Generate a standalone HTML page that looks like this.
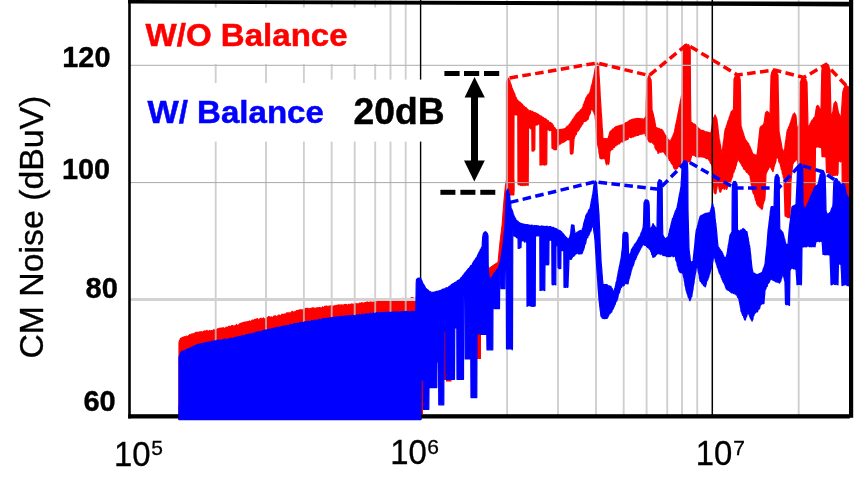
<!DOCTYPE html>
<html lang="en"><head><meta charset="utf-8"><title>CM Noise spectrum</title>
<style>html,body{margin:0;padding:0;background:#fff;}body{width:854px;height:494px;overflow:hidden;font-family:"Liberation Sans",Arial,sans-serif;}svg{display:block;}</style>
</head><body>
<svg width="854" height="494" viewBox="0 0 854 494" font-family="'Liberation Sans', Arial, sans-serif">
<rect width="854" height="494" fill="#fff"/>
<g fill="#ff0000" stroke="#ff0000" stroke-width="1.2" stroke-linejoin="round">
<path d="M179.0,342.7 L179.5,340.6 L180.0,339.8 L180.5,338.4 L181.0,338.8 L181.5,338.3 L182.0,337.6 L182.5,338.2 L183.0,337.2 L183.5,337.7 L184.0,336.8 L184.5,336.7 L185.0,337.1 L185.5,337.6 L186.0,336.2 L186.5,336.2 L187.0,336.7 L187.5,337.1 L188.0,336.2 L188.5,335.7 L189.0,336.6 L189.5,334.7 L190.0,336.0 L190.5,334.8 L191.0,334.3 L191.5,334.1 L192.0,334.2 L192.5,335.0 L193.0,333.6 L193.5,334.2 L194.0,334.1 L194.5,333.4 L195.0,333.5 L195.5,332.5 L196.0,332.3 L196.5,332.3 L197.0,333.0 L197.5,332.4 L198.0,332.1 L198.5,332.5 L199.0,332.2 L199.5,331.9 L200.0,332.7 L200.5,332.4 L201.0,331.6 L201.5,332.1 L202.0,331.9 L202.5,332.5 L203.0,332.1 L203.5,331.3 L204.0,332.5 L204.5,330.8 L205.0,331.3 L205.5,331.8 L206.0,330.7 L206.5,331.2 L207.0,330.3 L207.5,331.4 L208.0,331.5 L208.5,331.1 L209.0,331.6 L209.5,330.5 L210.0,331.1 L210.5,330.9 L211.0,330.8 L211.5,330.5 L212.0,331.1 L212.5,331.2 L213.0,330.3 L213.5,330.6 L214.0,329.4 L214.5,330.5 L215.0,330.3 L215.5,330.9 L216.0,330.4 L216.5,329.4 L217.0,329.4 L217.5,329.8 L218.0,328.6 L218.5,329.2 L219.0,328.6 L219.5,328.4 L220.0,328.2 L220.5,329.3 L221.0,328.1 L221.5,328.2 L222.0,328.3 L222.5,329.1 L223.0,327.5 L223.5,328.1 L224.0,328.2 L224.5,328.6 L225.0,328.4 L225.5,328.4 L226.0,327.2 L226.5,327.4 L227.0,327.1 L227.5,328.0 L228.0,328.0 L228.5,326.4 L229.0,326.4 L229.5,326.4 L230.0,326.2 L230.5,326.6 L231.0,326.7 L231.5,326.0 L232.0,325.4 L232.5,326.0 L233.0,325.8 L233.5,326.1 L234.0,326.6 L234.5,326.1 L235.0,325.6 L235.5,325.7 L236.0,325.6 L236.5,324.4 L237.0,325.8 L237.5,325.4 L238.0,325.4 L238.5,325.2 L239.0,324.3 L239.5,324.2 L240.0,323.5 L240.5,324.3 L241.0,323.2 L241.5,323.0 L242.0,323.1 L242.5,322.9 L243.0,323.1 L243.5,322.5 L244.0,322.2 L244.5,322.4 L245.0,322.1 L245.5,322.5 L246.0,321.7 L246.5,323.1 L247.0,322.5 L247.5,321.5 L248.0,321.6 L248.5,321.6 L249.0,321.5 L249.5,320.9 L250.0,322.1 L250.5,322.2 L251.0,321.1 L251.5,321.0 L252.0,320.2 L252.5,320.1 L253.0,320.4 L253.5,320.1 L254.0,321.0 L254.5,319.6 L255.0,319.2 L255.5,320.8 L256.0,319.9 L256.5,319.0 L257.0,319.6 L257.5,318.5 L258.0,319.4 L258.5,320.1 L259.0,319.8 L259.5,319.4 L260.0,318.5 L260.5,318.6 L261.0,318.2 L261.5,319.2 L262.0,318.7 L262.5,319.1 L263.0,318.2 L263.5,317.9 L264.0,318.9 L264.5,319.1 L265.0,318.8 L265.5,318.6 L266.0,318.5 L266.5,318.3 L267.0,317.3 L267.5,317.7 L268.0,317.4 L268.5,316.7 L269.0,316.6 L269.5,317.0 L270.0,316.8 L270.5,317.5 L271.0,317.9 L271.5,316.9 L272.0,317.7 L272.5,317.7 L273.0,317.6 L273.5,316.4 L274.0,316.1 L274.5,316.0 L275.0,315.9 L275.5,315.8 L276.0,316.5 L276.5,316.8 L277.0,316.6 L277.5,315.8 L278.0,316.0 L278.5,316.2 L279.0,314.8 L279.5,315.7 L280.0,316.0 L280.5,315.6 L281.0,315.5 L281.5,314.9 L282.0,314.2 L282.5,315.2 L283.0,314.2 L283.5,314.9 L284.0,315.1 L284.5,314.0 L285.0,313.9 L285.5,314.7 L286.0,314.2 L286.5,313.1 L287.0,312.9 L287.5,312.8 L288.0,314.0 L288.5,313.7 L289.0,312.4 L289.5,313.5 L290.0,313.7 L290.5,313.0 L291.0,312.3 L291.5,312.5 L292.0,311.6 L292.5,311.3 L293.0,312.9 L293.5,312.2 L294.0,311.9 L294.5,312.5 L295.0,311.4 L295.5,312.1 L296.0,311.9 L296.5,310.7 L297.0,310.6 L297.5,310.6 L298.0,310.4 L298.5,310.9 L299.0,310.1 L299.5,310.3 L300.0,309.7 L300.5,310.9 L301.0,309.8 L301.5,309.9 L302.0,310.0 L302.5,310.4 L303.0,309.4 L303.5,310.2 L304.0,309.4 L304.5,309.4 L305.0,309.3 L305.5,308.3 L306.0,309.0 L306.5,308.5 L307.0,308.1 L307.5,309.5 L308.0,308.3 L308.5,308.8 L309.0,309.2 L309.5,308.9 L310.0,308.4 L310.5,308.7 L311.0,308.7 L311.5,309.0 L312.0,307.8 L312.5,308.5 L313.0,307.9 L313.5,307.9 L314.0,308.7 L314.5,308.2 L315.0,308.2 L315.5,308.5 L316.0,308.8 L316.5,307.9 L317.0,308.1 L317.5,307.9 L318.0,307.8 L318.5,308.1 L319.0,307.6 L319.5,307.7 L320.0,307.5 L320.5,308.3 L321.0,307.8 L321.5,308.1 L322.0,308.1 L322.5,306.8 L323.0,307.3 L323.5,308.0 L324.0,307.7 L324.5,306.4 L325.0,306.3 L325.5,306.8 L326.0,306.1 L326.5,306.4 L327.0,306.0 L327.5,307.0 L328.0,307.2 L328.5,307.3 L329.0,305.9 L329.5,306.9 L330.0,306.7 L330.5,305.7 L331.0,307.0 L331.5,307.1 L332.0,305.7 L332.5,307.0 L333.0,306.0 L333.5,306.1 L334.0,306.9 L334.5,306.6 L335.0,305.4 L335.5,305.8 L336.0,305.9 L336.5,305.6 L337.0,305.3 L337.5,305.4 L338.0,306.1 L338.5,304.8 L339.0,305.8 L339.5,305.5 L340.0,304.7 L340.5,305.2 L341.0,305.7 L341.5,305.5 L342.0,304.6 L342.5,306.2 L343.0,305.9 L343.5,306.1 L344.0,304.5 L344.5,304.8 L345.0,304.3 L345.5,305.6 L346.0,304.7 L346.5,304.4 L347.0,304.9 L347.5,305.7 L348.0,305.5 L348.5,304.5 L349.0,304.2 L349.5,305.6 L350.0,304.9 L350.5,305.1 L351.0,304.0 L351.5,303.9 L352.0,304.9 L352.5,304.4 L353.0,303.8 L353.5,305.3 L354.0,304.7 L354.5,305.0 L355.0,303.6 L355.5,304.9 L356.0,303.4 L356.5,304.8 L357.0,304.0 L357.5,303.8 L358.0,304.1 L358.5,304.7 L359.0,303.4 L359.5,303.1 L360.0,303.8 L360.5,303.2 L361.0,302.9 L361.5,303.0 L362.0,302.7 L362.5,302.9 L363.0,303.0 L363.5,303.0 L364.0,303.7 L364.5,302.8 L365.0,303.1 L365.5,302.5 L366.0,302.7 L366.5,302.1 L367.0,302.4 L367.5,302.0 L368.0,303.2 L368.5,302.8 L369.0,302.1 L369.5,302.5 L370.0,303.3 L370.5,301.8 L371.0,303.0 L371.5,302.2 L372.0,302.3 L372.5,302.8 L373.0,302.0 L373.5,302.1 L374.0,302.4 L374.5,302.9 L375.0,301.6 L375.5,302.5 L376.0,302.2 L376.5,302.0 L377.0,301.5 L377.5,301.4 L378.0,300.8 L378.5,300.9 L379.0,300.7 L379.5,301.9 L380.0,300.9 L380.5,300.7 L381.0,300.5 L381.5,301.8 L382.0,301.8 L382.5,301.4 L383.0,300.6 L383.5,300.5 L384.0,300.6 L384.5,300.8 L385.0,300.2 L385.5,300.7 L386.0,300.3 L386.5,301.5 L387.0,301.5 L387.5,300.6 L388.0,300.0 L388.5,301.3 L389.0,300.0 L389.5,300.1 L390.0,299.4 L390.5,300.0 L391.0,300.1 L391.5,300.1 L392.0,299.5 L392.5,300.0 L393.0,299.1 L393.5,299.5 L394.0,299.1 L394.5,299.6 L395.0,298.9 L395.5,298.8 L396.0,299.3 L396.5,299.1 L397.0,299.7 L397.5,299.5 L398.0,299.9 L398.5,299.6 L399.0,299.7 L399.5,299.9 L400.0,299.0 L400.5,298.9 L401.0,300.0 L401.5,298.5 L402.0,299.5 L402.5,299.3 L403.0,298.2 L403.5,299.6 L404.0,299.7 L404.5,299.1 L405.0,299.3 L405.5,299.4 L406.0,298.2 L406.5,298.8 L407.0,298.8 L407.5,299.3 L408.0,299.2 L408.5,299.3 L409.0,298.8 L409.5,299.3 L410.0,298.9 L410.5,298.9 L411.0,298.0 L411.5,297.6 L412.0,297.8 L412.5,298.2 L413.0,297.7 L413.5,299.0 L414.0,298.4 L414.5,298.5 L415.0,298.5 L415.5,298.6 L416.0,298.2 L416.5,297.3 L417.0,298.7 L417.5,298.6 L418.0,298.2 L418.5,298.3 L419.0,298.5 L419.5,297.4 L420.0,298.6 L420.5,297.8 L421.0,297.4 L421.0,419.5 L420.5,419.5 L420.0,419.5 L419.5,419.5 L419.0,419.5 L418.5,419.5 L418.0,419.5 L417.5,419.5 L417.0,419.5 L416.5,419.5 L416.0,419.5 L415.5,419.5 L415.0,419.5 L414.5,419.5 L414.0,419.5 L413.5,419.5 L413.0,419.5 L412.5,419.5 L412.0,419.5 L411.5,419.5 L411.0,419.5 L410.5,419.5 L410.0,419.5 L409.5,419.5 L409.0,419.5 L408.5,419.5 L408.0,419.5 L407.5,419.5 L407.0,419.5 L406.5,419.5 L406.0,419.5 L405.5,419.5 L405.0,419.5 L404.5,419.5 L404.0,419.5 L403.5,419.5 L403.0,419.5 L402.5,419.5 L402.0,419.5 L401.5,419.5 L401.0,419.5 L400.5,419.5 L400.0,419.5 L399.5,419.5 L399.0,419.5 L398.5,419.5 L398.0,419.5 L397.5,419.5 L397.0,419.5 L396.5,419.5 L396.0,419.5 L395.5,419.5 L395.0,419.5 L394.5,419.5 L394.0,419.5 L393.5,419.5 L393.0,419.5 L392.5,419.5 L392.0,419.5 L391.5,419.5 L391.0,419.5 L390.5,419.5 L390.0,419.5 L389.5,419.5 L389.0,419.5 L388.5,419.5 L388.0,419.5 L387.5,419.5 L387.0,419.5 L386.5,419.5 L386.0,419.5 L385.5,419.5 L385.0,419.5 L384.5,419.5 L384.0,419.5 L383.5,419.5 L383.0,419.5 L382.5,419.5 L382.0,419.5 L381.5,419.5 L381.0,419.5 L380.5,419.5 L380.0,419.5 L379.5,419.5 L379.0,419.5 L378.5,419.5 L378.0,419.5 L377.5,419.5 L377.0,419.5 L376.5,419.5 L376.0,419.5 L375.5,419.5 L375.0,419.5 L374.5,419.5 L374.0,419.5 L373.5,419.5 L373.0,419.5 L372.5,419.5 L372.0,419.5 L371.5,419.5 L371.0,419.5 L370.5,419.5 L370.0,419.5 L369.5,419.5 L369.0,419.5 L368.5,419.5 L368.0,419.5 L367.5,419.5 L367.0,419.5 L366.5,419.5 L366.0,419.5 L365.5,419.5 L365.0,419.5 L364.5,419.5 L364.0,419.5 L363.5,419.5 L363.0,419.5 L362.5,419.5 L362.0,419.5 L361.5,419.5 L361.0,419.5 L360.5,419.5 L360.0,419.5 L359.5,419.5 L359.0,419.5 L358.5,419.5 L358.0,419.5 L357.5,419.5 L357.0,419.5 L356.5,419.5 L356.0,419.5 L355.5,419.5 L355.0,419.5 L354.5,419.5 L354.0,419.5 L353.5,419.5 L353.0,419.5 L352.5,419.5 L352.0,419.5 L351.5,419.5 L351.0,419.5 L350.5,419.5 L350.0,419.5 L349.5,419.5 L349.0,419.5 L348.5,419.5 L348.0,419.5 L347.5,419.5 L347.0,419.5 L346.5,419.5 L346.0,419.5 L345.5,419.5 L345.0,419.5 L344.5,419.5 L344.0,419.5 L343.5,419.5 L343.0,419.5 L342.5,419.5 L342.0,419.5 L341.5,419.5 L341.0,419.5 L340.5,419.5 L340.0,419.5 L339.5,419.5 L339.0,419.5 L338.5,419.5 L338.0,419.5 L337.5,419.5 L337.0,419.5 L336.5,419.5 L336.0,419.5 L335.5,419.5 L335.0,419.5 L334.5,419.5 L334.0,419.5 L333.5,419.5 L333.0,419.5 L332.5,419.5 L332.0,419.5 L331.5,419.5 L331.0,419.5 L330.5,419.5 L330.0,419.5 L329.5,419.5 L329.0,419.5 L328.5,419.5 L328.0,419.5 L327.5,419.5 L327.0,419.5 L326.5,419.5 L326.0,419.5 L325.5,419.5 L325.0,419.5 L324.5,419.5 L324.0,419.5 L323.5,419.5 L323.0,419.5 L322.5,419.5 L322.0,419.5 L321.5,419.5 L321.0,419.5 L320.5,419.5 L320.0,419.5 L319.5,419.5 L319.0,419.5 L318.5,419.5 L318.0,419.5 L317.5,419.5 L317.0,419.5 L316.5,419.5 L316.0,419.5 L315.5,419.5 L315.0,419.5 L314.5,419.5 L314.0,419.5 L313.5,419.5 L313.0,419.5 L312.5,419.5 L312.0,419.5 L311.5,419.5 L311.0,419.5 L310.5,419.5 L310.0,419.5 L309.5,419.5 L309.0,419.5 L308.5,419.5 L308.0,419.5 L307.5,419.5 L307.0,419.5 L306.5,419.5 L306.0,419.5 L305.5,419.5 L305.0,419.5 L304.5,419.5 L304.0,419.5 L303.5,419.5 L303.0,419.5 L302.5,419.5 L302.0,419.5 L301.5,419.5 L301.0,419.5 L300.5,419.5 L300.0,419.5 L299.5,419.5 L299.0,419.5 L298.5,419.5 L298.0,419.5 L297.5,419.5 L297.0,419.5 L296.5,419.5 L296.0,419.5 L295.5,419.5 L295.0,419.5 L294.5,419.5 L294.0,419.5 L293.5,419.5 L293.0,419.5 L292.5,419.5 L292.0,419.5 L291.5,419.5 L291.0,419.5 L290.5,419.5 L290.0,419.5 L289.5,419.5 L289.0,419.5 L288.5,419.5 L288.0,419.5 L287.5,419.5 L287.0,419.5 L286.5,419.5 L286.0,419.5 L285.5,419.5 L285.0,419.5 L284.5,419.5 L284.0,419.5 L283.5,419.5 L283.0,419.5 L282.5,419.5 L282.0,419.5 L281.5,419.5 L281.0,419.5 L280.5,419.5 L280.0,419.5 L279.5,419.5 L279.0,419.5 L278.5,419.5 L278.0,419.5 L277.5,419.5 L277.0,419.5 L276.5,419.5 L276.0,419.5 L275.5,419.5 L275.0,419.5 L274.5,419.5 L274.0,419.5 L273.5,419.5 L273.0,419.5 L272.5,419.5 L272.0,419.5 L271.5,419.5 L271.0,419.5 L270.5,419.5 L270.0,419.5 L269.5,419.5 L269.0,419.5 L268.5,419.5 L268.0,419.5 L267.5,419.5 L267.0,419.5 L266.5,419.5 L266.0,419.5 L265.5,419.5 L265.0,419.5 L264.5,419.5 L264.0,419.5 L263.5,419.5 L263.0,419.5 L262.5,419.5 L262.0,419.5 L261.5,419.5 L261.0,419.5 L260.5,419.5 L260.0,419.5 L259.5,419.5 L259.0,419.5 L258.5,419.5 L258.0,419.5 L257.5,419.5 L257.0,419.5 L256.5,419.5 L256.0,419.5 L255.5,419.5 L255.0,419.5 L254.5,419.5 L254.0,419.5 L253.5,419.5 L253.0,419.5 L252.5,419.5 L252.0,419.5 L251.5,419.5 L251.0,419.5 L250.5,419.5 L250.0,419.5 L249.5,419.5 L249.0,419.5 L248.5,419.5 L248.0,419.5 L247.5,419.5 L247.0,419.5 L246.5,419.5 L246.0,419.5 L245.5,419.5 L245.0,419.5 L244.5,419.5 L244.0,419.5 L243.5,419.5 L243.0,419.5 L242.5,419.5 L242.0,419.5 L241.5,419.5 L241.0,419.5 L240.5,419.5 L240.0,419.5 L239.5,419.5 L239.0,419.5 L238.5,419.5 L238.0,419.5 L237.5,419.5 L237.0,419.5 L236.5,419.5 L236.0,419.5 L235.5,419.5 L235.0,419.5 L234.5,419.5 L234.0,419.5 L233.5,419.5 L233.0,419.5 L232.5,419.5 L232.0,419.5 L231.5,419.5 L231.0,419.5 L230.5,419.5 L230.0,419.5 L229.5,419.5 L229.0,419.5 L228.5,419.5 L228.0,419.5 L227.5,419.5 L227.0,419.5 L226.5,419.5 L226.0,419.5 L225.5,419.5 L225.0,419.5 L224.5,419.5 L224.0,419.5 L223.5,419.5 L223.0,419.5 L222.5,419.5 L222.0,419.5 L221.5,419.5 L221.0,419.5 L220.5,419.5 L220.0,419.5 L219.5,419.5 L219.0,419.5 L218.5,419.5 L218.0,419.5 L217.5,419.5 L217.0,419.5 L216.5,419.5 L216.0,419.5 L215.5,419.5 L215.0,419.5 L214.5,419.5 L214.0,419.5 L213.5,419.5 L213.0,419.5 L212.5,419.5 L212.0,419.5 L211.5,419.5 L211.0,419.5 L210.5,419.5 L210.0,419.5 L209.5,419.5 L209.0,419.5 L208.5,419.5 L208.0,419.5 L207.5,419.5 L207.0,419.5 L206.5,419.5 L206.0,419.5 L205.5,419.5 L205.0,419.5 L204.5,419.5 L204.0,419.5 L203.5,419.5 L203.0,419.5 L202.5,419.5 L202.0,419.5 L201.5,419.5 L201.0,419.5 L200.5,419.5 L200.0,419.5 L199.5,419.5 L199.0,419.5 L198.5,419.5 L198.0,419.5 L197.5,419.5 L197.0,419.5 L196.5,419.5 L196.0,419.5 L195.5,419.5 L195.0,419.5 L194.5,419.5 L194.0,419.5 L193.5,419.5 L193.0,419.5 L192.5,419.5 L192.0,419.5 L191.5,419.5 L191.0,419.5 L190.5,419.5 L190.0,419.5 L189.5,419.5 L189.0,419.5 L188.5,419.5 L188.0,419.5 L187.5,419.5 L187.0,419.5 L186.5,419.5 L186.0,419.5 L185.5,419.5 L185.0,419.5 L184.5,419.5 L184.0,419.5 L183.5,419.5 L183.0,419.5 L182.5,419.5 L182.0,419.5 L181.5,419.5 L181.0,419.5 L180.5,419.5 L180.0,419.5 L179.5,419.5 L179.0,419.5Z"/>
<path d="M506.5,81.7 L506.8,81.6 L507.0,80.1 L507.2,80.1 L507.5,79.7 L507.8,78.7 L508.0,78.3 L508.2,78.2 L508.5,78.3 L508.8,79.0 L509.0,79.5 L509.2,80.2 L509.5,80.1 L509.8,80.8 L510.0,81.7 L510.2,83.1 L510.5,83.2 L510.8,84.3 L511.0,84.3 L511.2,85.1 L511.5,86.2 L511.8,87.5 L512.0,88.3 L512.2,88.8 L512.5,88.9 L512.8,89.8 L513.0,90.4 L513.2,91.0 L513.5,91.1 L513.8,92.8 L514.0,92.4 L514.2,94.1 L514.5,94.6 L514.8,93.9 L515.0,95.1 L515.2,96.2 L515.5,97.1 L515.8,96.9 L516.0,97.3 L516.2,97.8 L516.5,99.4 L516.8,99.0 L517.0,100.1 L517.2,99.7 L517.5,100.5 L517.8,101.3 L518.0,100.4 L518.2,101.6 L518.5,101.4 L518.8,102.2 L519.0,102.1 L519.2,101.7 L519.5,102.9 L519.8,102.5 L520.0,102.1 L520.2,102.3 L520.5,103.2 L520.8,103.4 L521.0,103.4 L521.2,103.4 L521.5,103.9 L521.8,104.1 L522.0,105.1 L522.2,104.1 L522.5,105.4 L522.8,105.7 L523.0,105.0 L523.2,106.3 L523.5,106.2 L523.8,106.7 L524.0,106.1 L524.2,106.4 L524.5,106.7 L524.8,107.8 L525.0,107.4 L525.2,107.3 L525.5,107.6 L525.8,107.7 L526.0,107.6 L526.2,107.9 L526.5,109.1 L526.8,108.6 L527.0,109.7 L527.2,109.0 L527.5,109.2 L527.8,109.8 L528.0,109.6 L528.2,109.9 L528.5,110.9 L528.8,110.9 L529.0,110.9 L529.2,110.7 L529.5,111.2 L529.8,111.4 L530.0,111.0 L530.2,111.3 L530.5,110.5 L530.8,111.5 L531.0,111.3 L531.2,111.8 L531.5,111.8 L531.8,111.4 L532.0,111.1 L532.2,112.5 L532.5,111.5 L532.8,112.1 L533.0,112.0 L533.2,112.1 L533.5,112.8 L533.8,113.2 L534.0,112.3 L534.2,113.0 L534.5,112.6 L534.8,113.1 L535.0,113.0 L535.2,112.8 L535.5,112.9 L535.8,113.0 L536.0,114.1 L536.2,113.7 L536.5,113.4 L536.8,114.5 L537.0,114.7 L537.2,114.1 L537.5,113.8 L537.8,114.0 L538.0,114.0 L538.2,114.6 L538.5,114.4 L538.8,114.7 L539.0,114.9 L539.2,115.5 L539.5,116.1 L539.8,116.1 L540.0,115.7 L540.2,115.9 L540.5,116.2 L540.8,116.2 L541.0,116.3 L541.2,116.0 L541.5,116.5 L541.8,117.6 L542.0,116.6 L542.2,117.3 L542.5,117.6 L542.8,118.1 L543.0,117.3 L543.2,117.6 L543.5,117.7 L543.8,118.1 L544.0,118.3 L544.2,119.1 L544.5,119.2 L544.8,119.3 L545.0,118.3 L545.2,118.5 L545.5,119.6 L545.8,120.0 L546.0,119.6 L546.2,119.9 L546.5,119.3 L546.8,120.0 L547.0,120.9 L547.2,121.0 L547.5,121.2 L547.8,121.5 L548.0,120.7 L548.2,120.7 L548.5,120.9 L548.8,121.6 L549.0,122.1 L549.2,122.6 L549.5,122.5 L549.8,122.6 L550.0,122.9 L550.2,122.7 L550.5,123.0 L550.8,122.4 L551.0,123.7 L551.2,123.1 L551.5,124.2 L551.8,124.0 L552.0,123.7 L552.2,123.9 L552.5,124.4 L552.8,125.3 L553.0,125.8 L553.2,125.3 L553.5,125.6 L553.8,126.7 L554.0,127.1 L554.2,127.2 L554.5,127.4 L554.8,128.3 L555.0,127.8 L555.2,128.6 L555.5,129.2 L555.8,130.3 L556.0,130.2 L556.2,130.5 L556.5,130.0 L556.8,129.6 L557.0,129.6 L557.2,130.6 L557.5,130.3 L557.8,129.7 L558.0,129.3 L558.2,130.0 L558.5,130.2 L558.8,129.9 L559.0,129.7 L559.2,130.2 L559.5,130.6 L559.8,129.6 L560.0,129.3 L560.2,129.7 L560.5,129.8 L560.8,130.1 L561.0,129.4 L561.2,130.2 L561.5,130.0 L561.8,129.7 L562.0,129.2 L562.2,130.2 L562.5,129.2 L562.8,129.9 L563.0,129.0 L563.2,129.0 L563.5,129.7 L563.8,129.0 L564.0,129.8 L564.2,129.1 L564.5,128.7 L564.8,128.7 L565.0,128.9 L565.2,129.0 L565.5,129.1 L565.8,127.8 L566.0,127.9 L566.2,127.3 L566.5,128.2 L566.8,126.7 L567.0,126.4 L567.2,126.1 L567.5,126.4 L567.8,126.8 L568.0,126.5 L568.2,126.1 L568.5,126.2 L568.8,125.9 L569.0,124.8 L569.2,124.3 L569.5,125.1 L569.8,124.6 L570.0,123.3 L570.2,123.9 L570.5,123.1 L570.8,122.7 L571.0,122.3 L571.2,121.7 L571.5,121.1 L571.8,121.1 L572.0,120.8 L572.2,121.3 L572.5,119.7 L572.8,120.5 L573.0,119.1 L573.2,118.9 L573.5,119.2 L573.8,118.8 L574.0,117.9 L574.2,117.0 L574.5,117.2 L574.8,116.7 L575.0,117.1 L575.2,115.7 L575.5,115.6 L575.8,115.9 L576.0,114.3 L576.2,114.6 L576.5,114.9 L576.8,114.6 L577.0,113.4 L577.2,113.1 L577.5,112.9 L577.8,113.8 L578.0,112.7 L578.2,113.1 L578.5,113.1 L578.8,112.0 L579.0,111.7 L579.2,112.4 L579.5,111.7 L579.8,110.9 L580.0,111.3 L580.2,110.5 L580.5,110.2 L580.8,109.6 L581.0,110.4 L581.2,110.3 L581.5,109.7 L581.8,109.9 L582.0,108.3 L582.2,107.9 L582.5,107.6 L582.8,107.6 L583.0,106.9 L583.2,105.4 L583.5,104.5 L583.8,104.1 L584.0,103.5 L584.2,103.4 L584.5,101.7 L584.8,101.9 L585.0,101.1 L585.2,100.5 L585.5,99.8 L585.8,98.8 L586.0,97.8 L586.2,97.4 L586.5,97.1 L586.8,97.4 L587.0,96.0 L587.2,95.9 L587.5,96.3 L587.8,95.2 L588.0,94.6 L588.2,94.3 L588.5,94.6 L588.8,94.0 L589.0,94.5 L589.2,94.1 L589.5,93.9 L589.8,92.5 L590.0,91.9 L590.2,90.9 L590.5,90.4 L590.8,89.6 L591.0,88.2 L591.2,86.8 L591.5,86.0 L591.8,85.3 L592.0,84.3 L592.2,83.3 L592.5,82.4 L592.8,81.1 L593.0,79.3 L593.2,79.2 L593.5,77.4 L593.8,76.7 L594.0,75.4 L594.2,74.5 L594.5,72.4 L594.8,71.1 L595.0,69.7 L595.2,68.2 L595.5,67.8 L595.8,66.0 L596.0,64.3 L596.2,64.0 L596.5,64.4 L596.8,63.4 L597.0,62.6 L597.2,63.8 L597.5,63.9 L597.8,64.7 L598.0,63.8 L598.2,64.6 L598.5,65.4 L598.8,69.9 L599.0,74.3 L599.2,77.5 L599.5,82.2 L599.8,86.3 L600.0,90.8 L600.2,96.3 L600.5,100.1 L600.8,104.5 L601.0,107.6 L601.2,112.2 L601.5,115.5 L601.8,119.2 L602.0,123.8 L602.2,127.9 L602.5,130.6 L602.8,135.2 L603.0,139.2 L603.2,138.6 L603.5,138.8 L603.8,138.5 L604.0,138.6 L604.2,138.7 L604.5,139.2 L604.8,139.3 L605.0,138.7 L605.2,138.5 L605.5,138.9 L605.8,139.4 L606.0,138.7 L606.2,138.9 L606.5,138.8 L606.8,139.6 L607.0,139.3 L607.2,138.6 L607.5,138.7 L607.8,139.1 L608.0,139.4 L608.2,138.6 L608.5,136.9 L608.8,136.0 L609.0,135.8 L609.2,134.5 L609.5,133.4 L609.8,132.5 L610.0,132.4 L610.2,131.3 L610.5,131.5 L610.8,131.0 L611.0,130.9 L611.2,131.3 L611.5,131.3 L611.8,130.2 L612.0,129.8 L612.2,130.3 L612.5,129.4 L612.8,128.9 L613.0,130.0 L613.2,129.1 L613.5,129.4 L613.8,128.7 L614.0,129.1 L614.2,128.3 L614.5,127.7 L614.8,127.3 L615.0,127.9 L615.2,127.8 L615.5,128.0 L615.8,126.6 L616.0,127.2 L616.2,126.7 L616.5,126.9 L616.8,126.3 L617.0,126.4 L617.2,126.7 L617.5,127.2 L617.8,126.0 L618.0,126.4 L618.2,126.8 L618.5,126.9 L618.8,125.8 L619.0,125.6 L619.2,126.7 L619.5,126.7 L619.8,125.9 L620.0,125.2 L620.2,126.4 L620.5,125.6 L620.8,126.2 L621.0,125.7 L621.2,126.0 L621.5,125.0 L621.8,125.8 L622.0,124.9 L622.2,125.1 L622.5,125.6 L622.8,125.5 L623.0,124.6 L623.2,124.4 L623.5,124.5 L623.8,124.6 L624.0,124.2 L624.2,123.7 L624.5,123.7 L624.8,124.2 L625.0,124.3 L625.2,122.9 L625.5,123.5 L625.8,123.6 L626.0,122.5 L626.2,123.4 L626.5,122.3 L626.8,122.8 L627.0,122.6 L627.2,122.5 L627.5,121.9 L627.8,121.9 L628.0,122.0 L628.2,121.6 L628.5,121.8 L628.8,121.3 L629.0,121.1 L629.2,120.4 L629.5,121.1 L629.8,120.7 L630.0,120.2 L630.2,120.9 L630.5,120.9 L630.8,120.3 L631.0,119.9 L631.2,120.2 L631.5,119.6 L631.8,119.6 L632.0,120.0 L632.2,119.4 L632.5,119.8 L632.8,119.9 L633.0,119.1 L633.2,119.9 L633.5,119.1 L633.8,119.9 L634.0,119.9 L634.2,119.5 L634.5,118.8 L634.8,119.3 L635.0,119.1 L635.2,119.8 L635.5,118.6 L635.8,119.5 L636.0,119.7 L636.2,119.2 L636.5,119.3 L636.8,118.3 L637.0,119.4 L637.2,118.7 L637.5,119.4 L637.8,119.4 L638.0,118.4 L638.2,119.3 L638.5,119.5 L638.8,118.3 L639.0,118.7 L639.2,119.3 L639.5,118.5 L639.8,119.6 L640.0,118.8 L640.2,119.6 L640.5,118.7 L640.8,119.2 L641.0,119.8 L641.2,118.8 L641.5,118.9 L641.8,119.3 L642.0,119.1 L642.2,118.7 L642.5,119.0 L642.8,119.0 L643.0,120.1 L643.2,119.8 L643.5,120.1 L643.8,119.1 L644.0,120.0 L644.2,118.6 L644.5,118.7 L644.8,118.4 L645.0,117.6 L645.2,117.9 L645.5,117.0 L645.8,116.6 L646.0,116.5 L646.2,104.2 L646.5,94.2 L646.8,82.4 L647.0,79.4 L647.2,79.5 L647.5,78.2 L647.8,78.7 L648.0,77.7 L648.2,76.8 L648.5,76.9 L648.8,75.9 L649.0,75.0 L649.2,76.4 L649.5,75.9 L649.8,77.5 L650.0,77.2 L650.2,78.3 L650.5,79.2 L650.8,79.2 L651.0,79.8 L651.2,81.6 L651.5,90.6 L651.8,100.0 L652.0,109.5 L652.2,110.9 L652.5,111.4 L652.8,112.3 L653.0,113.6 L653.2,113.7 L653.5,115.1 L653.8,117.0 L654.0,117.3 L654.2,118.6 L654.5,120.3 L654.8,121.2 L655.0,122.8 L655.2,123.9 L655.5,125.6 L655.8,126.9 L656.0,127.6 L656.2,128.3 L656.5,128.1 L656.8,127.7 L657.0,128.9 L657.2,128.1 L657.5,128.0 L657.8,128.0 L658.0,128.9 L658.2,129.3 L658.5,129.2 L658.8,128.8 L659.0,128.7 L659.2,128.4 L659.5,129.4 L659.8,129.3 L660.0,129.1 L660.2,129.6 L660.5,129.4 L660.8,130.2 L661.0,130.0 L661.2,129.4 L661.5,130.4 L661.8,129.3 L662.0,130.0 L662.2,130.3 L662.5,130.4 L662.8,130.6 L663.0,132.0 L663.2,131.3 L663.5,132.5 L663.8,133.5 L664.0,132.7 L664.2,133.2 L664.5,134.2 L664.8,134.5 L665.0,135.1 L665.2,135.7 L665.5,135.2 L665.8,135.8 L666.0,136.2 L666.2,136.2 L666.5,137.7 L666.8,137.9 L667.0,138.2 L667.2,137.5 L667.5,139.0 L667.8,139.2 L668.0,139.2 L668.2,139.9 L668.5,139.9 L668.8,139.9 L669.0,140.1 L669.2,140.6 L669.5,140.7 L669.8,141.4 L670.0,142.3 L670.2,141.8 L670.5,141.4 L670.8,140.7 L671.0,139.6 L671.2,139.5 L671.5,138.8 L671.8,138.8 L672.0,137.9 L672.2,137.0 L672.5,137.0 L672.8,136.9 L673.0,135.4 L673.2,135.8 L673.5,134.1 L673.8,133.9 L674.0,133.3 L674.2,132.8 L674.5,131.8 L674.8,130.3 L675.0,128.5 L675.2,128.0 L675.5,126.0 L675.8,124.6 L676.0,124.3 L676.2,122.6 L676.5,121.5 L676.8,120.2 L677.0,119.4 L677.2,117.4 L677.5,116.7 L677.8,115.2 L678.0,114.2 L678.2,112.4 L678.5,111.5 L678.8,110.0 L679.0,108.4 L679.2,107.0 L679.5,106.4 L679.8,104.4 L680.0,104.3 L680.2,102.0 L680.5,100.6 L680.8,99.5 L681.0,99.5 L681.2,97.4 L681.5,95.9 L681.8,94.6 L682.0,93.4 L682.2,83.3 L682.5,72.2 L682.8,61.3 L683.0,50.3 L683.2,48.6 L683.5,48.6 L683.8,47.6 L684.0,47.4 L684.2,46.7 L684.5,46.0 L684.8,44.8 L685.0,45.8 L685.2,45.8 L685.5,45.7 L685.8,44.4 L686.0,44.4 L686.2,44.2 L686.5,44.0 L686.8,45.0 L687.0,45.0 L687.2,44.9 L687.5,45.3 L687.8,45.1 L688.0,44.7 L688.2,44.6 L688.5,44.7 L688.8,45.7 L689.0,45.1 L689.2,46.1 L689.5,47.1 L689.8,47.4 L690.0,48.6 L690.2,49.5 L690.5,95.6 L690.8,119.5 L691.0,122.2 L691.2,123.3 L691.5,122.8 L691.8,123.5 L692.0,123.3 L692.2,122.6 L692.5,123.3 L692.8,123.5 L693.0,124.1 L693.2,123.7 L693.5,124.3 L693.8,124.3 L694.0,124.0 L694.2,125.0 L694.5,124.1 L694.8,125.3 L695.0,124.5 L695.2,124.6 L695.5,125.1 L695.8,126.1 L696.0,126.7 L696.2,125.6 L696.5,126.5 L696.8,126.7 L697.0,127.4 L697.2,126.8 L697.5,127.5 L697.8,127.5 L698.0,128.5 L698.2,127.9 L698.5,129.1 L698.8,128.4 L699.0,128.6 L699.2,129.5 L699.5,129.5 L699.8,129.2 L700.0,130.2 L700.2,129.5 L700.5,130.6 L700.8,130.5 L701.0,130.7 L701.2,130.6 L701.5,130.3 L701.8,130.4 L702.0,130.5 L702.2,131.3 L702.5,130.3 L702.8,131.5 L703.0,130.3 L703.2,130.7 L703.5,130.8 L703.8,131.8 L704.0,131.3 L704.2,131.2 L704.5,132.0 L704.8,131.2 L705.0,131.6 L705.2,131.8 L705.5,132.2 L705.8,132.3 L706.0,132.2 L706.2,131.9 L706.5,131.9 L706.8,131.8 L707.0,132.8 L707.2,132.7 L707.5,132.8 L707.8,132.1 L708.0,132.6 L708.2,133.1 L708.5,133.0 L708.8,132.4 L709.0,133.0 L709.2,133.6 L709.5,132.8 L709.8,132.8 L710.0,133.1 L710.2,133.7 L710.5,134.0 L710.8,133.1 L711.0,133.2 L711.2,131.6 L711.5,130.0 L711.8,128.6 L712.0,126.4 L712.2,124.9 L712.5,123.0 L712.8,122.4 L713.0,120.3 L713.2,118.8 L713.5,119.4 L713.8,117.6 L714.0,117.3 L714.2,117.6 L714.5,116.7 L714.8,116.0 L715.0,114.9 L715.2,115.2 L715.5,116.4 L715.8,116.3 L716.0,117.1 L716.2,118.0 L716.5,118.1 L716.8,119.2 L717.0,120.4 L717.2,122.5 L717.5,124.4 L717.8,126.7 L718.0,128.7 L718.2,130.4 L718.5,133.3 L718.8,135.2 L719.0,137.8 L719.2,139.4 L719.5,140.2 L719.8,141.7 L720.0,143.3 L720.2,144.3 L720.5,145.4 L720.8,147.4 L721.0,149.0 L721.2,150.3 L721.5,151.5 L721.8,153.1 L722.0,154.3 L722.2,152.2 L722.5,149.9 L722.8,147.7 L723.0,146.2 L723.2,143.4 L723.5,141.9 L723.8,140.4 L724.0,138.3 L724.2,136.2 L724.5,133.7 L724.8,131.9 L725.0,129.9 L725.2,129.5 L725.5,128.5 L725.8,128.1 L726.0,127.8 L726.2,126.0 L726.5,126.0 L726.8,125.4 L727.0,124.2 L727.2,123.6 L727.5,123.6 L727.8,121.6 L728.0,121.6 L728.2,120.3 L728.5,120.5 L728.8,120.0 L729.0,118.7 L729.2,117.3 L729.5,117.1 L729.8,116.2 L730.0,115.7 L730.2,114.5 L730.5,113.9 L730.8,113.3 L731.0,112.0 L731.2,111.7 L731.5,112.2 L731.8,111.0 L732.0,111.5 L732.2,110.9 L732.5,111.2 L732.8,110.1 L733.0,111.1 L733.2,110.1 L733.5,109.5 L733.8,94.7 L734.0,79.6 L734.2,78.3 L734.5,78.2 L734.8,77.5 L735.0,77.1 L735.2,75.9 L735.5,75.6 L735.8,75.4 L736.0,76.0 L736.2,76.1 L736.5,75.4 L736.8,74.8 L737.0,75.5 L737.2,74.9 L737.5,74.7 L737.8,74.8 L738.0,75.8 L738.2,76.0 L738.5,75.8 L738.8,75.7 L739.0,76.0 L739.2,75.8 L739.5,77.6 L739.8,77.6 L740.0,78.9 L740.2,79.9 L740.5,91.7 L740.8,119.3 L741.0,125.5 L741.2,126.8 L741.5,127.1 L741.8,129.0 L742.0,129.1 L742.2,130.6 L742.5,130.6 L742.8,131.5 L743.0,132.2 L743.2,133.2 L743.5,133.7 L743.8,134.3 L744.0,136.1 L744.2,136.3 L744.5,137.0 L744.8,137.9 L745.0,139.0 L745.2,139.3 L745.5,139.9 L745.8,140.3 L746.0,140.3 L746.2,141.5 L746.5,141.7 L746.8,141.0 L747.0,142.5 L747.2,142.9 L747.5,143.1 L747.8,142.6 L748.0,144.0 L748.2,144.1 L748.5,143.6 L748.8,143.9 L749.0,145.6 L749.2,145.8 L749.5,145.8 L749.8,146.1 L750.0,146.7 L750.2,147.4 L750.5,148.8 L750.8,148.7 L751.0,149.0 L751.2,150.6 L751.5,151.0 L751.8,150.7 L752.0,152.3 L752.2,152.5 L752.5,153.3 L752.8,153.7 L753.0,154.6 L753.2,154.5 L753.5,154.7 L753.8,154.0 L754.0,154.8 L754.2,154.7 L754.5,155.1 L754.8,154.8 L755.0,155.5 L755.2,155.2 L755.5,154.9 L755.8,155.0 L756.0,155.0 L756.2,155.6 L756.5,155.1 L756.8,155.8 L757.0,155.5 L757.2,153.7 L757.5,151.3 L757.8,149.1 L758.0,147.2 L758.2,143.6 L758.5,142.5 L758.8,139.6 L759.0,137.4 L759.2,135.2 L759.5,133.1 L759.8,130.2 L760.0,127.9 L760.2,128.4 L760.5,126.9 L760.8,127.4 L761.0,127.2 L761.2,126.1 L761.5,126.7 L761.8,126.5 L762.0,126.6 L762.2,125.5 L762.5,126.2 L762.8,125.3 L763.0,125.0 L763.2,125.3 L763.5,123.8 L763.8,124.6 L764.0,124.2 L764.2,121.9 L764.5,120.8 L764.8,118.3 L765.0,116.6 L765.2,114.9 L765.5,113.4 L765.8,112.3 L766.0,112.4 L766.2,112.1 L766.5,112.1 L766.8,112.2 L767.0,111.2 L767.2,112.1 L767.5,111.7 L767.8,112.1 L768.0,111.9 L768.2,112.4 L768.5,113.3 L768.8,113.0 L769.0,113.4 L769.2,114.2 L769.5,115.5 L769.8,116.9 L770.0,118.7 L770.2,107.9 L770.5,97.2 L770.8,85.3 L771.0,75.3 L771.2,74.9 L771.5,73.7 L771.8,72.4 L772.0,72.1 L772.2,71.0 L772.5,70.6 L772.8,71.5 L773.0,70.9 L773.2,70.8 L773.5,70.9 L773.8,70.9 L774.0,70.4 L774.2,70.3 L774.5,70.2 L774.8,70.4 L775.0,70.4 L775.2,70.6 L775.5,70.1 L775.8,70.9 L776.0,70.7 L776.2,71.2 L776.5,70.4 L776.8,71.2 L777.0,71.7 L777.2,73.4 L777.5,74.2 L777.8,74.6 L778.0,74.8 L778.2,89.6 L778.5,103.8 L778.8,117.6 L779.0,131.4 L779.2,132.8 L779.5,134.3 L779.8,135.5 L780.0,137.0 L780.2,138.7 L780.5,140.5 L780.8,140.6 L781.0,142.7 L781.2,143.3 L781.5,144.7 L781.8,147.1 L782.0,148.1 L782.2,149.3 L782.5,149.4 L782.8,149.6 L783.0,150.8 L783.2,151.9 L783.5,153.1 L783.8,153.9 L784.0,154.0 L784.2,152.0 L784.5,149.7 L784.8,148.6 L785.0,146.2 L785.2,144.2 L785.5,142.2 L785.8,140.3 L786.0,139.4 L786.2,136.7 L786.5,136.1 L786.8,133.0 L787.0,132.2 L787.2,130.5 L787.5,129.7 L787.8,130.1 L788.0,128.8 L788.2,128.8 L788.5,127.4 L788.8,126.6 L789.0,127.0 L789.2,126.2 L789.5,125.8 L789.8,125.0 L790.0,123.4 L790.2,123.4 L790.5,122.8 L790.8,121.7 L791.0,121.6 L791.2,119.9 L791.5,120.2 L791.8,119.1 L792.0,117.3 L792.2,116.6 L792.5,116.7 L792.8,116.2 L793.0,114.4 L793.2,114.5 L793.5,114.8 L793.8,113.8 L794.0,114.5 L794.2,113.7 L794.5,112.9 L794.8,113.7 L795.0,114.4 L795.2,114.7 L795.5,115.4 L795.8,115.1 L796.0,116.4 L796.2,118.8 L796.5,122.2 L796.8,125.2 L797.0,127.9 L797.2,127.6 L797.5,127.8 L797.8,127.8 L798.0,127.3 L798.2,126.7 L798.5,126.0 L798.8,125.4 L799.0,126.4 L799.2,125.8 L799.5,125.7 L799.8,120.5 L800.0,99.3 L800.2,82.6 L800.5,81.8 L800.8,80.9 L801.0,80.0 L801.2,79.6 L801.5,79.7 L801.8,78.4 L802.0,78.7 L802.2,78.4 L802.5,78.7 L802.8,78.5 L803.0,77.6 L803.2,77.1 L803.5,77.3 L803.8,77.4 L804.0,77.7 L804.2,78.2 L804.5,78.5 L804.8,77.4 L805.0,78.7 L805.2,78.8 L805.5,79.0 L805.8,79.2 L806.0,79.4 L806.2,80.7 L806.5,81.3 L806.8,81.7 L807.0,82.6 L807.2,93.3 L807.5,104.4 L807.8,116.6 L808.0,128.4 L808.2,127.1 L808.5,127.4 L808.8,127.2 L809.0,125.8 L809.2,125.8 L809.5,125.4 L809.8,124.7 L810.0,123.8 L810.2,123.4 L810.5,123.7 L810.8,123.3 L811.0,122.3 L811.2,121.3 L811.5,121.9 L811.8,121.3 L812.0,120.1 L812.2,120.3 L812.5,120.4 L812.8,120.1 L813.0,119.3 L813.2,118.9 L813.5,118.8 L813.8,117.9 L814.0,117.6 L814.2,117.3 L814.5,117.7 L814.8,116.9 L815.0,116.9 L815.2,115.0 L815.5,113.6 L815.8,111.4 L816.0,109.6 L816.2,109.3 L816.5,106.8 L816.8,106.2 L817.0,106.6 L817.2,106.5 L817.5,105.4 L817.8,105.8 L818.0,105.8 L818.2,106.4 L818.5,106.0 L818.8,106.3 L819.0,108.0 L819.2,108.2 L819.5,108.0 L819.8,108.6 L820.0,108.7 L820.2,109.9 L820.5,109.9 L820.8,111.1 L821.0,111.4 L821.2,98.6 L821.5,86.0 L821.8,72.2 L822.0,68.8 L822.2,68.4 L822.5,67.7 L822.8,66.9 L823.0,66.2 L823.2,66.2 L823.5,66.0 L823.8,65.3 L824.0,65.9 L824.2,65.8 L824.5,64.5 L824.8,65.1 L825.0,64.8 L825.2,64.3 L825.5,65.3 L825.8,64.3 L826.0,64.6 L826.2,64.8 L826.5,65.3 L826.8,65.0 L827.0,64.8 L827.2,64.9 L827.5,64.6 L827.8,65.9 L828.0,66.0 L828.2,65.0 L828.5,64.9 L828.8,65.9 L829.0,66.8 L829.2,68.3 L829.5,69.1 L829.8,69.7 L830.0,69.4 L830.2,82.6 L830.5,94.6 L830.8,106.7 L831.0,119.3 L831.2,117.0 L831.5,116.2 L831.8,116.1 L832.0,115.4 L832.2,114.1 L832.5,112.6 L832.8,112.1 L833.0,111.4 L833.2,108.7 L833.5,107.3 L833.8,105.4 L834.0,103.5 L834.2,103.6 L834.5,102.9 L834.8,102.6 L835.0,102.2 L835.2,102.6 L835.5,101.3 L835.8,102.6 L836.0,102.2 L836.2,102.4 L836.5,103.9 L836.8,103.3 L837.0,104.6 L837.2,106.3 L837.5,108.0 L837.8,108.7 L838.0,110.9 L838.2,111.1 L838.5,112.9 L838.8,113.4 L839.0,113.7 L839.2,114.1 L839.5,114.6 L839.8,115.9 L840.0,116.0 L840.2,116.9 L840.5,116.8 L840.8,117.6 L841.0,118.0 L841.2,115.2 L841.5,111.3 L841.8,107.0 L842.0,104.3 L842.2,99.8 L842.5,96.3 L842.8,92.3 L843.0,91.1 L843.2,91.2 L843.5,89.7 L843.8,88.7 L844.0,88.5 L844.2,87.5 L844.5,87.6 L844.8,86.3 L845.0,87.4 L845.2,86.0 L845.5,87.1 L845.8,86.6 L846.0,85.9 L846.2,86.1 L846.5,85.7 L846.8,85.8 L847.0,85.9 L847.2,86.3 L847.5,87.3 L847.8,87.5 L848.0,87.6 L848.2,86.6 L848.5,87.0 L848.8,88.0 L849.0,87.0 L849.2,88.1 L849.5,87.7 L849.5,208.0 L849.2,206.1 L849.0,207.8 L848.8,206.3 L848.5,206.5 L848.2,207.4 L848.0,207.4 L847.8,207.0 L847.5,207.7 L847.2,207.1 L847.0,208.0 L846.8,206.2 L846.5,207.2 L846.2,206.0 L846.0,207.9 L845.8,205.9 L845.5,207.3 L845.2,206.8 L845.0,205.9 L844.8,207.9 L844.5,206.9 L844.2,208.0 L844.0,206.9 L843.8,207.2 L843.5,207.7 L843.2,207.5 L843.0,206.5 L842.8,207.7 L842.5,206.5 L842.2,183.6 L842.0,161.2 L841.8,160.8 L841.5,161.1 L841.2,160.6 L841.0,159.9 L840.8,161.1 L840.5,162.0 L840.2,160.3 L840.0,161.7 L839.8,160.7 L839.5,161.2 L839.2,161.0 L839.0,160.9 L838.8,160.7 L838.5,161.1 L838.2,162.2 L838.0,173.8 L837.8,173.9 L837.5,175.4 L837.2,175.2 L837.0,175.4 L836.8,174.0 L836.5,173.4 L836.2,174.3 L836.0,174.5 L835.8,174.6 L835.5,175.4 L835.2,173.9 L835.0,174.1 L834.8,173.9 L834.5,174.0 L834.2,175.7 L834.0,173.3 L833.8,174.5 L833.5,174.1 L833.2,173.6 L833.0,175.4 L832.8,175.3 L832.5,175.7 L832.2,174.7 L832.0,174.3 L831.8,175.0 L831.5,173.4 L831.2,174.5 L831.0,175.0 L830.8,174.9 L830.5,173.4 L830.2,174.7 L830.0,175.1 L829.8,172.9 L829.5,172.3 L829.2,173.4 L829.0,171.0 L828.8,171.3 L828.5,171.1 L828.2,172.6 L828.0,172.6 L827.8,172.1 L827.5,172.4 L827.2,170.9 L827.0,171.8 L826.8,172.6 L826.5,172.4 L826.2,164.8 L826.0,156.0 L825.8,156.0 L825.5,155.9 L825.2,156.9 L825.0,155.9 L824.8,155.8 L824.5,156.8 L824.2,155.9 L824.0,155.9 L823.8,156.2 L823.5,154.9 L823.2,156.6 L823.0,157.0 L822.8,156.0 L822.5,156.1 L822.2,155.7 L822.0,156.6 L821.8,150.2 L821.5,146.1 L821.2,146.9 L821.0,146.2 L820.8,147.0 L820.5,147.6 L820.2,145.8 L820.0,147.5 L819.8,146.7 L819.5,146.2 L819.2,146.1 L819.0,147.2 L818.8,146.9 L818.5,146.3 L818.2,146.0 L818.0,147.0 L817.8,146.2 L817.5,146.4 L817.2,145.4 L817.0,146.2 L816.8,146.8 L816.5,147.2 L816.2,146.3 L816.0,145.8 L815.8,147.4 L815.5,146.8 L815.2,172.3 L815.0,200.8 L814.8,199.7 L814.5,200.3 L814.2,200.5 L814.0,202.0 L813.8,201.0 L813.5,201.1 L813.2,202.7 L813.0,202.1 L812.8,202.1 L812.5,203.3 L812.2,203.5 L812.0,204.0 L811.8,204.0 L811.5,205.0 L811.2,205.0 L811.0,206.1 L810.8,205.2 L810.5,207.0 L810.2,207.5 L810.0,207.1 L809.8,207.4 L809.5,208.3 L809.2,209.4 L809.0,208.3 L808.8,207.9 L808.5,209.2 L808.2,209.7 L808.0,210.7 L807.8,209.4 L807.5,208.5 L807.2,208.7 L807.0,208.2 L806.8,207.8 L806.5,209.3 L806.2,209.0 L806.0,207.7 L805.8,206.7 L805.5,208.4 L805.2,208.2 L805.0,207.8 L804.8,207.1 L804.5,206.4 L804.2,207.0 L804.0,205.2 L803.8,205.1 L803.5,206.3 L803.2,205.3 L803.0,205.1 L802.8,202.6 L802.5,201.0 L802.2,196.6 L802.0,194.3 L801.8,192.4 L801.5,190.1 L801.2,188.0 L801.0,184.9 L800.8,183.5 L800.5,179.4 L800.2,177.8 L800.0,174.3 L799.8,173.7 L799.5,172.4 L799.2,170.2 L799.0,169.7 L798.8,168.1 L798.5,166.4 L798.2,164.7 L798.0,164.0 L797.8,161.7 L797.5,161.2 L797.2,159.5 L797.0,157.1 L796.8,159.2 L796.5,158.6 L796.2,158.7 L796.0,159.9 L795.8,159.9 L795.5,158.5 L795.2,161.2 L795.0,159.9 L794.8,160.8 L794.5,161.4 L794.2,160.9 L794.0,162.1 L793.8,160.9 L793.5,163.3 L793.2,163.4 L793.0,163.8 L792.8,164.2 L792.5,166.5 L792.2,168.8 L792.0,171.2 L791.8,173.9 L791.5,175.2 L791.2,178.9 L791.0,180.3 L790.8,188.1 L790.5,199.7 L790.2,206.9 L790.0,216.8 L789.8,216.7 L789.5,216.6 L789.2,218.0 L789.0,216.6 L788.8,216.3 L788.5,216.5 L788.2,217.2 L788.0,217.5 L787.8,217.7 L787.5,217.0 L787.2,216.6 L787.0,216.5 L786.8,216.7 L786.5,216.8 L786.2,215.1 L786.0,215.9 L785.8,216.3 L785.5,215.9 L785.2,216.1 L785.0,214.9 L784.8,205.6 L784.5,196.8 L784.2,187.3 L784.0,178.2 L783.8,178.3 L783.5,177.7 L783.2,177.0 L783.0,174.3 L782.8,173.7 L782.5,174.1 L782.2,172.1 L782.0,170.8 L781.8,169.3 L781.5,169.3 L781.2,169.0 L781.0,166.6 L780.8,167.0 L780.5,164.8 L780.2,164.5 L780.0,162.8 L779.8,163.0 L779.5,161.5 L779.2,162.7 L779.0,160.7 L778.8,161.7 L778.5,158.7 L778.2,158.3 L778.0,158.4 L777.8,157.3 L777.5,157.3 L777.2,155.5 L777.0,156.5 L776.8,157.6 L776.5,157.2 L776.2,157.7 L776.0,160.9 L775.8,161.6 L775.5,162.1 L775.2,163.6 L775.0,163.1 L774.8,163.5 L774.5,165.8 L774.2,165.5 L774.0,166.3 L773.8,168.8 L773.5,168.3 L773.2,171.1 L773.0,169.8 L772.8,171.7 L772.5,169.2 L772.2,168.5 L772.0,168.7 L771.8,169.9 L771.5,169.1 L771.2,167.0 L771.0,168.2 L770.8,167.5 L770.5,166.1 L770.2,166.9 L770.0,164.8 L769.8,166.9 L769.5,166.6 L769.2,166.8 L769.0,167.6 L768.8,168.3 L768.5,167.5 L768.2,169.7 L768.0,169.2 L767.8,169.3 L767.5,169.7 L767.2,171.4 L767.0,171.7 L766.8,171.0 L766.5,172.9 L766.2,173.4 L766.0,172.2 L765.8,179.4 L765.5,184.8 L765.2,192.9 L765.0,197.5 L764.8,199.3 L764.5,200.5 L764.2,200.0 L764.0,201.0 L763.8,202.4 L763.5,202.9 L763.2,203.8 L763.0,204.7 L762.8,206.6 L762.5,208.2 L762.2,209.1 L762.0,208.8 L761.8,208.9 L761.5,207.4 L761.2,209.1 L761.0,207.7 L760.8,208.0 L760.5,206.4 L760.2,207.7 L760.0,205.9 L759.8,207.6 L759.5,205.9 L759.2,206.0 L759.0,206.5 L758.8,205.2 L758.5,205.6 L758.2,205.0 L758.0,205.9 L757.8,203.9 L757.5,204.9 L757.2,202.8 L757.0,202.9 L756.8,204.0 L756.5,202.8 L756.2,200.7 L756.0,199.9 L755.8,199.6 L755.5,200.3 L755.2,197.7 L755.0,197.8 L754.8,197.0 L754.5,195.1 L754.2,194.6 L754.0,193.6 L753.8,193.0 L753.5,193.8 L753.2,191.8 L753.0,192.9 L752.8,190.6 L752.5,190.9 L752.2,189.8 L752.0,188.6 L751.8,185.8 L751.5,184.4 L751.2,184.6 L751.0,181.9 L750.8,179.6 L750.5,178.3 L750.2,177.9 L750.0,175.7 L749.8,174.3 L749.5,175.2 L749.2,174.9 L749.0,174.5 L748.8,173.2 L748.5,174.1 L748.2,172.8 L748.0,173.2 L747.8,173.1 L747.5,172.6 L747.2,172.5 L747.0,172.1 L746.8,171.6 L746.5,172.3 L746.2,170.3 L746.0,171.6 L745.8,169.8 L745.5,169.5 L745.2,169.0 L745.0,169.2 L744.8,169.8 L744.5,169.2 L744.2,167.5 L744.0,169.4 L743.8,168.1 L743.5,168.6 L743.2,166.1 L743.0,166.8 L742.8,165.9 L742.5,166.4 L742.2,165.8 L742.0,165.1 L741.8,165.3 L741.5,163.5 L741.2,163.9 L741.0,162.6 L740.8,162.8 L740.5,163.1 L740.2,162.0 L740.0,162.1 L739.8,161.9 L739.5,160.4 L739.2,159.7 L739.0,160.9 L738.8,159.7 L738.5,159.8 L738.2,158.6 L738.0,157.3 L737.8,158.0 L737.5,159.5 L737.2,161.7 L737.0,162.4 L736.8,161.6 L736.5,163.7 L736.2,165.5 L736.0,165.9 L735.8,165.5 L735.5,167.5 L735.2,169.0 L735.0,169.2 L734.8,169.0 L734.5,170.1 L734.2,170.4 L734.0,172.2 L733.8,171.9 L733.5,172.3 L733.2,172.7 L733.0,173.9 L732.8,174.6 L732.5,176.8 L732.2,176.5 L732.0,176.2 L731.8,178.8 L731.5,178.5 L731.2,180.0 L731.0,179.7 L730.8,181.7 L730.5,181.3 L730.2,180.9 L730.0,181.2 L729.8,182.9 L729.5,184.3 L729.2,183.4 L729.0,185.4 L728.8,185.0 L728.5,186.0 L728.2,185.5 L728.0,186.0 L727.8,186.0 L727.5,186.8 L727.2,187.7 L727.0,188.9 L726.8,188.5 L726.5,188.5 L726.2,189.5 L726.0,187.4 L725.8,187.7 L725.5,188.1 L725.2,187.8 L725.0,187.8 L724.8,188.1 L724.5,188.3 L724.2,189.5 L724.0,187.9 L723.8,187.9 L723.5,187.2 L723.2,187.9 L723.0,188.3 L722.8,187.7 L722.5,188.4 L722.2,188.1 L722.0,188.6 L721.8,189.2 L721.5,188.7 L721.2,190.1 L721.0,191.3 L720.8,191.7 L720.5,192.1 L720.2,191.4 L720.0,192.2 L719.8,191.5 L719.5,190.2 L719.2,189.2 L719.0,188.1 L718.8,186.6 L718.5,184.8 L718.2,182.2 L718.0,183.2 L717.8,184.5 L717.5,184.8 L717.2,186.3 L717.0,186.9 L716.8,188.9 L716.5,189.7 L716.2,191.1 L716.0,193.4 L715.8,192.1 L715.5,191.8 L715.2,194.0 L715.0,192.7 L714.8,191.5 L714.5,192.2 L714.2,192.8 L714.0,191.3 L713.8,188.7 L713.5,185.4 L713.2,182.4 L713.0,178.7 L712.8,175.0 L712.5,171.1 L712.2,167.3 L712.0,165.2 L711.8,165.5 L711.5,163.4 L711.2,163.3 L711.0,162.2 L710.8,163.1 L710.5,163.3 L710.2,161.7 L710.0,162.3 L709.8,160.2 L709.5,160.6 L709.2,159.9 L709.0,160.2 L708.8,160.1 L708.5,158.1 L708.2,157.3 L708.0,158.7 L707.8,158.8 L707.5,157.8 L707.2,156.9 L707.0,157.3 L706.8,156.4 L706.5,158.6 L706.2,158.2 L706.0,157.8 L705.8,157.3 L705.5,158.1 L705.2,156.2 L705.0,156.7 L704.8,157.4 L704.5,156.3 L704.2,156.9 L704.0,155.9 L703.8,157.3 L703.5,155.6 L703.2,155.3 L703.0,155.4 L702.8,156.4 L702.5,157.0 L702.2,156.0 L702.0,155.3 L701.8,155.4 L701.5,156.4 L701.2,157.0 L701.0,155.1 L700.8,156.7 L700.5,156.1 L700.2,155.0 L700.0,156.2 L699.8,154.9 L699.5,156.5 L699.2,157.1 L699.0,156.6 L698.8,155.7 L698.5,155.1 L698.2,156.8 L698.0,156.4 L697.8,156.6 L697.5,155.6 L697.2,156.6 L697.0,155.2 L696.8,156.8 L696.5,156.8 L696.2,155.9 L696.0,156.6 L695.8,155.9 L695.5,156.4 L695.2,155.2 L695.0,155.8 L694.8,154.8 L694.5,154.5 L694.2,155.3 L694.0,153.8 L693.8,154.6 L693.5,154.2 L693.2,153.7 L693.0,155.3 L692.8,153.7 L692.5,155.1 L692.2,154.5 L692.0,155.4 L691.8,154.3 L691.5,155.7 L691.2,157.6 L691.0,156.7 L690.8,159.0 L690.5,160.5 L690.2,159.2 L690.0,161.6 L689.8,161.6 L689.5,161.3 L689.2,162.1 L689.0,161.1 L688.8,160.3 L688.5,161.2 L688.2,160.5 L688.0,161.8 L687.8,161.7 L687.5,160.8 L687.2,162.0 L687.0,161.2 L686.8,162.1 L686.5,162.0 L686.2,161.5 L686.0,162.2 L685.8,161.2 L685.5,161.7 L685.2,163.2 L685.0,161.5 L684.8,162.6 L684.5,163.5 L684.2,161.9 L684.0,161.8 L683.8,162.5 L683.5,163.0 L683.2,163.0 L683.0,162.8 L682.8,163.4 L682.5,163.0 L682.2,163.9 L682.0,162.6 L681.8,163.7 L681.5,164.4 L681.2,163.3 L681.0,163.1 L680.8,165.3 L680.5,164.2 L680.2,164.2 L680.0,165.2 L679.8,165.0 L679.5,166.3 L679.2,165.5 L679.0,165.0 L678.8,166.0 L678.5,166.4 L678.2,165.2 L678.0,167.2 L677.8,167.0 L677.5,168.0 L677.2,168.3 L677.0,168.3 L676.8,168.6 L676.5,169.0 L676.2,168.0 L676.0,167.9 L675.8,167.6 L675.5,168.1 L675.2,168.7 L675.0,169.5 L674.8,168.7 L674.5,167.9 L674.2,167.1 L674.0,168.4 L673.8,167.7 L673.5,166.9 L673.2,165.9 L673.0,165.2 L672.8,164.9 L672.5,164.6 L672.2,164.5 L672.0,163.2 L671.8,163.0 L671.5,163.4 L671.2,163.1 L671.0,162.6 L670.8,160.2 L670.5,161.6 L670.2,160.0 L670.0,160.2 L669.8,158.9 L669.5,158.6 L669.2,160.4 L669.0,158.8 L668.8,157.7 L668.5,158.6 L668.2,156.8 L668.0,157.6 L667.8,156.6 L667.5,155.9 L667.2,156.4 L667.0,156.0 L666.8,156.7 L666.5,156.3 L666.2,155.5 L666.0,155.4 L665.8,154.6 L665.5,154.1 L665.2,152.5 L665.0,152.7 L664.8,153.8 L664.5,152.3 L664.2,152.4 L664.0,151.6 L663.8,151.2 L663.5,152.1 L663.2,150.2 L663.0,150.2 L662.8,151.3 L662.5,151.6 L662.2,151.6 L662.0,150.2 L661.8,152.1 L661.5,152.0 L661.2,151.6 L661.0,150.6 L660.8,150.9 L660.5,152.3 L660.2,152.2 L660.0,150.5 L659.8,150.9 L659.5,151.3 L659.2,151.4 L659.0,152.4 L658.8,153.2 L658.5,152.5 L658.2,152.7 L658.0,153.4 L657.8,150.7 L657.5,151.6 L657.2,150.2 L657.0,150.4 L656.8,150.0 L656.5,148.6 L656.2,149.3 L656.0,149.8 L655.8,148.7 L655.5,146.7 L655.2,147.8 L655.0,147.9 L654.8,145.1 L654.5,144.8 L654.2,144.6 L654.0,144.6 L653.8,144.3 L653.5,143.5 L653.2,142.5 L653.0,142.9 L652.8,143.4 L652.5,142.0 L652.2,142.1 L652.0,141.4 L651.8,141.7 L651.5,141.9 L651.2,141.6 L651.0,141.1 L650.8,142.7 L650.5,142.4 L650.2,141.5 L650.0,141.7 L649.8,141.8 L649.5,140.5 L649.2,141.8 L649.0,141.1 L648.8,141.3 L648.5,139.8 L648.2,139.9 L648.0,138.5 L647.8,139.8 L647.5,138.0 L647.2,137.7 L647.0,138.7 L646.8,137.1 L646.5,136.9 L646.2,135.8 L646.0,135.4 L645.8,136.0 L645.5,135.7 L645.2,133.9 L645.0,133.9 L644.8,133.2 L644.5,133.3 L644.2,132.8 L644.0,131.6 L643.8,132.2 L643.5,132.9 L643.2,133.2 L643.0,134.1 L642.8,133.2 L642.5,132.5 L642.2,133.9 L642.0,133.7 L641.8,132.2 L641.5,134.0 L641.2,132.6 L641.0,134.5 L640.8,133.6 L640.5,133.5 L640.2,134.2 L640.0,132.7 L639.8,133.7 L639.5,134.2 L639.2,134.8 L639.0,134.6 L638.8,134.6 L638.5,135.2 L638.2,134.1 L638.0,135.4 L637.8,133.4 L637.5,133.9 L637.2,135.3 L637.0,135.2 L636.8,134.4 L636.5,135.3 L636.2,133.9 L636.0,135.6 L635.8,136.1 L635.5,134.5 L635.2,136.0 L635.0,134.5 L634.8,134.9 L634.5,134.5 L634.2,136.0 L634.0,136.6 L633.8,134.8 L633.5,135.5 L633.2,136.8 L633.0,137.0 L632.8,135.1 L632.5,136.0 L632.2,136.9 L632.0,136.4 L631.8,136.1 L631.5,137.3 L631.2,137.1 L631.0,137.8 L630.8,136.3 L630.5,137.5 L630.2,136.8 L630.0,136.3 L629.8,137.2 L629.5,137.2 L629.2,137.1 L629.0,137.1 L628.8,136.9 L628.5,137.1 L628.2,138.8 L628.0,139.0 L627.8,139.5 L627.5,137.8 L627.2,138.1 L627.0,139.3 L626.8,138.7 L626.5,140.0 L626.2,138.7 L626.0,139.9 L625.8,140.0 L625.5,139.5 L625.2,139.5 L625.0,140.4 L624.8,140.5 L624.5,139.1 L624.2,139.8 L624.0,139.6 L623.8,141.5 L623.5,141.7 L623.2,141.5 L623.0,142.0 L622.8,140.9 L622.5,140.8 L622.2,141.9 L622.0,140.7 L621.8,141.1 L621.5,141.4 L621.2,141.0 L621.0,141.7 L620.8,142.3 L620.5,142.1 L620.2,142.7 L620.0,141.8 L619.8,143.2 L619.5,142.6 L619.2,144.0 L619.0,142.5 L618.8,142.4 L618.5,143.3 L618.2,143.3 L618.0,144.0 L617.8,144.4 L617.5,143.9 L617.2,144.9 L617.0,143.9 L616.8,144.7 L616.5,144.7 L616.2,144.0 L616.0,145.9 L615.8,144.5 L615.5,145.7 L615.2,145.1 L615.0,145.6 L614.8,146.4 L614.5,147.3 L614.2,146.0 L614.0,147.3 L613.8,146.2 L613.5,147.2 L613.2,146.9 L613.0,147.8 L612.8,149.1 L612.5,147.5 L612.2,149.5 L612.0,148.4 L611.8,149.4 L611.5,148.8 L611.2,148.5 L611.0,150.3 L610.8,150.6 L610.5,149.9 L610.2,149.4 L610.0,151.3 L609.8,153.3 L609.5,156.3 L609.2,161.1 L609.0,163.2 L608.8,163.6 L608.5,164.4 L608.2,162.9 L608.0,163.4 L607.8,163.5 L607.5,163.3 L607.2,163.4 L607.0,163.6 L606.8,164.8 L606.5,163.1 L606.2,163.0 L606.0,163.8 L605.8,162.1 L605.5,160.8 L605.2,158.2 L605.0,157.6 L604.8,157.1 L604.5,158.8 L604.2,156.9 L604.0,157.4 L603.8,157.0 L603.5,157.3 L603.2,158.6 L603.0,158.0 L602.8,158.9 L602.5,157.5 L602.2,157.2 L602.0,158.4 L601.8,157.5 L601.5,157.1 L601.2,158.8 L601.0,157.7 L600.8,158.7 L600.5,157.8 L600.2,157.1 L600.0,158.3 L599.8,157.0 L599.5,154.1 L599.2,154.0 L599.0,152.7 L598.8,149.1 L598.5,148.1 L598.2,147.6 L598.0,145.7 L597.8,145.5 L597.5,143.1 L597.2,142.4 L597.0,138.9 L596.8,136.6 L596.5,133.6 L596.2,130.3 L596.0,127.7 L595.8,125.3 L595.5,120.3 L595.2,117.6 L595.0,114.2 L594.8,114.0 L594.5,114.3 L594.2,112.7 L594.0,113.1 L593.8,110.7 L593.5,110.2 L593.2,111.4 L593.0,110.3 L592.8,110.2 L592.5,108.8 L592.2,107.3 L592.0,106.5 L591.8,107.3 L591.5,109.5 L591.2,108.8 L591.0,109.4 L590.8,110.8 L590.5,111.9 L590.2,113.6 L590.0,113.2 L589.8,114.2 L589.5,113.9 L589.2,115.3 L589.0,115.9 L588.8,115.9 L588.5,117.7 L588.2,118.2 L588.0,119.5 L587.8,118.4 L587.5,117.9 L587.2,119.7 L587.0,119.0 L586.8,120.3 L586.5,119.6 L586.2,118.9 L586.0,120.5 L585.8,121.5 L585.5,120.2 L585.2,121.0 L585.0,121.2 L584.8,120.3 L584.5,120.5 L584.2,121.5 L584.0,121.7 L583.8,121.3 L583.5,121.2 L583.2,122.0 L583.0,123.3 L582.8,124.0 L582.5,124.0 L582.2,124.1 L582.0,124.9 L581.8,123.5 L581.5,124.8 L581.2,126.0 L581.0,126.7 L580.8,125.6 L580.5,125.6 L580.2,127.6 L580.0,127.3 L579.8,127.2 L579.5,129.2 L579.2,128.7 L579.0,128.7 L578.8,129.2 L578.5,130.7 L578.2,130.9 L578.0,130.6 L577.8,130.9 L577.5,131.0 L577.2,131.3 L577.0,131.0 L576.8,132.6 L576.5,133.4 L576.2,134.6 L576.0,133.6 L575.8,134.7 L575.5,134.7 L575.2,135.2 L575.0,136.4 L574.8,136.5 L574.5,137.0 L574.2,138.7 L574.0,138.1 L573.8,142.4 L573.5,146.5 L573.2,149.2 L573.0,153.2 L572.8,151.9 L572.5,151.8 L572.2,154.0 L572.0,152.8 L571.8,152.3 L571.5,154.1 L571.2,153.8 L571.0,153.8 L570.8,152.6 L570.5,154.0 L570.2,149.8 L570.0,140.2 L569.8,140.1 L569.5,138.9 L569.2,139.2 L569.0,138.7 L568.8,139.2 L568.5,139.2 L568.2,140.0 L568.0,139.7 L567.8,138.7 L567.5,139.0 L567.2,139.5 L567.0,139.2 L566.8,139.1 L566.5,140.3 L566.2,139.8 L566.0,139.9 L565.8,139.8 L565.5,140.5 L565.2,141.3 L565.0,141.2 L564.8,140.4 L564.5,140.9 L564.2,142.0 L564.0,141.0 L563.8,141.3 L563.5,141.9 L563.2,140.2 L563.0,142.4 L562.8,140.7 L562.5,142.7 L562.2,142.4 L562.0,142.7 L561.8,142.1 L561.5,143.0 L561.2,143.1 L561.0,143.3 L560.8,143.0 L560.5,143.9 L560.2,144.2 L560.0,143.8 L559.8,144.1 L559.5,143.5 L559.2,143.7 L559.0,143.4 L558.8,145.0 L558.5,145.7 L558.2,144.2 L558.0,144.1 L557.8,146.2 L557.5,146.1 L557.2,146.6 L557.0,146.4 L556.8,147.9 L556.5,149.6 L556.2,147.7 L556.0,147.9 L555.8,149.4 L555.5,148.2 L555.2,149.9 L555.0,148.2 L554.8,148.7 L554.5,148.8 L554.2,148.1 L554.0,149.6 L553.8,148.3 L553.5,147.5 L553.2,148.9 L553.0,148.4 L552.8,148.7 L552.5,148.0 L552.2,148.1 L552.0,148.2 L551.8,129.9 L551.5,130.3 L551.2,130.1 L551.0,129.9 L550.8,130.5 L550.5,129.3 L550.2,130.4 L550.0,130.2 L549.8,130.3 L549.5,130.8 L549.2,130.1 L549.0,129.0 L548.8,129.4 L548.5,129.5 L548.2,129.8 L548.0,129.5 L547.8,129.1 L547.5,129.1 L547.2,129.2 L547.0,130.1 L546.8,163.9 L546.5,163.4 L546.2,164.0 L546.0,165.1 L545.8,164.2 L545.5,163.1 L545.2,164.4 L545.0,163.5 L544.8,163.5 L544.5,165.1 L544.2,163.8 L544.0,164.0 L543.8,163.4 L543.5,164.3 L543.2,165.0 L543.0,164.1 L542.8,163.5 L542.5,164.4 L542.2,163.4 L542.0,164.3 L541.8,162.9 L541.5,164.9 L541.2,164.9 L541.0,164.7 L540.8,164.3 L540.5,165.0 L540.2,164.7 L540.0,165.1 L539.8,123.1 L539.5,122.8 L539.2,124.0 L539.0,123.8 L538.8,123.0 L538.5,124.1 L538.2,123.7 L538.0,124.3 L537.8,123.8 L537.5,123.4 L537.2,125.0 L537.0,125.1 L536.8,124.0 L536.5,122.9 L536.2,124.8 L536.0,124.8 L535.8,125.0 L535.5,124.7 L535.2,125.2 L535.0,123.8 L534.8,149.6 L534.5,149.4 L534.2,149.6 L534.0,150.7 L533.8,151.1 L533.5,149.7 L533.2,150.1 L533.0,150.8 L532.8,149.8 L532.5,149.7 L532.2,151.1 L532.0,150.8 L531.8,127.2 L531.5,128.6 L531.2,128.2 L531.0,127.2 L530.8,128.9 L530.5,128.2 L530.2,127.1 L530.0,127.8 L529.8,127.1 L529.5,127.5 L529.2,128.0 L529.0,128.0 L528.8,127.1 L528.5,126.9 L528.2,185.1 L528.0,185.5 L527.8,183.6 L527.5,185.1 L527.2,184.7 L527.0,184.8 L526.8,184.8 L526.5,183.4 L526.2,183.9 L526.0,185.1 L525.8,183.6 L525.5,183.5 L525.2,185.4 L525.0,184.0 L524.8,183.6 L524.5,183.8 L524.2,183.9 L524.0,185.7 L523.8,183.4 L523.5,184.7 L523.2,184.7 L523.0,184.6 L522.8,184.6 L522.5,185.7 L522.2,185.5 L522.0,183.5 L521.8,185.2 L521.5,184.3 L521.2,185.1 L521.0,184.2 L520.8,185.5 L520.5,185.4 L520.2,185.1 L520.0,183.7 L519.8,184.6 L519.5,184.5 L519.2,184.6 L519.0,183.4 L518.8,184.8 L518.5,184.3 L518.2,183.8 L518.0,184.3 L517.8,114.8 L517.5,113.2 L517.2,113.4 L517.0,114.9 L516.8,113.9 L516.5,115.0 L516.2,112.8 L516.0,114.0 L515.8,114.9 L515.5,114.8 L515.2,113.6 L515.0,114.7 L514.8,112.9 L514.5,114.5 L514.2,113.8 L514.0,114.6 L513.8,191.0 L513.5,191.3 L513.2,192.2 L513.0,192.7 L512.8,192.5 L512.5,192.3 L512.2,191.3 L512.0,191.5 L511.8,192.0 L511.5,192.3 L511.2,191.0 L511.0,191.0 L510.8,191.3 L510.5,192.5 L510.2,192.6 L510.0,191.2 L509.8,191.1 L509.5,192.2 L509.2,191.3 L509.0,193.0 L508.8,191.8 L508.5,191.2 L508.2,192.1 L508.0,192.8 L507.8,190.8 L507.5,191.1 L507.2,191.6 L507.0,192.7 L506.8,190.8 L506.5,193.1Z"/>
<rect x="476.6" y="330" width="4.399999999999977" height="29" stroke="none"/>
<rect x="443.8" y="330" width="2.3999999999999773" height="50" stroke="none"/>
<rect x="446" y="371" width="5.5" height="10.5" stroke="none"/>
<rect x="420.8" y="375" width="2.1999999999999886" height="39" stroke="none"/>
<rect x="493" y="294" width="1.5" height="12" stroke="none"/>
<rect x="245.2" y="390" width="1.0" height="29" stroke="none"/>
<polygon stroke-width="1" points="488.6,268.6 494,264.8 498,262.2 500,242 502,225.6 504,200 505.4,186 506.5,180 514,180 514,195 508,195 506,232 503.5,262 499.5,272 489,284"/>
</g>
<g stroke="#c4c4c4" stroke-width="1.9" opacity="0.8">
<line x1="215.7" y1="0" x2="215.7" y2="416"/>
<line x1="266" y1="0" x2="266" y2="416"/>
<line x1="303.9" y1="0" x2="303.9" y2="416"/>
<line x1="331.7" y1="0" x2="331.7" y2="416"/>
<line x1="354.7" y1="0" x2="354.7" y2="416"/>
<line x1="375.2" y1="0" x2="375.2" y2="416"/>
<line x1="390.5" y1="0" x2="390.5" y2="416"/>
<line x1="405.7" y1="0" x2="405.7" y2="416"/>
<line x1="507.1" y1="0" x2="507.1" y2="416"/>
<line x1="558" y1="0" x2="558" y2="416"/>
<line x1="596" y1="0" x2="596" y2="416"/>
<line x1="623.7" y1="0" x2="623.7" y2="416"/>
<line x1="646.6" y1="0" x2="646.6" y2="416"/>
<line x1="667.2" y1="0" x2="667.2" y2="416"/>
<line x1="682" y1="0" x2="682" y2="416"/>
<line x1="697.2" y1="0" x2="697.2" y2="416"/>
<line x1="798.7" y1="0" x2="798.7" y2="416"/>
</g>
<line x1="130" y1="65.3" x2="850" y2="65.3" stroke="#bdbdbd" stroke-width="1.3"/>
<line x1="130" y1="182.6" x2="850" y2="182.6" stroke="#a8a8a8" stroke-width="1"/>
<line x1="130" y1="299.6" x2="850" y2="299.6" stroke="#d2d2d2" stroke-width="3"/>
<line x1="420.6" y1="0" x2="420.6" y2="416" stroke="#000" stroke-width="1.4"/>
<line x1="712.3" y1="0" x2="712.3" y2="416" stroke="#000" stroke-width="1.5"/>
<rect x="131" y="7.5" width="252" height="56.5" fill="#fff"/>
<rect x="131" y="83" width="198" height="58.6" fill="#fff"/>
<rect x="328" y="79.6" width="115" height="62" fill="#fff"/>
<g fill="#0000ff" stroke="#0000ff" stroke-width="1.2" stroke-linejoin="round">
<path d="M179.0,357.6 L179.2,356.4 L179.5,355.4 L179.8,355.4 L180.0,354.6 L180.2,353.5 L180.5,353.5 L180.8,352.5 L181.0,353.1 L181.2,352.6 L181.5,351.8 L181.8,351.5 L182.0,352.3 L182.2,351.3 L182.5,352.3 L182.8,351.4 L183.0,351.2 L183.2,351.6 L183.5,351.1 L183.8,351.3 L184.0,350.7 L184.2,351.6 L184.5,350.7 L184.8,351.3 L185.0,350.2 L185.2,351.0 L185.5,351.1 L185.8,350.2 L186.0,349.6 L186.2,349.9 L186.5,350.2 L186.8,349.5 L187.0,349.8 L187.2,349.1 L187.5,349.5 L187.8,349.8 L188.0,349.2 L188.2,349.5 L188.5,348.6 L188.8,349.4 L189.0,348.3 L189.2,349.3 L189.5,349.3 L189.8,349.1 L190.0,348.4 L190.2,348.0 L190.5,348.0 L190.8,348.4 L191.0,347.9 L191.2,348.4 L191.5,347.2 L191.8,347.6 L192.0,348.0 L192.2,347.5 L192.5,347.3 L192.8,346.6 L193.0,346.5 L193.2,346.6 L193.5,347.4 L193.8,347.2 L194.0,346.2 L194.2,347.1 L194.5,345.7 L194.8,346.4 L195.0,346.8 L195.2,345.8 L195.5,346.5 L195.8,346.0 L196.0,345.1 L196.2,345.3 L196.5,345.4 L196.8,345.0 L197.0,345.6 L197.2,344.7 L197.5,345.4 L197.8,344.7 L198.0,344.3 L198.2,344.9 L198.5,344.2 L198.8,344.8 L199.0,345.1 L199.2,344.8 L199.5,344.5 L199.8,343.9 L200.0,344.5 L200.2,343.8 L200.5,344.6 L200.8,343.8 L201.0,344.4 L201.2,344.0 L201.5,344.0 L201.8,344.3 L202.0,343.6 L202.2,343.5 L202.5,344.5 L202.8,343.6 L203.0,344.3 L203.2,344.3 L203.5,343.7 L203.8,343.2 L204.0,343.0 L204.2,344.1 L204.5,343.0 L204.8,343.4 L205.0,343.4 L205.2,342.8 L205.5,343.2 L205.8,342.8 L206.0,343.2 L206.2,343.1 L206.5,342.9 L206.8,342.6 L207.0,342.8 L207.2,342.5 L207.5,342.3 L207.8,342.4 L208.0,343.3 L208.2,342.7 L208.5,343.2 L208.8,341.9 L209.0,343.2 L209.2,342.5 L209.5,342.8 L209.8,342.5 L210.0,342.6 L210.2,341.9 L210.5,342.6 L210.8,341.7 L211.0,341.8 L211.2,341.4 L211.5,341.9 L211.8,342.0 L212.0,341.6 L212.2,342.4 L212.5,341.2 L212.8,341.8 L213.0,341.3 L213.2,341.8 L213.5,342.0 L213.8,341.8 L214.0,340.9 L214.2,341.1 L214.5,341.5 L214.8,342.0 L215.0,340.6 L215.2,341.4 L215.5,341.4 L215.8,341.6 L216.0,340.9 L216.2,341.5 L216.5,341.0 L216.8,341.6 L217.0,340.2 L217.2,341.5 L217.5,340.7 L217.8,340.7 L218.0,340.2 L218.2,340.4 L218.5,341.0 L218.8,340.9 L219.0,340.1 L219.2,340.3 L219.5,340.0 L219.8,340.1 L220.0,340.0 L220.2,340.2 L220.5,341.0 L220.8,341.0 L221.0,340.7 L221.2,340.2 L221.5,340.2 L221.8,340.5 L222.0,340.7 L222.2,340.4 L222.5,340.2 L222.8,339.6 L223.0,340.1 L223.2,340.4 L223.5,340.3 L223.8,339.3 L224.0,340.1 L224.2,339.5 L224.5,339.2 L224.8,340.3 L225.0,339.9 L225.2,339.9 L225.5,339.0 L225.8,340.0 L226.0,340.1 L226.2,340.0 L226.5,339.7 L226.8,339.8 L227.0,339.7 L227.2,339.4 L227.5,339.1 L227.8,339.6 L228.0,339.5 L228.2,339.6 L228.5,338.8 L228.8,339.7 L229.0,339.0 L229.2,339.6 L229.5,338.4 L229.8,339.5 L230.0,339.2 L230.2,338.4 L230.5,339.2 L230.8,338.3 L231.0,338.2 L231.2,338.6 L231.5,338.2 L231.8,338.5 L232.0,339.1 L232.2,338.7 L232.5,338.7 L232.8,338.2 L233.0,338.7 L233.2,338.7 L233.5,338.5 L233.8,338.8 L234.0,338.6 L234.2,338.0 L234.5,337.5 L234.8,338.3 L235.0,338.5 L235.2,337.7 L235.5,338.0 L235.8,338.3 L236.0,338.2 L236.2,337.0 L236.5,337.6 L236.8,336.9 L237.0,337.0 L237.2,337.9 L237.5,337.3 L237.8,337.5 L238.0,337.2 L238.2,337.0 L238.5,336.7 L238.8,336.9 L239.0,337.5 L239.2,337.1 L239.5,336.6 L239.8,336.3 L240.0,336.5 L240.2,337.0 L240.5,336.6 L240.8,336.8 L241.0,337.0 L241.2,335.9 L241.5,336.7 L241.8,335.7 L242.0,336.7 L242.2,335.8 L242.5,335.8 L242.8,336.7 L243.0,335.9 L243.2,335.6 L243.5,336.5 L243.8,336.0 L244.0,336.4 L244.2,335.6 L244.5,335.7 L244.8,336.3 L245.0,335.6 L245.2,336.2 L245.5,335.0 L245.8,335.8 L246.0,334.8 L246.2,335.3 L246.5,334.5 L246.8,334.7 L247.0,335.7 L247.2,334.9 L247.5,335.4 L247.8,334.5 L248.0,334.6 L248.2,334.2 L248.5,334.8 L248.8,335.1 L249.0,334.6 L249.2,334.3 L249.5,335.1 L249.8,334.9 L250.0,334.6 L250.2,333.7 L250.5,334.4 L250.8,334.1 L251.0,334.7 L251.2,333.8 L251.5,334.2 L251.8,334.1 L252.0,333.7 L252.2,333.8 L252.5,334.0 L252.8,334.2 L253.0,333.6 L253.2,333.3 L253.5,334.1 L253.8,332.8 L254.0,333.8 L254.2,333.6 L254.5,333.3 L254.8,333.1 L255.0,333.5 L255.2,333.6 L255.5,333.3 L255.8,333.3 L256.0,332.2 L256.2,332.6 L256.5,332.2 L256.8,333.3 L257.0,333.2 L257.2,332.1 L257.5,332.6 L257.8,332.5 L258.0,331.7 L258.2,332.2 L258.5,332.6 L258.8,332.4 L259.0,331.8 L259.2,332.4 L259.5,331.7 L259.8,332.0 L260.0,331.8 L260.2,332.5 L260.5,332.0 L260.8,332.1 L261.0,331.9 L261.2,331.4 L261.5,332.2 L261.8,331.8 L262.0,331.7 L262.2,331.0 L262.5,330.8 L262.8,331.3 L263.0,331.6 L263.2,331.5 L263.5,330.8 L263.8,330.5 L264.0,330.9 L264.2,331.4 L264.5,330.3 L264.8,331.1 L265.0,330.2 L265.2,330.4 L265.5,329.9 L265.8,330.2 L266.0,330.3 L266.2,331.0 L266.5,331.0 L266.8,329.8 L267.0,329.9 L267.2,330.7 L267.5,329.6 L267.8,329.8 L268.0,329.9 L268.2,329.3 L268.5,329.5 L268.8,329.6 L269.0,329.5 L269.2,330.3 L269.5,329.3 L269.8,329.1 L270.0,330.0 L270.2,329.3 L270.5,329.8 L270.8,329.5 L271.0,329.6 L271.2,328.9 L271.5,328.6 L271.8,329.4 L272.0,328.9 L272.2,329.0 L272.5,329.1 L272.8,329.1 L273.0,328.4 L273.2,328.5 L273.5,329.2 L273.8,328.6 L274.0,328.2 L274.2,328.6 L274.5,328.0 L274.8,328.7 L275.0,327.6 L275.2,328.6 L275.5,328.2 L275.8,327.9 L276.0,328.6 L276.2,327.6 L276.5,327.5 L276.8,327.2 L277.0,327.9 L277.2,328.1 L277.5,328.0 L277.8,327.5 L278.0,328.0 L278.2,327.0 L278.5,327.2 L278.8,327.7 L279.0,328.1 L279.2,327.5 L279.5,327.6 L279.8,327.6 L280.0,327.1 L280.2,327.8 L280.5,327.4 L280.8,326.8 L281.0,326.9 L281.2,327.4 L281.5,326.7 L281.8,326.4 L282.0,327.3 L282.2,326.8 L282.5,326.7 L282.8,326.9 L283.0,327.2 L283.2,326.1 L283.5,326.3 L283.8,325.9 L284.0,326.3 L284.2,326.4 L284.5,326.8 L284.8,326.5 L285.0,326.3 L285.2,326.0 L285.5,326.2 L285.8,325.8 L286.0,326.5 L286.2,326.4 L286.5,326.4 L286.8,325.4 L287.0,326.1 L287.2,326.1 L287.5,325.7 L287.8,326.2 L288.0,326.2 L288.2,325.9 L288.5,326.0 L288.8,325.7 L289.0,326.0 L289.2,324.9 L289.5,325.6 L289.8,325.6 L290.0,325.4 L290.2,324.9 L290.5,324.5 L290.8,325.2 L291.0,325.5 L291.2,324.7 L291.5,324.5 L291.8,324.5 L292.0,324.3 L292.2,325.0 L292.5,325.4 L292.8,325.1 L293.0,324.4 L293.2,324.9 L293.5,323.9 L293.8,325.0 L294.0,324.2 L294.2,323.7 L294.5,324.5 L294.8,323.8 L295.0,323.9 L295.2,323.6 L295.5,324.1 L295.8,324.2 L296.0,324.5 L296.2,323.3 L296.5,324.4 L296.8,323.3 L297.0,323.5 L297.2,324.0 L297.5,323.5 L297.8,323.5 L298.0,323.7 L298.2,323.2 L298.5,324.0 L298.8,323.1 L299.0,323.9 L299.2,323.8 L299.5,323.4 L299.8,322.6 L300.0,323.6 L300.2,322.5 L300.5,323.2 L300.8,323.0 L301.0,322.4 L301.2,323.2 L301.5,323.3 L301.8,323.0 L302.0,322.7 L302.2,322.8 L302.5,322.9 L302.8,322.3 L303.0,323.2 L303.2,323.3 L303.5,323.0 L303.8,323.1 L304.0,322.2 L304.2,323.1 L304.5,321.8 L304.8,322.3 L305.0,321.8 L305.2,322.2 L305.5,322.5 L305.8,322.5 L306.0,322.1 L306.2,321.9 L306.5,321.6 L306.8,321.9 L307.0,321.7 L307.2,321.5 L307.5,322.2 L307.8,321.9 L308.0,321.7 L308.2,321.3 L308.5,322.0 L308.8,321.3 L309.0,321.3 L309.2,321.7 L309.5,321.9 L309.8,322.2 L310.0,321.8 L310.2,322.1 L310.5,322.0 L310.8,321.7 L311.0,321.6 L311.2,320.7 L311.5,320.8 L311.8,320.5 L312.0,321.7 L312.2,321.4 L312.5,321.3 L312.8,320.7 L313.0,320.8 L313.2,320.5 L313.5,321.1 L313.8,321.6 L314.0,320.6 L314.2,320.2 L314.5,320.3 L314.8,320.5 L315.0,321.2 L315.2,321.1 L315.5,320.5 L315.8,320.0 L316.0,320.0 L316.2,320.0 L316.5,320.8 L316.8,320.4 L317.0,321.0 L317.2,320.9 L317.5,320.7 L317.8,320.2 L318.0,320.6 L318.2,319.6 L318.5,319.6 L318.8,320.2 L319.0,320.0 L319.2,319.6 L319.5,319.6 L319.8,319.2 L320.0,320.4 L320.2,320.1 L320.5,320.4 L320.8,320.4 L321.0,319.6 L321.2,320.0 L321.5,319.5 L321.8,320.0 L322.0,320.0 L322.2,319.0 L322.5,318.8 L322.8,319.0 L323.0,319.5 L323.2,319.2 L323.5,318.6 L323.8,319.7 L324.0,319.6 L324.2,319.1 L324.5,318.5 L324.8,319.7 L325.0,319.1 L325.2,318.4 L325.5,318.7 L325.8,319.1 L326.0,319.4 L326.2,318.8 L326.5,319.0 L326.8,318.4 L327.0,318.4 L327.2,319.3 L327.5,318.5 L327.8,318.1 L328.0,318.7 L328.2,318.0 L328.5,318.1 L328.8,318.4 L329.0,318.5 L329.2,318.6 L329.5,318.6 L329.8,318.2 L330.0,317.7 L330.2,318.5 L330.5,317.6 L330.8,318.1 L331.0,318.0 L331.2,318.3 L331.5,318.3 L331.8,317.6 L332.0,318.2 L332.2,318.2 L332.5,317.9 L332.8,317.4 L333.0,318.4 L333.2,318.0 L333.5,317.2 L333.8,317.4 L334.0,318.4 L334.2,317.3 L334.5,317.5 L334.8,318.1 L335.0,318.1 L335.2,317.8 L335.5,317.9 L335.8,316.9 L336.0,317.0 L336.2,318.2 L336.5,317.9 L336.8,316.8 L337.0,316.8 L337.2,317.0 L337.5,318.0 L337.8,317.0 L338.0,317.6 L338.2,317.9 L338.5,317.5 L338.8,317.8 L339.0,316.9 L339.2,316.7 L339.5,316.5 L339.8,317.5 L340.0,316.6 L340.2,317.8 L340.5,317.4 L340.8,316.6 L341.0,317.4 L341.2,316.5 L341.5,317.0 L341.8,316.4 L342.0,317.3 L342.2,317.4 L342.5,317.4 L342.8,316.1 L343.0,317.3 L343.2,316.9 L343.5,317.2 L343.8,316.7 L344.0,316.9 L344.2,316.8 L344.5,317.1 L344.8,316.0 L345.0,316.0 L345.2,316.6 L345.5,316.3 L345.8,316.4 L346.0,315.8 L346.2,316.8 L346.5,315.8 L346.8,316.9 L347.0,316.8 L347.2,316.3 L347.5,315.8 L347.8,316.5 L348.0,315.9 L348.2,316.2 L348.5,315.7 L348.8,316.9 L349.0,316.2 L349.2,316.0 L349.5,315.6 L349.8,316.4 L350.0,316.6 L350.2,316.5 L350.5,315.5 L350.8,315.8 L351.0,315.7 L351.2,316.3 L351.5,315.4 L351.8,316.0 L352.0,316.5 L352.2,316.2 L352.5,315.1 L352.8,315.2 L353.0,315.2 L353.2,316.0 L353.5,315.9 L353.8,315.7 L354.0,315.6 L354.2,315.5 L354.5,315.8 L354.8,315.8 L355.0,316.1 L355.2,315.9 L355.5,315.9 L355.8,316.1 L356.0,315.9 L356.2,315.7 L356.5,314.7 L356.8,315.6 L357.0,315.8 L357.2,315.2 L357.5,315.8 L357.8,314.8 L358.0,315.9 L358.2,315.1 L358.5,315.5 L358.8,314.8 L359.0,314.8 L359.2,314.9 L359.5,314.8 L359.8,314.5 L360.0,314.9 L360.2,315.7 L360.5,315.2 L360.8,315.5 L361.0,315.3 L361.2,315.4 L361.5,315.6 L361.8,315.2 L362.0,314.5 L362.2,314.4 L362.5,314.6 L362.8,314.1 L363.0,314.3 L363.2,315.2 L363.5,315.2 L363.8,314.4 L364.0,315.0 L364.2,314.9 L364.5,315.1 L364.8,314.9 L365.0,314.5 L365.2,313.9 L365.5,314.9 L365.8,314.1 L366.0,314.6 L366.2,314.2 L366.5,314.4 L366.8,314.9 L367.0,313.8 L367.2,314.3 L367.5,314.4 L367.8,314.2 L368.0,314.8 L368.2,314.0 L368.5,314.7 L368.8,314.3 L369.0,314.7 L369.2,313.5 L369.5,313.6 L369.8,313.7 L370.0,314.5 L370.2,313.2 L370.5,313.6 L370.8,314.2 L371.0,314.5 L371.2,313.4 L371.5,313.7 L371.8,314.0 L372.0,314.0 L372.2,314.0 L372.5,314.0 L372.8,313.3 L373.0,313.3 L373.2,312.9 L373.5,313.8 L373.8,313.1 L374.0,313.2 L374.2,314.1 L374.5,313.7 L374.8,313.6 L375.0,313.6 L375.2,313.5 L375.5,313.6 L375.8,313.1 L376.0,312.7 L376.2,312.7 L376.5,312.6 L376.8,313.1 L377.0,312.8 L377.2,312.7 L377.5,313.2 L377.8,313.9 L378.0,313.5 L378.2,312.9 L378.5,313.6 L378.8,312.7 L379.0,312.6 L379.2,312.9 L379.5,313.0 L379.8,313.4 L380.0,313.1 L380.2,313.4 L380.5,312.5 L380.8,313.7 L381.0,312.9 L381.2,313.5 L381.5,312.4 L381.8,313.5 L382.0,312.7 L382.2,313.5 L382.5,313.5 L382.8,313.3 L383.0,312.7 L383.2,312.3 L383.5,312.6 L383.8,313.5 L384.0,312.5 L384.2,313.2 L384.5,313.1 L384.8,313.2 L385.0,312.5 L385.2,312.4 L385.5,312.3 L385.8,313.6 L386.0,312.7 L386.2,313.1 L386.5,313.0 L386.8,312.5 L387.0,312.2 L387.2,312.2 L387.5,313.3 L387.8,312.3 L388.0,313.4 L388.2,312.6 L388.5,313.1 L388.8,312.3 L389.0,313.2 L389.2,312.4 L389.5,312.6 L389.8,312.8 L390.0,312.2 L390.2,312.4 L390.5,313.1 L390.8,312.4 L391.0,312.5 L391.2,313.0 L391.5,312.3 L391.8,312.2 L392.0,312.2 L392.2,312.5 L392.5,312.4 L392.8,312.8 L393.0,312.6 L393.2,313.1 L393.5,311.9 L393.8,312.8 L394.0,313.0 L394.2,312.2 L394.5,311.9 L394.8,312.4 L395.0,312.0 L395.2,312.4 L395.5,312.8 L395.8,311.9 L396.0,311.9 L396.2,312.4 L396.5,312.0 L396.8,312.1 L397.0,312.3 L397.2,311.9 L397.5,311.8 L397.8,312.2 L398.0,312.3 L398.2,313.0 L398.5,312.4 L398.8,311.8 L399.0,312.0 L399.2,312.7 L399.5,312.4 L399.8,312.8 L400.0,312.9 L400.2,312.8 L400.5,311.7 L400.8,312.9 L401.0,312.3 L401.2,311.9 L401.5,311.8 L401.8,312.8 L402.0,311.8 L402.2,311.6 L402.5,311.9 L402.8,312.8 L403.0,312.2 L403.2,312.5 L403.5,311.6 L403.8,312.1 L404.0,311.9 L404.2,311.8 L404.5,312.4 L404.8,312.0 L405.0,311.6 L405.2,312.8 L405.5,312.1 L405.8,311.7 L406.0,311.4 L406.2,312.3 L406.5,312.1 L406.8,311.4 L407.0,312.0 L407.2,312.4 L407.5,312.1 L407.8,311.7 L408.0,312.0 L408.2,312.2 L408.5,312.2 L408.8,311.5 L409.0,312.4 L409.2,312.6 L409.5,312.3 L409.8,312.5 L410.0,311.8 L410.2,312.5 L410.5,311.5 L410.8,311.6 L411.0,312.1 L411.2,312.5 L411.5,311.4 L411.8,311.5 L412.0,311.3 L412.2,311.8 L412.5,311.4 L412.8,311.5 L413.0,312.2 L413.2,312.0 L413.5,312.5 L413.8,311.7 L414.0,312.1 L414.2,311.2 L414.5,312.5 L414.8,311.5 L415.0,311.8 L415.2,311.8 L415.5,312.4 L415.8,311.8 L416.0,299.8 L416.2,283.3 L416.5,279.4 L416.8,280.0 L417.0,278.9 L417.2,279.7 L417.5,278.7 L417.8,278.2 L418.0,279.2 L418.2,278.3 L418.5,278.5 L418.8,278.4 L419.0,278.9 L419.2,278.1 L419.5,278.6 L419.8,278.3 L420.0,279.3 L420.2,278.2 L420.5,279.1 L420.8,278.6 L421.0,278.9 L421.2,279.7 L421.5,280.5 L421.8,280.4 L422.0,281.1 L422.2,281.6 L422.5,283.4 L422.8,282.9 L423.0,283.5 L423.2,284.4 L423.5,284.9 L423.8,285.7 L424.0,284.9 L424.2,285.5 L424.5,285.8 L424.8,286.7 L425.0,286.9 L425.2,287.2 L425.5,288.3 L425.8,288.4 L426.0,289.0 L426.2,289.5 L426.5,288.9 L426.8,290.2 L427.0,289.9 L427.2,289.5 L427.5,290.9 L427.8,289.9 L428.0,289.9 L428.2,290.5 L428.5,290.6 L428.8,291.7 L429.0,291.7 L429.2,291.2 L429.5,291.5 L429.8,292.1 L430.0,292.2 L430.2,292.2 L430.5,292.1 L430.8,291.7 L431.0,292.0 L431.2,292.8 L431.5,292.8 L431.8,293.3 L432.0,293.6 L432.2,293.6 L432.5,292.4 L432.8,292.2 L433.0,293.3 L433.2,292.8 L433.5,292.2 L433.8,292.8 L434.0,292.2 L434.2,292.1 L434.5,292.2 L434.8,292.3 L435.0,292.5 L435.2,291.6 L435.5,292.5 L435.8,292.2 L436.0,292.0 L436.2,292.2 L436.5,292.3 L436.8,291.1 L437.0,291.7 L437.2,291.9 L437.5,291.9 L437.8,291.8 L438.0,291.1 L438.2,292.1 L438.5,291.8 L438.8,290.9 L439.0,291.2 L439.2,291.8 L439.5,290.7 L439.8,290.9 L440.0,291.6 L440.2,291.5 L440.5,290.4 L440.8,291.0 L441.0,290.4 L441.2,290.7 L441.5,290.7 L441.8,289.7 L442.0,289.8 L442.2,289.6 L442.5,289.6 L442.8,289.2 L443.0,289.2 L443.2,289.5 L443.5,289.4 L443.8,288.8 L444.0,289.4 L444.2,289.8 L444.5,289.2 L444.8,288.8 L445.0,289.1 L445.2,288.7 L445.5,288.2 L445.8,288.5 L446.0,287.8 L446.2,288.6 L446.5,287.7 L446.8,287.9 L447.0,288.6 L447.2,288.2 L447.5,288.2 L447.8,287.7 L448.0,287.6 L448.2,287.5 L448.5,287.7 L448.8,286.5 L449.0,287.1 L449.2,286.3 L449.5,286.1 L449.8,286.7 L450.0,286.3 L450.2,286.5 L450.5,286.3 L450.8,285.8 L451.0,285.1 L451.2,284.7 L451.5,285.2 L451.8,285.3 L452.0,284.6 L452.2,284.1 L452.5,283.9 L452.8,283.9 L453.0,284.5 L453.2,283.4 L453.5,283.6 L453.8,283.5 L454.0,283.9 L454.2,284.2 L454.5,282.6 L454.8,282.6 L455.0,283.6 L455.2,283.5 L455.5,282.2 L455.8,282.2 L456.0,282.3 L456.2,281.9 L456.5,281.8 L456.8,281.7 L457.0,281.3 L457.2,280.8 L457.5,280.7 L457.8,280.6 L458.0,280.3 L458.2,280.9 L458.5,280.8 L458.8,280.0 L459.0,280.6 L459.2,280.3 L459.5,279.6 L459.8,279.7 L460.0,279.1 L460.2,279.8 L460.5,279.0 L460.8,277.9 L461.0,277.8 L461.2,278.2 L461.5,277.5 L461.8,277.6 L462.0,276.6 L462.2,277.1 L462.5,276.8 L462.8,275.5 L463.0,275.9 L463.2,275.0 L463.5,275.4 L463.8,275.2 L464.0,274.9 L464.2,273.8 L464.5,273.3 L464.8,273.8 L465.0,273.3 L465.2,272.4 L465.5,272.2 L465.8,272.4 L466.0,271.5 L466.2,271.9 L466.5,271.0 L466.8,270.7 L467.0,270.7 L467.2,270.5 L467.5,270.5 L467.8,269.2 L468.0,269.8 L468.2,268.8 L468.5,268.6 L468.8,268.8 L469.0,268.6 L469.2,268.2 L469.5,268.2 L469.8,267.0 L470.0,266.8 L470.2,267.0 L470.5,266.1 L470.8,265.7 L471.0,265.5 L471.2,265.9 L471.5,265.7 L471.8,265.2 L472.0,265.2 L472.2,264.6 L472.5,263.6 L472.8,263.2 L473.0,263.4 L473.2,262.1 L473.5,262.5 L473.8,261.4 L474.0,260.9 L474.2,261.2 L474.5,260.3 L474.8,261.0 L475.0,260.6 L475.2,259.6 L475.5,258.9 L475.8,258.4 L476.0,258.5 L476.2,258.2 L476.5,257.6 L476.8,257.7 L477.0,257.0 L477.2,256.8 L477.5,255.4 L477.8,254.8 L478.0,254.7 L478.2,254.3 L478.5,253.4 L478.8,253.5 L479.0,252.3 L479.2,251.9 L479.5,251.6 L479.8,251.4 L480.0,250.9 L480.2,249.9 L480.5,249.4 L480.8,249.7 L481.0,249.4 L481.2,248.6 L481.5,247.5 L481.8,247.6 L482.0,247.5 L482.2,245.6 L482.5,239.8 L482.8,236.5 L483.0,235.8 L483.2,234.0 L483.5,233.8 L483.8,233.3 L484.0,232.6 L484.2,232.2 L484.5,233.0 L484.8,232.9 L485.0,232.4 L485.2,231.7 L485.5,232.2 L485.8,231.9 L486.0,233.3 L486.2,232.1 L486.5,232.6 L486.8,233.4 L487.0,233.0 L487.2,233.6 L487.5,234.1 L487.8,234.9 L488.0,236.0 L488.2,264.8 L488.5,271.2 L488.8,273.3 L489.0,276.2 L489.2,277.8 L489.5,279.8 L489.8,279.1 L490.0,279.0 L490.2,279.7 L490.5,278.1 L490.8,278.0 L491.0,278.3 L491.2,278.2 L491.5,277.9 L491.8,277.0 L492.0,277.3 L492.2,276.5 L492.5,275.7 L492.8,275.6 L493.0,275.6 L493.2,275.3 L493.5,274.1 L493.8,273.9 L494.0,274.6 L494.2,273.1 L494.5,273.8 L494.8,272.8 L495.0,272.3 L495.2,272.0 L495.5,272.0 L495.8,272.4 L496.0,270.8 L496.2,271.5 L496.5,270.4 L496.8,269.9 L497.0,270.3 L497.2,269.4 L497.5,268.9 L497.8,268.9 L498.0,269.1 L498.2,268.8 L498.5,268.1 L498.8,266.3 L499.0,266.4 L499.2,265.1 L499.5,264.6 L499.8,263.6 L500.0,261.8 L500.2,261.5 L500.5,260.4 L500.8,258.7 L501.0,257.8 L501.2,256.2 L501.5,254.5 L501.8,253.0 L502.0,251.0 L502.2,249.5 L502.5,248.8 L502.8,246.5 L503.0,245.2 L503.2,243.0 L503.5,240.4 L503.8,237.1 L504.0,235.6 L504.2,232.9 L504.5,230.7 L504.8,227.8 L505.0,225.4 L505.2,219.9 L505.5,213.7 L505.8,208.7 L506.0,202.8 L506.2,198.0 L506.5,191.5 L506.8,191.4 L507.0,190.5 L507.2,190.5 L507.5,189.2 L507.8,189.2 L508.0,189.8 L508.2,190.8 L508.5,190.7 L508.8,192.8 L509.0,193.5 L509.2,194.3 L509.5,195.2 L509.8,196.4 L510.0,199.5 L510.2,201.1 L510.5,202.9 L510.8,204.8 L511.0,207.4 L511.2,208.2 L511.5,209.1 L511.8,209.0 L512.0,209.9 L512.2,210.6 L512.5,211.2 L512.8,212.3 L513.0,212.7 L513.2,214.5 L513.5,214.5 L513.8,215.1 L514.0,215.9 L514.2,217.2 L514.5,216.8 L514.8,217.6 L515.0,217.9 L515.2,218.8 L515.5,219.4 L515.8,218.9 L516.0,219.7 L516.2,220.4 L516.5,220.2 L516.8,221.2 L517.0,221.3 L517.2,220.9 L517.5,221.9 L517.8,221.7 L518.0,221.2 L518.2,222.1 L518.5,222.6 L518.8,222.3 L519.0,222.5 L519.2,222.6 L519.5,223.4 L519.8,223.3 L520.0,222.8 L520.2,223.2 L520.5,223.4 L520.8,224.5 L521.0,224.3 L521.2,223.5 L521.5,224.7 L521.8,223.5 L522.0,224.3 L522.2,224.1 L522.5,224.6 L522.8,224.2 L523.0,223.8 L523.2,224.4 L523.5,224.9 L523.8,224.9 L524.0,224.3 L524.2,224.2 L524.5,224.9 L524.8,225.0 L525.0,224.3 L525.2,225.2 L525.5,225.4 L525.8,224.7 L526.0,224.7 L526.2,225.2 L526.5,225.5 L526.8,224.5 L527.0,224.7 L527.2,224.8 L527.5,225.4 L527.8,224.7 L528.0,225.2 L528.2,225.2 L528.5,225.5 L528.8,224.8 L529.0,226.0 L529.2,226.1 L529.5,225.5 L529.8,225.9 L530.0,225.1 L530.2,226.1 L530.5,225.6 L530.8,225.9 L531.0,226.1 L531.2,225.4 L531.5,226.2 L531.8,225.3 L532.0,225.0 L532.2,225.7 L532.5,226.3 L532.8,226.3 L533.0,226.4 L533.2,225.8 L533.5,226.5 L533.8,226.0 L534.0,225.4 L534.2,226.1 L534.5,226.4 L534.8,225.9 L535.0,226.1 L535.2,225.7 L535.5,225.7 L535.8,226.0 L536.0,226.1 L536.2,226.1 L536.5,225.6 L536.8,225.5 L537.0,226.0 L537.2,226.5 L537.5,226.6 L537.8,225.9 L538.0,226.0 L538.2,226.3 L538.5,225.9 L538.8,226.5 L539.0,227.0 L539.2,226.0 L539.5,226.6 L539.8,226.8 L540.0,226.8 L540.2,226.8 L540.5,226.8 L540.8,226.2 L541.0,227.0 L541.2,227.2 L541.5,225.9 L541.8,227.2 L542.0,226.5 L542.2,226.0 L542.5,226.0 L542.8,227.1 L543.0,226.9 L543.2,226.2 L543.5,226.6 L543.8,226.9 L544.0,227.4 L544.2,226.5 L544.5,227.1 L544.8,226.4 L545.0,226.3 L545.2,226.3 L545.5,226.6 L545.8,227.0 L546.0,226.5 L546.2,226.3 L546.5,226.4 L546.8,226.3 L547.0,226.4 L547.2,226.6 L547.5,226.9 L547.8,226.4 L548.0,226.9 L548.2,226.8 L548.5,227.6 L548.8,226.9 L549.0,227.6 L549.2,226.9 L549.5,226.6 L549.8,227.1 L550.0,226.5 L550.2,226.6 L550.5,226.5 L550.8,227.5 L551.0,227.9 L551.2,227.2 L551.5,227.2 L551.8,227.4 L552.0,227.4 L552.2,227.9 L552.5,227.6 L552.8,227.3 L553.0,228.4 L553.2,228.0 L553.5,227.3 L553.8,228.6 L554.0,228.5 L554.2,228.0 L554.5,228.5 L554.8,228.9 L555.0,228.3 L555.2,228.4 L555.5,228.3 L555.8,228.7 L556.0,228.9 L556.2,229.2 L556.5,229.6 L556.8,228.7 L557.0,229.1 L557.2,230.0 L557.5,230.0 L557.8,229.9 L558.0,230.2 L558.2,229.9 L558.5,230.9 L558.8,230.5 L559.0,230.4 L559.2,230.3 L559.5,230.3 L559.8,231.6 L560.0,231.6 L560.2,230.7 L560.5,231.2 L560.8,231.6 L561.0,231.8 L561.2,231.7 L561.5,232.6 L561.8,232.0 L562.0,232.4 L562.2,233.3 L562.5,233.2 L562.8,233.3 L563.0,233.4 L563.2,233.8 L563.5,234.5 L563.8,235.0 L564.0,234.6 L564.2,235.1 L564.5,235.4 L564.8,235.7 L565.0,236.8 L565.2,236.6 L565.5,236.5 L565.8,236.9 L566.0,237.9 L566.2,237.3 L566.5,238.4 L566.8,237.7 L567.0,238.3 L567.2,238.4 L567.5,239.8 L567.8,239.2 L568.0,239.6 L568.2,238.9 L568.5,238.7 L568.8,238.8 L569.0,238.3 L569.2,238.1 L569.5,237.6 L569.8,236.6 L570.0,236.6 L570.2,234.9 L570.5,235.6 L570.8,232.4 L571.0,229.6 L571.2,227.8 L571.5,225.5 L571.8,224.9 L572.0,224.6 L572.2,225.8 L572.5,225.8 L572.8,225.6 L573.0,226.3 L573.2,225.1 L573.5,225.2 L573.8,225.4 L574.0,225.3 L574.2,228.3 L574.5,230.2 L574.8,231.5 L575.0,233.5 L575.2,233.4 L575.5,233.8 L575.8,233.7 L576.0,234.0 L576.2,233.0 L576.5,233.7 L576.8,232.7 L577.0,232.5 L577.2,232.2 L577.5,232.0 L577.8,232.8 L578.0,232.7 L578.2,232.2 L578.5,231.4 L578.8,231.3 L579.0,231.1 L579.2,231.3 L579.5,231.8 L579.8,230.7 L580.0,231.3 L580.2,231.4 L580.5,230.4 L580.8,230.9 L581.0,231.3 L581.2,230.9 L581.5,230.6 L581.8,231.1 L582.0,230.6 L582.2,229.3 L582.5,228.5 L582.8,228.3 L583.0,227.3 L583.2,226.4 L583.5,225.0 L583.8,223.4 L584.0,222.5 L584.2,221.9 L584.5,221.4 L584.8,219.5 L585.0,219.7 L585.2,218.7 L585.5,217.4 L585.8,215.7 L586.0,215.9 L586.2,214.9 L586.5,214.8 L586.8,214.2 L587.0,213.9 L587.2,213.0 L587.5,213.3 L587.8,212.9 L588.0,212.4 L588.2,211.4 L588.5,210.6 L588.8,210.2 L589.0,209.6 L589.2,210.0 L589.5,209.3 L589.8,208.9 L590.0,208.4 L590.2,207.4 L590.5,205.8 L590.8,204.0 L591.0,203.4 L591.2,201.4 L591.5,200.7 L591.8,198.8 L592.0,198.5 L592.2,196.7 L592.5,195.2 L592.8,194.8 L593.0,192.4 L593.2,191.5 L593.5,189.1 L593.8,186.2 L594.0,184.9 L594.2,182.5 L594.5,182.3 L594.8,181.5 L595.0,180.9 L595.2,181.9 L595.5,181.1 L595.8,182.4 L596.0,181.8 L596.2,182.4 L596.5,182.5 L596.8,186.7 L597.0,189.3 L597.2,192.9 L597.5,195.5 L597.8,199.3 L598.0,202.4 L598.2,204.8 L598.5,208.6 L598.8,212.1 L599.0,214.6 L599.2,220.8 L599.5,225.9 L599.8,231.7 L600.0,238.1 L600.2,243.7 L600.5,249.4 L600.8,254.3 L601.0,260.1 L601.2,263.6 L601.5,266.6 L601.8,269.3 L602.0,273.0 L602.2,275.5 L602.5,279.4 L602.8,281.8 L603.0,284.5 L603.2,285.3 L603.5,284.5 L603.8,285.3 L604.0,284.4 L604.2,285.7 L604.5,285.1 L604.8,285.3 L605.0,284.5 L605.2,285.2 L605.5,284.8 L605.8,284.6 L606.0,285.4 L606.2,284.4 L606.5,285.2 L606.8,284.7 L607.0,285.9 L607.2,286.1 L607.5,284.9 L607.8,285.7 L608.0,285.8 L608.2,286.2 L608.5,286.3 L608.8,285.9 L609.0,286.8 L609.2,285.9 L609.5,285.9 L609.8,286.9 L610.0,286.1 L610.2,286.3 L610.5,286.8 L610.8,286.7 L611.0,286.5 L611.2,288.0 L611.5,287.8 L611.8,288.7 L612.0,288.3 L612.2,289.7 L612.5,289.1 L612.8,290.5 L613.0,290.5 L613.2,291.4 L613.5,291.5 L613.8,291.8 L614.0,292.0 L614.2,291.4 L614.5,289.8 L614.8,288.2 L615.0,288.2 L615.2,287.0 L615.5,285.8 L615.8,284.8 L616.0,283.0 L616.2,282.2 L616.5,281.6 L616.8,280.7 L617.0,279.6 L617.2,277.3 L617.5,276.7 L617.8,275.3 L618.0,273.8 L618.2,272.2 L618.5,270.9 L618.8,270.1 L619.0,268.8 L619.2,267.3 L619.5,266.1 L619.8,265.1 L620.0,264.1 L620.2,262.6 L620.5,260.8 L620.8,260.5 L621.0,258.5 L621.2,257.4 L621.5,255.5 L621.8,252.3 L622.0,251.0 L622.2,249.6 L622.5,246.8 L622.8,237.1 L623.0,234.3 L623.2,233.4 L623.5,233.1 L623.8,232.5 L624.0,232.2 L624.2,232.7 L624.5,232.6 L624.8,233.1 L625.0,232.8 L625.2,232.3 L625.5,233.1 L625.8,232.7 L626.0,232.6 L626.2,233.0 L626.5,232.7 L626.8,232.3 L627.0,232.6 L627.2,232.8 L627.5,234.3 L627.8,233.8 L628.0,235.4 L628.2,244.4 L628.5,254.5 L628.8,255.7 L629.0,255.6 L629.2,255.4 L629.5,254.3 L629.8,254.7 L630.0,253.9 L630.2,253.3 L630.5,253.1 L630.8,252.6 L631.0,251.6 L631.2,251.0 L631.5,249.5 L631.8,249.0 L632.0,248.9 L632.2,249.3 L632.5,248.0 L632.8,248.0 L633.0,246.8 L633.2,247.0 L633.5,247.3 L633.8,246.5 L634.0,246.5 L634.2,244.9 L634.5,244.8 L634.8,244.4 L635.0,245.0 L635.2,243.6 L635.5,244.4 L635.8,243.0 L636.0,243.5 L636.2,242.6 L636.5,242.0 L636.8,242.5 L637.0,241.4 L637.2,241.4 L637.5,240.1 L637.8,240.8 L638.0,240.7 L638.2,238.9 L638.5,239.2 L638.8,238.0 L639.0,237.3 L639.2,237.1 L639.5,236.9 L639.8,236.8 L640.0,236.3 L640.2,235.7 L640.5,234.7 L640.8,234.2 L641.0,232.9 L641.2,233.2 L641.5,232.4 L641.8,231.6 L642.0,231.8 L642.2,230.3 L642.5,229.6 L642.8,229.1 L643.0,228.5 L643.2,226.2 L643.5,223.6 L643.8,212.0 L644.0,202.8 L644.2,202.3 L644.5,201.7 L644.8,200.9 L645.0,200.6 L645.2,199.8 L645.5,199.9 L645.8,200.4 L646.0,200.1 L646.2,200.9 L646.5,200.1 L646.8,201.0 L647.0,200.1 L647.2,199.9 L647.5,200.5 L647.8,200.3 L648.0,200.3 L648.2,201.4 L648.5,201.2 L648.8,202.3 L649.0,203.1 L649.2,205.8 L649.5,220.3 L649.8,227.3 L650.0,227.9 L650.2,228.4 L650.5,229.4 L650.8,228.8 L651.0,228.6 L651.2,227.6 L651.5,227.8 L651.8,226.9 L652.0,226.1 L652.2,225.8 L652.5,225.8 L652.8,224.2 L653.0,223.5 L653.2,224.1 L653.5,224.5 L653.8,225.7 L654.0,225.8 L654.2,225.8 L654.5,225.8 L654.8,226.0 L655.0,226.5 L655.2,227.9 L655.5,228.0 L655.8,227.6 L656.0,228.7 L656.2,228.3 L656.5,229.3 L656.8,229.4 L657.0,229.4 L657.2,213.6 L657.5,196.7 L657.8,182.9 L658.0,181.8 L658.2,181.9 L658.5,180.9 L658.8,180.7 L659.0,179.9 L659.2,181.0 L659.5,179.7 L659.8,180.0 L660.0,180.2 L660.2,180.0 L660.5,180.0 L660.8,181.0 L661.0,181.5 L661.2,180.7 L661.5,181.1 L661.8,182.2 L662.0,182.2 L662.2,189.4 L662.5,222.3 L662.8,235.2 L663.0,235.2 L663.2,235.5 L663.5,236.6 L663.8,237.6 L664.0,237.9 L664.2,237.2 L664.5,238.2 L664.8,238.6 L665.0,238.6 L665.2,239.1 L665.5,238.7 L665.8,239.0 L666.0,238.2 L666.2,238.9 L666.5,238.6 L666.8,238.0 L667.0,237.4 L667.2,237.8 L667.5,237.1 L667.8,237.8 L668.0,237.7 L668.2,236.5 L668.5,236.0 L668.8,233.6 L669.0,233.5 L669.2,232.6 L669.5,230.6 L669.8,229.8 L670.0,228.4 L670.2,228.1 L670.5,227.2 L670.8,225.6 L671.0,225.1 L671.2,223.6 L671.5,223.0 L671.8,221.3 L672.0,221.3 L672.2,219.9 L672.5,218.6 L672.8,218.1 L673.0,218.3 L673.2,217.8 L673.5,216.9 L673.8,215.5 L674.0,215.9 L674.2,215.0 L674.5,213.5 L674.8,213.2 L675.0,213.0 L675.2,211.4 L675.5,210.8 L675.8,210.6 L676.0,210.6 L676.2,210.2 L676.5,208.6 L676.8,208.7 L677.0,207.9 L677.2,206.7 L677.5,205.1 L677.8,204.3 L678.0,202.6 L678.2,201.7 L678.5,199.9 L678.8,198.1 L679.0,197.3 L679.2,195.9 L679.5,194.5 L679.8,193.2 L680.0,192.1 L680.2,191.0 L680.5,189.2 L680.8,188.0 L681.0,187.0 L681.2,182.6 L681.5,178.0 L681.8,174.0 L682.0,168.9 L682.2,164.9 L682.5,163.3 L682.8,163.4 L683.0,162.8 L683.2,162.4 L683.5,161.5 L683.8,161.1 L684.0,161.9 L684.2,161.3 L684.5,161.0 L684.8,160.8 L685.0,160.9 L685.2,161.4 L685.5,161.6 L685.8,161.2 L686.0,161.7 L686.2,161.0 L686.5,161.4 L686.8,161.8 L687.0,162.3 L687.2,162.9 L687.5,163.9 L687.8,172.0 L688.0,209.6 L688.2,219.3 L688.5,229.7 L688.8,239.2 L689.0,248.9 L689.2,251.1 L689.5,253.4 L689.8,255.0 L690.0,257.0 L690.2,259.6 L690.5,261.3 L690.8,262.6 L691.0,262.0 L691.2,262.2 L691.5,262.6 L691.8,262.3 L692.0,261.5 L692.2,261.6 L692.5,261.3 L692.8,262.2 L693.0,262.1 L693.2,259.3 L693.5,256.6 L693.8,254.0 L694.0,251.8 L694.2,249.6 L694.5,247.4 L694.8,244.8 L695.0,242.3 L695.2,239.2 L695.5,236.7 L695.8,234.0 L696.0,232.5 L696.2,230.4 L696.5,229.4 L696.8,228.7 L697.0,228.6 L697.2,227.6 L697.5,225.9 L697.8,225.7 L698.0,224.8 L698.2,223.3 L698.5,222.0 L698.8,221.9 L699.0,220.4 L699.2,219.1 L699.5,219.2 L699.8,217.7 L700.0,216.7 L700.2,216.8 L700.5,216.2 L700.8,215.7 L701.0,216.1 L701.2,215.9 L701.5,215.3 L701.8,215.6 L702.0,216.0 L702.2,215.3 L702.5,215.7 L702.8,215.4 L703.0,214.7 L703.2,214.3 L703.5,215.1 L703.8,214.9 L704.0,214.3 L704.2,214.0 L704.5,214.8 L704.8,214.7 L705.0,213.6 L705.2,214.1 L705.5,214.0 L705.8,213.6 L706.0,213.2 L706.2,213.5 L706.5,213.9 L706.8,213.8 L707.0,213.6 L707.2,213.0 L707.5,213.1 L707.8,213.2 L708.0,213.3 L708.2,213.2 L708.5,213.9 L708.8,212.7 L709.0,213.9 L709.2,212.8 L709.5,213.6 L709.8,212.7 L710.0,213.1 L710.2,211.9 L710.5,210.5 L710.8,210.6 L711.0,209.7 L711.2,208.0 L711.5,207.8 L711.8,206.5 L712.0,206.2 L712.2,204.0 L712.5,203.5 L712.8,204.0 L713.0,205.3 L713.2,206.2 L713.5,207.0 L713.8,207.4 L714.0,207.8 L714.2,210.7 L714.5,211.9 L714.8,214.4 L715.0,217.4 L715.2,219.2 L715.5,222.2 L715.8,223.2 L716.0,225.9 L716.2,228.2 L716.5,230.5 L716.8,233.2 L717.0,235.8 L717.2,238.8 L717.5,241.5 L717.8,244.2 L718.0,246.5 L718.2,247.4 L718.5,247.5 L718.8,248.5 L719.0,247.7 L719.2,248.6 L719.5,248.9 L719.8,249.1 L720.0,250.1 L720.2,249.5 L720.5,250.8 L720.8,250.5 L721.0,250.8 L721.2,251.5 L721.5,251.8 L721.8,251.7 L722.0,251.8 L722.2,253.6 L722.5,253.3 L722.8,253.5 L723.0,254.9 L723.2,255.2 L723.5,255.5 L723.8,256.1 L724.0,257.4 L724.2,257.2 L724.5,257.9 L724.8,258.6 L725.0,257.8 L725.2,257.9 L725.5,257.5 L725.8,258.2 L726.0,258.2 L726.2,256.9 L726.5,255.9 L726.8,254.6 L727.0,254.4 L727.2,252.4 L727.5,251.4 L727.8,249.2 L728.0,248.2 L728.2,245.6 L728.5,244.4 L728.8,243.9 L729.0,241.9 L729.2,240.4 L729.5,238.6 L729.8,237.0 L730.0,235.1 L730.2,234.6 L730.5,234.8 L730.8,234.5 L731.0,233.4 L731.2,233.5 L731.5,232.4 L731.8,232.6 L732.0,231.5 L732.2,192.8 L732.5,184.2 L732.8,183.8 L733.0,182.6 L733.2,182.4 L733.5,182.1 L733.8,181.3 L734.0,181.5 L734.2,181.9 L734.5,181.6 L734.8,181.7 L735.0,182.0 L735.2,181.8 L735.5,181.4 L735.8,181.8 L736.0,182.5 L736.2,182.7 L736.5,183.6 L736.8,183.7 L737.0,184.4 L737.2,193.2 L737.5,230.5 L737.8,230.5 L738.0,230.0 L738.2,231.1 L738.5,230.5 L738.8,232.1 L739.0,232.5 L739.2,231.9 L739.5,231.1 L739.8,231.8 L740.0,230.6 L740.2,231.4 L740.5,230.8 L740.8,229.9 L741.0,230.9 L741.2,230.1 L741.5,230.5 L741.8,230.1 L742.0,229.7 L742.2,230.0 L742.5,228.9 L742.8,229.7 L743.0,228.8 L743.2,228.5 L743.5,229.1 L743.8,229.0 L744.0,229.2 L744.2,230.1 L744.5,229.6 L744.8,229.8 L745.0,230.2 L745.2,230.4 L745.5,231.5 L745.8,231.6 L746.0,231.8 L746.2,232.1 L746.5,231.5 L746.8,232.2 L747.0,231.7 L747.2,234.0 L747.5,235.2 L747.8,236.5 L748.0,237.2 L748.2,238.4 L748.5,240.9 L748.8,241.8 L749.0,243.3 L749.2,245.0 L749.5,245.4 L749.8,247.6 L750.0,248.6 L750.2,251.5 L750.5,253.5 L750.8,255.5 L751.0,259.0 L751.2,260.5 L751.5,263.5 L751.8,266.1 L752.0,267.6 L752.2,269.5 L752.5,270.4 L752.8,271.4 L753.0,272.6 L753.2,273.8 L753.5,273.1 L753.8,273.4 L754.0,273.5 L754.2,273.0 L754.5,274.1 L754.8,274.2 L755.0,274.5 L755.2,273.9 L755.5,273.8 L755.8,274.2 L756.0,274.8 L756.2,274.8 L756.5,274.6 L756.8,274.9 L757.0,274.5 L757.2,275.5 L757.5,274.8 L757.8,274.7 L758.0,275.0 L758.2,274.1 L758.5,274.7 L758.8,274.1 L759.0,274.6 L759.2,273.5 L759.5,273.7 L759.8,274.1 L760.0,273.8 L760.2,273.5 L760.5,273.7 L760.8,273.1 L761.0,273.3 L761.2,272.6 L761.5,273.6 L761.8,272.8 L762.0,273.5 L762.2,272.3 L762.5,271.6 L762.8,270.9 L763.0,269.5 L763.2,269.6 L763.5,268.2 L763.8,268.3 L764.0,267.4 L764.2,266.5 L764.5,265.9 L764.8,264.7 L765.0,264.2 L765.2,262.3 L765.5,258.8 L765.8,256.3 L766.0,254.4 L766.2,252.1 L766.5,249.3 L766.8,247.0 L767.0,245.5 L767.2,241.5 L767.5,237.8 L767.8,234.4 L768.0,231.6 L768.2,229.0 L768.5,227.4 L768.8,225.4 L769.0,223.2 L769.2,221.3 L769.5,219.7 L769.8,216.5 L770.0,215.8 L770.2,212.7 L770.5,210.4 L770.8,209.4 L771.0,207.1 L771.2,207.1 L771.5,206.6 L771.8,207.4 L772.0,206.7 L772.2,207.3 L772.5,206.6 L772.8,207.1 L773.0,207.2 L773.2,206.8 L773.5,207.0 L773.8,206.4 L774.0,207.2 L774.2,198.4 L774.5,188.7 L774.8,180.4 L775.0,178.2 L775.2,176.6 L775.5,176.9 L775.8,176.2 L776.0,174.8 L776.2,175.0 L776.5,174.6 L776.8,174.8 L777.0,174.4 L777.2,175.1 L777.5,174.8 L777.8,175.0 L778.0,175.3 L778.2,175.3 L778.5,176.5 L778.8,177.2 L779.0,177.1 L779.2,178.0 L779.5,210.8 L779.8,228.4 L780.0,229.1 L780.2,230.2 L780.5,230.6 L780.8,231.1 L781.0,230.3 L781.2,230.4 L781.5,231.7 L781.8,231.5 L782.0,232.5 L782.2,232.0 L782.5,232.2 L782.8,232.1 L783.0,233.6 L783.2,234.0 L783.5,234.8 L783.8,235.8 L784.0,237.2 L784.2,238.3 L784.5,238.7 L784.8,239.3 L785.0,240.5 L785.2,242.2 L785.5,242.5 L785.8,243.8 L786.0,244.6 L786.2,244.5 L786.5,244.7 L786.8,244.3 L787.0,244.8 L787.2,245.3 L787.5,244.3 L787.8,244.8 L788.0,245.5 L788.2,242.2 L788.5,237.3 L788.8,234.7 L789.0,231.2 L789.2,229.5 L789.5,227.0 L789.8,224.5 L790.0,222.7 L790.2,221.3 L790.5,219.3 L790.8,216.6 L791.0,215.2 L791.2,213.2 L791.5,211.2 L791.8,208.3 L792.0,206.9 L792.2,206.6 L792.5,206.9 L792.8,206.4 L793.0,206.0 L793.2,206.6 L793.5,206.0 L793.8,206.5 L794.0,205.7 L794.2,205.9 L794.5,206.2 L794.8,205.1 L795.0,205.8 L795.2,204.8 L795.5,205.9 L795.8,204.5 L796.0,205.3 L796.2,199.3 L796.5,193.5 L796.8,188.3 L797.0,182.9 L797.2,177.3 L797.5,171.4 L797.8,167.4 L798.0,166.4 L798.2,166.7 L798.5,165.2 L798.8,164.5 L799.0,164.0 L799.2,165.0 L799.5,164.0 L799.8,164.3 L800.0,164.5 L800.2,163.9 L800.5,164.5 L800.8,163.9 L801.0,163.8 L801.2,163.8 L801.5,164.4 L801.8,165.6 L802.0,165.3 L802.2,166.3 L802.5,167.4 L802.8,173.4 L803.0,204.5 L803.2,205.5 L803.5,205.9 L803.8,207.1 L804.0,207.6 L804.2,207.1 L804.5,208.1 L804.8,208.4 L805.0,208.3 L805.2,208.5 L805.5,208.7 L805.8,207.3 L806.0,207.3 L806.2,207.0 L806.5,205.6 L806.8,206.4 L807.0,204.8 L807.2,204.6 L807.5,204.7 L807.8,203.3 L808.0,203.3 L808.2,202.4 L808.5,202.2 L808.8,200.9 L809.0,200.5 L809.2,200.0 L809.5,199.2 L809.8,198.6 L810.0,198.1 L810.2,197.9 L810.5,196.7 L810.8,197.1 L811.0,195.9 L811.2,195.1 L811.5,194.5 L811.8,194.8 L812.0,193.1 L812.2,193.5 L812.5,192.0 L812.8,192.6 L813.0,191.3 L813.2,191.0 L813.5,190.8 L813.8,189.1 L814.0,188.5 L814.2,188.8 L814.5,188.1 L814.8,187.7 L815.0,186.5 L815.2,186.6 L815.5,186.1 L815.8,186.3 L816.0,185.9 L816.2,186.2 L816.5,185.6 L816.8,185.4 L817.0,185.8 L817.2,184.9 L817.5,185.7 L817.8,185.1 L818.0,184.6 L818.2,183.2 L818.5,182.5 L818.8,181.3 L819.0,180.3 L819.2,178.6 L819.5,177.4 L819.8,176.8 L820.0,174.7 L820.2,175.0 L820.5,174.2 L820.8,173.7 L821.0,172.9 L821.2,171.9 L821.5,172.5 L821.8,172.2 L822.0,171.5 L822.2,172.5 L822.5,171.9 L822.8,172.2 L823.0,172.0 L823.2,171.4 L823.5,172.6 L823.8,171.7 L824.0,172.0 L824.2,173.0 L824.5,173.0 L824.8,173.9 L825.0,174.8 L825.2,176.6 L825.5,188.3 L825.8,198.5 L826.0,210.0 L826.2,211.4 L826.5,212.6 L826.8,212.9 L827.0,214.3 L827.2,215.2 L827.5,214.2 L827.8,214.1 L828.0,213.9 L828.2,214.2 L828.5,214.1 L828.8,213.8 L829.0,213.3 L829.2,213.4 L829.5,213.1 L829.8,212.5 L830.0,213.4 L830.2,212.8 L830.5,211.9 L830.8,211.5 L831.0,210.2 L831.2,210.0 L831.5,208.5 L831.8,208.6 L832.0,207.9 L832.2,207.6 L832.5,206.8 L832.8,206.2 L833.0,204.7 L833.2,198.2 L833.5,190.6 L833.8,183.2 L834.0,181.3 L834.2,181.3 L834.5,180.7 L834.8,180.1 L835.0,179.7 L835.2,178.9 L835.5,178.7 L835.8,179.2 L836.0,178.6 L836.2,178.9 L836.5,178.7 L836.8,178.8 L837.0,179.7 L837.2,179.2 L837.5,180.7 L837.8,180.6 L838.0,182.0 L838.2,182.1 L838.5,183.9 L838.8,186.0 L839.0,187.3 L839.2,188.1 L839.5,188.1 L839.8,187.8 L840.0,189.1 L840.2,187.9 L840.5,186.9 L840.8,187.7 L841.0,186.1 L841.2,185.6 L841.5,184.7 L841.8,184.2 L842.0,184.5 L842.2,184.2 L842.5,184.0 L842.8,183.5 L843.0,183.5 L843.2,184.6 L843.5,183.9 L843.8,184.9 L844.0,184.9 L844.2,184.1 L844.5,185.7 L844.8,185.2 L845.0,186.8 L845.2,187.8 L845.5,189.4 L845.8,191.0 L846.0,193.1 L846.2,194.0 L846.5,196.3 L846.8,197.7 L847.0,199.7 L847.2,199.5 L847.5,200.3 L847.8,200.3 L848.0,200.7 L848.2,200.6 L848.5,200.7 L848.8,201.2 L849.0,201.2 L849.2,201.0 L849.5,200.8 L849.5,284.2 L849.2,285.8 L849.0,285.6 L848.8,284.4 L848.5,284.9 L848.2,285.8 L848.0,284.5 L847.8,284.0 L847.5,285.0 L847.2,285.5 L847.0,285.7 L846.8,284.0 L846.5,284.6 L846.2,284.7 L846.0,284.8 L845.8,284.6 L845.5,284.5 L845.2,284.5 L845.0,284.0 L844.8,284.4 L844.5,284.8 L844.2,284.5 L844.0,284.0 L843.8,285.0 L843.5,284.0 L843.2,284.3 L843.0,285.3 L842.8,284.4 L842.5,284.2 L842.2,284.3 L842.0,285.6 L841.8,280.6 L841.5,273.3 L841.2,268.7 L841.0,264.2 L840.8,263.8 L840.5,263.9 L840.2,263.8 L840.0,264.4 L839.8,263.6 L839.5,263.7 L839.2,263.2 L839.0,262.7 L838.8,263.6 L838.5,263.1 L838.2,273.1 L838.0,284.9 L837.8,284.3 L837.5,284.7 L837.2,283.3 L837.0,283.5 L836.8,283.8 L836.5,284.1 L836.2,283.5 L836.0,284.2 L835.8,284.7 L835.5,284.4 L835.2,283.4 L835.0,284.2 L834.8,284.5 L834.5,284.4 L834.2,283.1 L834.0,283.2 L833.8,283.6 L833.5,283.2 L833.2,283.2 L833.0,284.1 L832.8,283.8 L832.5,284.1 L832.2,284.5 L832.0,284.7 L831.8,283.6 L831.5,284.8 L831.2,284.4 L831.0,284.5 L830.8,276.3 L830.5,268.6 L830.2,261.9 L830.0,253.8 L829.8,254.2 L829.5,253.8 L829.2,254.8 L829.0,253.1 L828.8,253.7 L828.5,252.9 L828.2,254.8 L828.0,253.5 L827.8,253.4 L827.5,253.3 L827.2,254.3 L827.0,253.0 L826.8,254.7 L826.5,254.7 L826.2,254.3 L826.0,254.8 L825.8,254.0 L825.5,254.4 L825.2,254.3 L825.0,253.6 L824.8,254.8 L824.5,252.8 L824.2,253.4 L824.0,253.0 L823.8,254.5 L823.5,253.3 L823.2,253.8 L823.0,254.5 L822.8,251.2 L822.5,246.5 L822.2,243.1 L822.0,240.0 L821.8,241.4 L821.5,241.4 L821.2,241.4 L821.0,241.3 L820.8,240.0 L820.5,240.6 L820.2,239.8 L820.0,241.4 L819.8,241.6 L819.5,241.8 L819.2,239.9 L819.0,240.5 L818.8,240.5 L818.5,239.8 L818.2,240.9 L818.0,241.6 L817.8,240.3 L817.5,240.4 L817.2,241.1 L817.0,241.1 L816.8,241.5 L816.5,239.9 L816.2,240.1 L816.0,241.2 L815.8,242.6 L815.5,244.2 L815.2,245.5 L815.0,247.0 L814.8,245.9 L814.5,245.8 L814.2,246.0 L814.0,245.8 L813.8,246.6 L813.5,245.2 L813.2,246.6 L813.0,246.2 L812.8,245.6 L812.5,245.1 L812.2,246.0 L812.0,246.8 L811.8,245.6 L811.5,245.5 L811.2,245.0 L811.0,246.6 L810.8,245.5 L810.5,246.1 L810.2,246.2 L810.0,245.7 L809.8,246.9 L809.5,245.8 L809.2,246.7 L809.0,245.4 L808.8,246.3 L808.5,246.1 L808.2,245.1 L808.0,245.9 L807.8,245.1 L807.5,245.1 L807.2,245.0 L807.0,246.3 L806.8,246.9 L806.5,246.3 L806.2,246.5 L806.0,246.0 L805.8,245.6 L805.5,245.1 L805.2,247.0 L805.0,245.7 L804.8,245.4 L804.5,246.7 L804.2,246.3 L804.0,245.9 L803.8,246.9 L803.5,245.8 L803.2,247.0 L803.0,246.4 L802.8,245.7 L802.5,247.0 L802.2,247.0 L802.0,246.4 L801.8,265.2 L801.5,284.1 L801.2,285.0 L801.0,284.8 L800.8,284.1 L800.5,283.9 L800.2,283.4 L800.0,283.8 L799.8,284.2 L799.5,284.4 L799.2,283.9 L799.0,283.9 L798.8,284.5 L798.5,284.2 L798.2,283.3 L798.0,283.7 L797.8,284.3 L797.5,284.5 L797.2,283.2 L797.0,284.8 L796.8,280.2 L796.5,276.8 L796.2,272.0 L796.0,268.4 L795.8,269.5 L795.5,268.5 L795.2,269.1 L795.0,268.4 L794.8,267.9 L794.5,268.4 L794.2,268.0 L794.0,267.9 L793.8,269.1 L793.5,267.9 L793.2,267.4 L793.0,267.1 L792.8,268.2 L792.5,266.8 L792.2,267.0 L792.0,268.5 L791.8,268.0 L791.5,267.6 L791.2,268.3 L791.0,267.8 L790.8,268.8 L790.5,269.6 L790.2,270.2 L790.0,269.0 L789.8,286.6 L789.5,305.4 L789.2,305.3 L789.0,305.1 L788.8,304.0 L788.5,303.7 L788.2,304.8 L788.0,303.6 L787.8,303.3 L787.5,304.2 L787.2,304.4 L787.0,304.0 L786.8,303.6 L786.5,304.0 L786.2,305.0 L786.0,303.4 L785.8,304.2 L785.5,304.1 L785.2,292.0 L785.0,282.7 L784.8,280.3 L784.5,280.4 L784.2,278.7 L784.0,277.3 L783.8,277.1 L783.5,275.6 L783.2,274.6 L783.0,274.0 L782.8,273.8 L782.5,274.1 L782.2,275.4 L782.0,277.0 L781.8,277.9 L781.5,278.3 L781.2,278.5 L781.0,279.9 L780.8,281.1 L780.5,280.1 L780.2,281.0 L780.0,282.2 L779.8,282.8 L779.5,281.5 L779.2,283.1 L779.0,281.3 L778.8,282.3 L778.5,282.3 L778.2,281.3 L778.0,281.9 L777.8,281.4 L777.5,281.1 L777.2,282.3 L777.0,281.2 L776.8,280.3 L776.5,281.8 L776.2,280.6 L776.0,281.7 L775.8,281.8 L775.5,281.7 L775.2,280.9 L775.0,280.3 L774.8,280.6 L774.5,279.8 L774.2,281.0 L774.0,279.0 L773.8,279.3 L773.5,280.5 L773.2,279.5 L773.0,280.3 L772.8,278.9 L772.5,278.2 L772.2,279.7 L772.0,279.6 L771.8,279.0 L771.5,278.4 L771.2,277.3 L771.0,278.7 L770.8,278.7 L770.5,279.9 L770.2,278.9 L770.0,279.6 L769.8,280.2 L769.5,281.8 L769.2,281.2 L769.0,282.7 L768.8,281.7 L768.5,283.2 L768.2,283.2 L768.0,283.7 L767.8,283.5 L767.5,284.2 L767.2,286.4 L767.0,286.4 L766.8,285.9 L766.5,286.2 L766.2,287.3 L766.0,288.4 L765.8,289.0 L765.5,289.5 L765.2,289.9 L765.0,289.1 L764.8,293.4 L764.5,296.6 L764.2,299.3 L764.0,303.3 L763.8,303.5 L763.5,303.5 L763.2,303.9 L763.0,303.7 L762.8,303.7 L762.5,302.8 L762.2,303.3 L762.0,303.1 L761.8,303.8 L761.5,303.5 L761.2,304.5 L761.0,304.0 L760.8,304.9 L760.5,304.9 L760.2,305.7 L760.0,306.2 L759.8,308.1 L759.5,308.4 L759.2,309.1 L759.0,308.5 L758.8,308.3 L758.5,309.3 L758.2,309.3 L758.0,309.7 L757.8,311.3 L757.5,311.3 L757.2,311.9 L757.0,312.1 L756.8,311.0 L756.5,311.7 L756.2,311.2 L756.0,311.7 L755.8,312.0 L755.5,312.8 L755.2,313.1 L755.0,311.6 L754.8,313.0 L754.5,313.3 L754.2,314.1 L754.0,315.3 L753.8,315.1 L753.5,315.8 L753.2,316.4 L753.0,318.3 L752.8,319.7 L752.5,319.1 L752.2,320.7 L752.0,321.2 L751.8,319.9 L751.5,319.0 L751.2,319.8 L751.0,318.6 L750.8,318.5 L750.5,318.3 L750.2,316.0 L750.0,317.3 L749.8,315.9 L749.5,315.9 L749.2,314.9 L749.0,314.1 L748.8,314.0 L748.5,313.9 L748.2,312.3 L748.0,312.6 L747.8,312.6 L747.5,313.8 L747.2,313.6 L747.0,315.0 L746.8,315.9 L746.5,316.9 L746.2,316.2 L746.0,317.3 L745.8,317.8 L745.5,319.2 L745.2,320.1 L745.0,320.1 L744.8,318.7 L744.5,319.4 L744.2,318.3 L744.0,316.9 L743.8,317.6 L743.5,315.9 L743.2,314.9 L743.0,314.4 L742.8,315.5 L742.5,314.4 L742.2,314.1 L742.0,313.2 L741.8,312.6 L741.5,311.0 L741.2,310.3 L741.0,311.3 L740.8,308.2 L740.5,307.7 L740.2,306.0 L740.0,304.8 L739.8,303.4 L739.5,301.9 L739.2,301.1 L739.0,298.1 L738.8,299.5 L738.5,297.5 L738.2,296.8 L738.0,296.8 L737.8,297.4 L737.5,297.1 L737.2,295.5 L737.0,295.2 L736.8,295.1 L736.5,295.1 L736.2,294.9 L736.0,293.5 L735.8,294.0 L735.5,293.2 L735.2,294.2 L735.0,293.8 L734.8,293.3 L734.5,292.8 L734.2,292.7 L734.0,293.6 L733.8,292.8 L733.5,293.4 L733.2,292.0 L733.0,292.2 L732.8,292.2 L732.5,292.8 L732.2,292.8 L732.0,291.5 L731.8,291.7 L731.5,292.8 L731.2,292.5 L731.0,292.4 L730.8,292.0 L730.5,290.6 L730.2,291.3 L730.0,290.9 L729.8,290.5 L729.5,291.4 L729.2,289.7 L729.0,289.8 L728.8,289.3 L728.5,290.0 L728.2,290.3 L728.0,289.6 L727.8,289.9 L727.5,290.0 L727.2,289.7 L727.0,289.6 L726.8,288.2 L726.5,287.6 L726.2,288.8 L726.0,287.8 L725.8,287.5 L725.5,286.9 L725.2,286.0 L725.0,284.9 L724.8,284.9 L724.5,283.8 L724.2,283.2 L724.0,283.0 L723.8,283.1 L723.5,281.5 L723.2,281.4 L723.0,281.6 L722.8,280.8 L722.5,279.1 L722.2,279.7 L722.0,279.4 L721.8,277.7 L721.5,276.7 L721.2,277.4 L721.0,276.5 L720.8,275.0 L720.5,274.7 L720.2,273.5 L720.0,274.5 L719.8,272.3 L719.5,272.6 L719.2,272.8 L719.0,271.9 L718.8,270.9 L718.5,270.2 L718.2,269.6 L718.0,268.5 L717.8,267.5 L717.5,266.6 L717.2,267.3 L717.0,265.1 L716.8,265.0 L716.5,264.4 L716.2,263.6 L716.0,261.8 L715.8,261.2 L715.5,261.7 L715.2,259.9 L715.0,258.6 L714.8,258.1 L714.5,257.8 L714.2,255.9 L714.0,257.0 L713.8,256.3 L713.5,257.7 L713.2,258.8 L713.0,260.7 L712.8,261.7 L712.5,263.5 L712.2,264.2 L712.0,264.1 L711.8,265.0 L711.5,266.4 L711.2,268.7 L711.0,268.7 L710.8,270.1 L710.5,269.9 L710.2,272.1 L710.0,271.7 L709.8,274.0 L709.5,272.9 L709.2,274.3 L709.0,276.0 L708.8,277.2 L708.5,276.6 L708.2,277.8 L708.0,278.9 L707.8,280.0 L707.5,280.1 L707.2,280.3 L707.0,280.8 L706.8,281.2 L706.5,282.1 L706.2,283.8 L706.0,285.0 L705.8,285.3 L705.5,286.2 L705.2,286.9 L705.0,286.7 L704.8,286.2 L704.5,285.9 L704.2,285.5 L704.0,285.4 L703.8,285.5 L703.5,285.7 L703.2,284.2 L703.0,284.0 L702.8,283.3 L702.5,283.7 L702.2,283.9 L702.0,282.2 L701.8,282.9 L701.5,282.9 L701.2,281.9 L701.0,281.2 L700.8,281.0 L700.5,281.3 L700.2,280.8 L700.0,281.0 L699.8,278.9 L699.5,278.6 L699.2,275.6 L699.0,274.5 L698.8,273.3 L698.5,272.5 L698.2,270.8 L698.0,270.3 L697.8,267.4 L697.5,267.4 L697.2,265.0 L697.0,264.5 L696.8,265.8 L696.5,266.6 L696.2,268.4 L696.0,269.8 L695.8,272.1 L695.5,272.9 L695.2,274.3 L695.0,275.7 L694.8,277.1 L694.5,278.8 L694.2,280.3 L694.0,283.3 L693.8,283.9 L693.5,285.1 L693.2,286.5 L693.0,289.3 L692.8,289.9 L692.5,292.0 L692.2,292.9 L692.0,295.0 L691.8,296.6 L691.5,296.7 L691.2,296.9 L691.0,297.3 L690.8,298.9 L690.5,298.7 L690.2,299.3 L690.0,300.7 L689.8,300.6 L689.5,299.9 L689.2,298.8 L689.0,297.5 L688.8,297.8 L688.5,296.5 L688.2,297.1 L688.0,296.4 L687.8,294.5 L687.5,294.6 L687.2,292.8 L687.0,293.4 L686.8,291.9 L686.5,291.0 L686.2,290.8 L686.0,289.7 L685.8,288.0 L685.5,286.4 L685.2,286.2 L685.0,285.2 L684.8,282.4 L684.5,281.3 L684.2,280.3 L684.0,277.9 L683.8,277.5 L683.5,276.7 L683.2,275.2 L683.0,272.9 L682.8,273.2 L682.5,273.4 L682.2,271.8 L682.0,273.0 L681.8,271.5 L681.5,271.5 L681.2,272.0 L681.0,272.4 L680.8,272.8 L680.5,271.9 L680.2,270.9 L680.0,272.2 L679.8,272.1 L679.5,271.8 L679.2,270.6 L679.0,270.8 L678.8,270.0 L678.5,269.7 L678.2,268.6 L678.0,266.8 L677.8,265.8 L677.5,266.0 L677.2,265.2 L677.0,262.6 L676.8,262.2 L676.5,261.6 L676.2,260.3 L676.0,260.6 L675.8,259.6 L675.5,256.9 L675.2,256.4 L675.0,255.7 L674.8,256.2 L674.5,255.9 L674.2,255.8 L674.0,256.4 L673.8,255.0 L673.5,255.2 L673.2,256.9 L673.0,255.7 L672.8,255.9 L672.5,255.8 L672.2,255.7 L672.0,256.1 L671.8,255.9 L671.5,255.8 L671.2,255.9 L671.0,255.3 L670.8,256.1 L670.5,256.5 L670.2,256.0 L670.0,256.2 L669.8,256.3 L669.5,256.3 L669.2,256.8 L669.0,256.1 L668.8,256.0 L668.5,256.6 L668.2,256.3 L668.0,256.5 L667.8,256.4 L667.5,255.1 L667.2,255.2 L667.0,255.0 L666.8,256.6 L666.5,256.2 L666.2,256.2 L666.0,255.2 L665.8,254.8 L665.5,255.9 L665.2,255.5 L665.0,255.4 L664.8,254.6 L664.5,255.6 L664.2,254.7 L664.0,255.5 L663.8,255.4 L663.5,255.2 L663.2,255.5 L663.0,254.6 L662.8,255.3 L662.5,253.5 L662.2,254.1 L662.0,253.4 L661.8,253.7 L661.5,253.7 L661.2,252.9 L661.0,253.2 L660.8,254.7 L660.5,253.6 L660.2,253.5 L660.0,254.2 L659.8,253.5 L659.5,253.6 L659.2,253.2 L659.0,252.7 L658.8,252.7 L658.5,252.9 L658.2,253.8 L658.0,252.3 L657.8,253.8 L657.5,253.4 L657.2,252.9 L657.0,253.8 L656.8,254.0 L656.5,254.6 L656.2,253.5 L656.0,255.1 L655.8,255.5 L655.5,255.9 L655.2,254.4 L655.0,256.4 L654.8,254.7 L654.5,255.6 L654.2,255.0 L654.0,257.1 L653.8,256.2 L653.5,255.9 L653.2,257.0 L653.0,257.3 L652.8,257.1 L652.5,255.0 L652.2,254.4 L652.0,254.8 L651.8,254.7 L651.5,252.3 L651.2,251.4 L651.0,251.2 L650.8,251.8 L650.5,249.4 L650.2,249.2 L650.0,249.6 L649.8,248.9 L649.5,248.4 L649.2,249.1 L649.0,247.0 L648.8,248.0 L648.5,248.0 L648.2,247.7 L648.0,246.2 L647.8,247.7 L647.5,247.4 L647.2,247.2 L647.0,245.9 L646.8,246.2 L646.5,246.4 L646.2,244.7 L646.0,245.4 L645.8,244.3 L645.5,245.2 L645.2,244.6 L645.0,245.5 L644.8,244.6 L644.5,245.2 L644.2,244.2 L644.0,245.1 L643.8,243.2 L643.5,244.5 L643.2,243.7 L643.0,244.1 L642.8,243.8 L642.5,245.1 L642.2,245.7 L642.0,244.8 L641.8,246.9 L641.5,245.7 L641.2,247.2 L641.0,247.9 L640.8,248.4 L640.5,249.0 L640.2,248.0 L640.0,250.2 L639.8,249.8 L639.5,249.6 L639.2,251.5 L639.0,252.1 L638.8,251.3 L638.5,253.0 L638.2,252.3 L638.0,252.7 L637.8,254.5 L637.5,254.2 L637.2,255.4 L637.0,254.9 L636.8,255.4 L636.5,257.5 L636.2,257.6 L636.0,257.2 L635.8,259.2 L635.5,258.6 L635.2,259.9 L635.0,259.8 L634.8,260.4 L634.5,261.3 L634.2,261.5 L634.0,263.4 L633.8,263.0 L633.5,265.2 L633.2,264.7 L633.0,265.8 L632.8,265.5 L632.5,267.1 L632.2,267.4 L632.0,267.7 L631.8,269.6 L631.5,269.9 L631.2,270.3 L631.0,272.2 L630.8,271.8 L630.5,274.4 L630.2,275.4 L630.0,274.7 L629.8,276.7 L629.5,278.1 L629.2,277.6 L629.0,278.9 L628.8,280.1 L628.5,281.2 L628.2,282.6 L628.0,283.8 L627.8,282.8 L627.5,283.6 L627.2,283.8 L627.0,283.4 L626.8,283.0 L626.5,283.4 L626.2,283.7 L626.0,283.2 L625.8,283.1 L625.5,283.1 L625.2,283.7 L625.0,283.2 L624.8,283.6 L624.5,283.9 L624.2,285.3 L624.0,283.7 L623.8,284.5 L623.5,285.7 L623.2,284.3 L623.0,286.2 L622.8,285.4 L622.5,285.1 L622.2,285.6 L622.0,285.8 L621.8,285.3 L621.5,287.4 L621.2,287.5 L621.0,286.3 L620.8,287.7 L620.5,288.8 L620.2,289.8 L620.0,289.7 L619.8,291.8 L619.5,292.5 L619.2,292.1 L619.0,293.4 L618.8,293.7 L618.5,294.2 L618.2,295.2 L618.0,297.2 L617.8,296.8 L617.5,298.8 L617.2,298.5 L617.0,300.2 L616.8,301.0 L616.5,300.8 L616.2,300.8 L616.0,301.9 L615.8,302.4 L615.5,302.7 L615.2,304.3 L615.0,304.6 L614.8,305.0 L614.5,304.9 L614.2,306.4 L614.0,307.1 L613.8,307.0 L613.5,308.0 L613.2,308.8 L613.0,309.1 L612.8,308.9 L612.5,308.9 L612.2,310.4 L612.0,310.4 L611.8,311.8 L611.5,310.6 L611.2,311.7 L611.0,312.5 L610.8,312.4 L610.5,313.1 L610.2,312.2 L610.0,312.6 L609.8,313.8 L609.5,313.3 L609.2,313.8 L609.0,313.1 L608.8,315.3 L608.5,314.0 L608.2,316.5 L608.0,315.8 L607.8,317.5 L607.5,317.6 L607.2,317.6 L607.0,318.5 L606.8,317.7 L606.5,318.4 L606.2,317.6 L606.0,318.4 L605.8,317.5 L605.5,317.6 L605.2,318.4 L605.0,318.6 L604.8,318.7 L604.5,317.9 L604.2,317.0 L604.0,318.7 L603.8,317.5 L603.5,317.7 L603.2,317.2 L603.0,318.3 L602.8,317.8 L602.5,317.8 L602.2,318.2 L602.0,316.4 L601.8,316.9 L601.5,316.3 L601.2,316.6 L601.0,316.2 L600.8,314.6 L600.5,311.7 L600.2,310.4 L600.0,307.9 L599.8,306.6 L599.5,303.4 L599.2,301.4 L599.0,299.5 L598.8,296.4 L598.5,292.6 L598.2,289.8 L598.0,286.5 L597.8,281.6 L597.5,279.0 L597.2,274.6 L597.0,271.4 L596.8,268.3 L596.5,264.1 L596.2,259.1 L596.0,255.6 L595.8,252.6 L595.5,248.8 L595.2,243.8 L595.0,240.4 L594.8,238.5 L594.5,235.4 L594.2,233.5 L594.0,232.6 L593.8,230.7 L593.5,228.6 L593.2,227.4 L593.0,224.5 L592.8,226.4 L592.5,226.8 L592.2,226.6 L592.0,226.8 L591.8,227.2 L591.5,228.2 L591.2,229.5 L591.0,231.0 L590.8,230.5 L590.5,231.2 L590.2,231.5 L590.0,232.0 L589.8,232.8 L589.5,233.5 L589.2,234.1 L589.0,235.2 L588.8,234.1 L588.5,235.1 L588.2,235.4 L588.0,236.0 L587.8,237.6 L587.5,237.0 L587.2,237.7 L587.0,238.0 L586.8,238.0 L586.5,238.8 L586.2,240.2 L586.0,241.5 L585.8,243.0 L585.5,243.7 L585.2,243.8 L585.0,244.3 L584.8,245.1 L584.5,245.6 L584.2,247.9 L584.0,246.9 L583.8,249.0 L583.5,250.0 L583.2,249.6 L583.0,250.8 L582.8,251.4 L582.5,252.5 L582.2,251.9 L582.0,253.7 L581.8,252.7 L581.5,253.6 L581.2,253.7 L581.0,252.1 L580.8,254.0 L580.5,252.8 L580.2,253.7 L580.0,253.3 L579.8,253.8 L579.5,252.3 L579.2,253.9 L579.0,253.0 L578.8,253.9 L578.5,253.8 L578.2,253.8 L578.0,252.9 L577.8,252.9 L577.5,252.6 L577.2,253.0 L577.0,252.6 L576.8,253.3 L576.5,253.8 L576.2,253.5 L576.0,253.3 L575.8,252.5 L575.5,253.3 L575.2,254.6 L575.0,254.8 L574.8,254.2 L574.5,254.7 L574.2,256.0 L574.0,255.1 L573.8,254.9 L573.5,256.4 L573.2,256.1 L573.0,255.6 L572.8,256.2 L572.5,256.5 L572.2,258.0 L572.0,257.7 L571.8,257.7 L571.5,259.0 L571.2,259.3 L571.0,258.5 L570.8,258.7 L570.5,259.0 L570.2,259.4 L570.0,258.3 L569.8,258.4 L569.5,258.1 L569.2,259.2 L569.0,258.3 L568.8,265.2 L568.5,272.4 L568.2,278.8 L568.0,286.9 L567.8,286.9 L567.5,287.4 L567.2,287.2 L567.0,287.4 L566.8,286.3 L566.5,286.5 L566.2,285.9 L566.0,286.7 L565.8,286.6 L565.5,287.5 L565.2,287.1 L565.0,286.3 L564.8,286.0 L564.5,287.1 L564.2,286.0 L564.0,287.3 L563.8,249.1 L563.5,249.3 L563.2,250.8 L563.0,249.7 L562.8,249.2 L562.5,249.3 L562.2,250.6 L562.0,249.9 L561.8,250.5 L561.5,249.6 L561.2,249.2 L561.0,249.6 L560.8,268.5 L560.5,268.6 L560.2,267.2 L560.0,268.3 L559.8,268.4 L559.5,267.5 L559.2,268.8 L559.0,268.7 L558.8,267.3 L558.5,268.1 L558.2,267.5 L558.0,267.6 L557.8,245.1 L557.5,245.7 L557.2,245.4 L557.0,245.4 L556.8,244.6 L556.5,245.8 L556.2,245.7 L556.0,244.7 L555.8,285.0 L555.5,284.7 L555.2,284.3 L555.0,284.5 L554.8,284.5 L554.5,283.2 L554.2,284.7 L554.0,284.7 L553.8,283.0 L553.5,283.5 L553.2,284.6 L553.0,284.9 L552.8,283.4 L552.5,284.6 L552.2,284.6 L552.0,283.3 L551.8,240.0 L551.5,240.6 L551.2,239.2 L551.0,240.2 L550.8,240.4 L550.5,239.6 L550.2,239.3 L550.0,239.3 L549.8,239.7 L549.5,239.1 L549.2,240.9 L549.0,240.1 L548.8,263.8 L548.5,264.7 L548.2,263.3 L548.0,264.9 L547.8,264.0 L547.5,263.5 L547.2,263.0 L547.0,264.9 L546.8,264.5 L546.5,264.1 L546.2,263.3 L546.0,264.6 L545.8,263.7 L545.5,263.8 L545.2,264.0 L545.0,263.5 L544.8,290.5 L544.5,290.2 L544.2,290.5 L544.0,289.8 L543.8,289.3 L543.5,289.8 L543.2,289.7 L543.0,290.0 L542.8,289.1 L542.5,289.4 L542.2,289.1 L542.0,290.2 L541.8,289.9 L541.5,288.7 L541.2,290.2 L541.0,288.7 L540.8,290.4 L540.5,289.2 L540.2,288.6 L540.0,290.5 L539.8,235.4 L539.5,235.1 L539.2,235.3 L539.0,235.0 L538.8,235.2 L538.5,235.9 L538.2,235.5 L538.0,235.1 L537.8,234.9 L537.5,234.1 L537.2,236.0 L537.0,235.1 L536.8,235.8 L536.5,235.1 L536.2,235.9 L536.0,235.1 L535.8,234.7 L535.5,235.2 L535.2,306.0 L535.0,305.1 L534.8,305.3 L534.5,305.7 L534.2,305.0 L534.0,306.3 L533.8,306.2 L533.5,306.3 L533.2,305.1 L533.0,305.8 L532.8,306.3 L532.5,304.6 L532.2,306.0 L532.0,306.5 L531.8,306.2 L531.5,305.7 L531.2,304.7 L531.0,305.7 L530.8,306.1 L530.5,306.0 L530.2,304.7 L530.0,305.3 L529.8,305.5 L529.5,305.3 L529.2,305.6 L529.0,304.6 L528.8,305.7 L528.5,305.0 L528.2,305.3 L528.0,304.5 L527.8,305.7 L527.5,305.7 L527.2,306.2 L527.0,306.4 L526.8,242.3 L526.5,242.5 L526.2,241.6 L526.0,240.8 L525.8,240.7 L525.5,240.5 L525.2,241.1 L525.0,240.7 L524.8,242.2 L524.5,241.3 L524.2,240.7 L524.0,241.0 L523.8,241.2 L523.5,240.6 L523.2,240.7 L523.0,240.2 L522.8,240.0 L522.5,240.6 L522.2,240.9 L522.0,240.9 L521.8,240.0 L521.5,241.0 L521.2,241.1 L521.0,247.5 L520.8,246.5 L520.5,247.4 L520.2,246.7 L520.0,246.8 L519.8,248.4 L519.5,246.8 L519.2,247.8 L519.0,248.1 L518.8,247.4 L518.5,248.5 L518.2,248.4 L518.0,237.7 L517.8,237.8 L517.5,236.9 L517.2,236.7 L517.0,238.0 L516.8,237.4 L516.5,236.4 L516.2,237.3 L516.0,236.7 L515.8,235.5 L515.5,235.8 L515.2,236.5 L515.0,235.7 L514.8,235.5 L514.5,235.9 L514.2,236.1 L514.0,235.3 L513.8,231.3 L513.5,231.9 L513.2,231.4 L513.0,230.7 L512.8,230.2 L512.5,348.7 L512.2,349.9 L512.0,349.0 L511.8,349.0 L511.5,349.0 L511.2,349.0 L511.0,349.0 L510.8,349.0 L510.5,349.0 L510.2,349.0 L510.0,349.0 L509.8,349.0 L509.5,349.0 L509.2,349.0 L509.0,349.0 L508.8,349.0 L508.5,349.0 L508.2,349.0 L508.0,349.0 L507.8,349.0 L507.5,349.0 L507.2,349.0 L507.0,349.0 L506.8,349.0 L506.5,349.0 L506.2,270.0 L506.0,270.0 L505.8,270.0 L505.5,270.0 L505.2,270.0 L505.0,270.0 L504.8,288.7 L504.5,288.7 L504.2,288.7 L504.0,288.7 L503.8,288.7 L503.5,288.7 L503.2,288.7 L503.0,288.7 L502.8,288.7 L502.5,288.7 L502.2,288.7 L502.0,288.7 L501.8,288.7 L501.5,288.7 L501.2,288.7 L501.0,288.7 L500.8,276.0 L500.5,276.0 L500.2,276.0 L500.0,276.0 L499.8,276.0 L499.5,308.6 L499.2,308.6 L499.0,308.6 L498.8,308.6 L498.5,308.6 L498.2,308.6 L498.0,308.6 L497.8,308.6 L497.5,308.6 L497.2,308.6 L497.0,308.6 L496.8,308.6 L496.5,308.6 L496.2,308.6 L496.0,308.6 L495.8,308.6 L495.5,308.6 L495.2,308.6 L495.0,308.6 L494.8,308.6 L494.5,308.6 L494.2,308.6 L494.0,300.0 L493.8,300.0 L493.5,300.0 L493.2,300.0 L493.0,300.0 L492.8,349.8 L492.5,349.8 L492.2,349.8 L492.0,349.8 L491.8,349.8 L491.5,349.8 L491.2,349.8 L491.0,349.8 L490.8,349.8 L490.5,349.8 L490.2,349.8 L490.0,349.8 L489.8,349.8 L489.5,349.8 L489.2,349.8 L489.0,349.8 L488.8,349.8 L488.5,349.8 L488.2,349.8 L488.0,349.8 L487.8,349.8 L487.5,349.8 L487.2,349.8 L487.0,349.8 L486.8,334.5 L486.5,334.5 L486.2,334.5 L486.0,334.5 L485.8,334.5 L485.5,334.5 L485.2,334.5 L485.0,334.5 L484.8,334.5 L484.5,334.5 L484.2,334.5 L484.0,334.5 L483.8,334.5 L483.5,334.5 L483.2,334.5 L483.0,334.5 L482.8,334.5 L482.5,334.5 L482.2,334.5 L482.0,334.5 L481.8,334.5 L481.5,334.5 L481.2,334.5 L481.0,334.5 L480.8,334.5 L480.5,334.0 L480.2,334.0 L480.0,334.0 L479.8,334.0 L479.5,334.0 L479.2,334.0 L479.0,334.0 L478.8,334.0 L478.5,334.0 L478.2,334.0 L478.0,334.0 L477.8,334.0 L477.5,334.0 L477.2,334.0 L477.0,334.0 L476.8,397.6 L476.5,397.6 L476.2,397.6 L476.0,397.6 L475.8,397.6 L475.5,397.6 L475.2,397.6 L475.0,397.6 L474.8,397.6 L474.5,397.6 L474.2,397.6 L474.0,397.6 L473.8,397.6 L473.5,397.6 L473.2,397.6 L473.0,397.6 L472.8,397.6 L472.5,397.6 L472.2,397.6 L472.0,397.6 L471.8,397.6 L471.5,397.6 L471.2,397.6 L471.0,397.6 L470.8,359.0 L470.5,359.0 L470.2,359.0 L470.0,359.0 L469.8,359.0 L469.5,359.0 L469.2,359.0 L469.0,359.0 L468.8,359.0 L468.5,359.0 L468.2,359.0 L468.0,359.0 L467.8,359.0 L467.5,359.0 L467.2,359.0 L467.0,359.0 L466.8,359.0 L466.5,359.0 L466.2,359.0 L466.0,359.0 L465.8,359.0 L465.5,359.0 L465.2,359.0 L465.0,296.0 L464.8,296.0 L464.5,296.0 L464.2,296.0 L464.0,296.0 L463.8,296.0 L463.5,379.3 L463.2,379.3 L463.0,379.3 L462.8,379.3 L462.5,379.3 L462.2,379.3 L462.0,379.3 L461.8,379.3 L461.5,379.3 L461.2,379.3 L461.0,379.3 L460.8,379.3 L460.5,379.3 L460.2,379.3 L460.0,379.3 L459.8,379.3 L459.5,379.3 L459.2,379.3 L459.0,379.3 L458.8,379.3 L458.5,379.3 L458.2,379.3 L458.0,379.3 L457.8,379.3 L457.5,379.3 L457.2,379.3 L457.0,379.3 L456.8,328.0 L456.5,328.0 L456.2,328.0 L456.0,328.0 L455.8,328.0 L455.5,328.0 L455.2,328.0 L455.0,328.0 L454.8,328.0 L454.5,379.3 L454.2,379.3 L454.0,379.3 L453.8,379.3 L453.5,379.3 L453.2,379.3 L453.0,379.3 L452.8,379.3 L452.5,379.3 L452.2,379.3 L452.0,379.3 L451.8,379.3 L451.5,379.3 L451.2,379.3 L451.0,379.3 L450.8,379.3 L450.5,379.3 L450.2,379.3 L450.0,379.3 L449.8,379.3 L449.5,379.3 L449.2,379.3 L449.0,379.3 L448.8,379.3 L448.5,379.3 L448.2,379.3 L448.0,379.3 L447.8,379.3 L447.5,379.3 L447.2,379.3 L447.0,379.3 L446.8,379.3 L446.5,379.3 L446.2,379.3 L446.0,379.3 L445.8,331.0 L445.5,331.0 L445.2,331.0 L445.0,331.0 L444.8,331.0 L444.5,331.0 L444.2,331.0 L444.0,331.0 L443.8,404.8 L443.5,404.8 L443.2,404.8 L443.0,404.8 L442.8,404.8 L442.5,404.8 L442.2,404.8 L442.0,404.8 L441.8,404.8 L441.5,404.8 L441.2,404.8 L441.0,404.8 L440.8,404.8 L440.5,404.8 L440.2,404.8 L440.0,404.8 L439.8,404.8 L439.5,404.8 L439.2,404.8 L439.0,404.8 L438.8,404.8 L438.5,362.0 L438.2,362.0 L438.0,362.0 L437.8,362.0 L437.5,362.0 L437.2,362.0 L437.0,362.0 L436.8,387.6 L436.5,387.6 L436.2,387.6 L436.0,387.6 L435.8,387.6 L435.5,387.6 L435.2,387.6 L435.0,387.6 L434.8,387.6 L434.5,387.6 L434.2,387.6 L434.0,387.6 L433.8,387.6 L433.5,387.6 L433.2,387.6 L433.0,387.6 L432.8,387.6 L432.5,387.6 L432.2,387.6 L432.0,387.6 L431.8,387.6 L431.5,387.6 L431.2,387.6 L431.0,387.6 L430.8,387.6 L430.5,387.6 L430.2,387.6 L430.0,387.6 L429.8,387.6 L429.5,387.6 L429.2,387.6 L429.0,387.6 L428.8,409.3 L428.5,409.3 L428.2,409.3 L428.0,409.3 L427.8,409.3 L427.5,409.3 L427.2,409.3 L427.0,409.3 L426.8,409.3 L426.5,409.3 L426.2,409.3 L426.0,409.3 L425.8,409.3 L425.5,409.3 L425.2,409.3 L425.0,409.3 L424.8,409.3 L424.5,409.3 L424.2,409.3 L424.0,409.3 L423.8,409.3 L423.5,409.3 L423.2,380.0 L423.0,380.0 L422.8,380.0 L422.5,380.0 L422.2,380.0 L422.0,380.0 L421.8,380.0 L421.5,380.0 L421.2,380.0 L421.0,380.0 L420.8,419.6 L420.5,419.6 L420.2,419.6 L420.0,419.6 L419.8,419.6 L419.5,419.6 L419.2,419.6 L419.0,419.6 L418.8,419.6 L418.5,419.6 L418.2,419.6 L418.0,419.6 L417.8,419.6 L417.5,419.6 L417.2,419.6 L417.0,419.6 L416.8,419.6 L416.5,419.6 L416.2,419.6 L416.0,419.6 L415.8,419.6 L415.5,419.6 L415.2,419.6 L415.0,419.6 L414.8,419.6 L414.5,419.6 L414.2,419.6 L414.0,419.6 L413.8,419.6 L413.5,419.6 L413.2,419.6 L413.0,419.6 L412.8,419.6 L412.5,419.6 L412.2,419.6 L412.0,419.6 L411.8,419.6 L411.5,419.6 L411.2,419.6 L411.0,419.6 L410.8,419.6 L410.5,419.6 L410.2,419.6 L410.0,419.6 L409.8,419.6 L409.5,419.6 L409.2,419.6 L409.0,419.6 L408.8,419.6 L408.5,419.6 L408.2,419.6 L408.0,419.6 L407.8,419.6 L407.5,419.6 L407.2,419.6 L407.0,419.6 L406.8,419.6 L406.5,419.6 L406.2,419.6 L406.0,419.6 L405.8,419.6 L405.5,419.6 L405.2,419.6 L405.0,419.6 L404.8,419.6 L404.5,419.6 L404.2,419.6 L404.0,419.6 L403.8,419.6 L403.5,419.6 L403.2,419.6 L403.0,419.6 L402.8,419.6 L402.5,419.6 L402.2,419.6 L402.0,419.6 L401.8,419.6 L401.5,419.6 L401.2,419.6 L401.0,419.6 L400.8,419.6 L400.5,419.6 L400.2,419.6 L400.0,419.6 L399.8,419.6 L399.5,419.6 L399.2,419.6 L399.0,419.6 L398.8,419.6 L398.5,419.6 L398.2,419.6 L398.0,419.6 L397.8,419.6 L397.5,419.6 L397.2,419.6 L397.0,419.6 L396.8,419.6 L396.5,419.6 L396.2,419.6 L396.0,419.6 L395.8,419.6 L395.5,419.6 L395.2,419.6 L395.0,419.6 L394.8,419.6 L394.5,419.6 L394.2,419.6 L394.0,419.6 L393.8,419.6 L393.5,419.6 L393.2,419.6 L393.0,419.6 L392.8,419.6 L392.5,419.6 L392.2,419.6 L392.0,419.6 L391.8,419.6 L391.5,419.6 L391.2,419.6 L391.0,419.6 L390.8,419.6 L390.5,419.6 L390.2,419.6 L390.0,419.6 L389.8,419.6 L389.5,419.6 L389.2,419.6 L389.0,419.6 L388.8,419.6 L388.5,419.6 L388.2,419.6 L388.0,419.6 L387.8,419.6 L387.5,419.6 L387.2,419.6 L387.0,419.6 L386.8,419.6 L386.5,419.6 L386.2,419.6 L386.0,419.6 L385.8,419.6 L385.5,419.6 L385.2,419.6 L385.0,419.6 L384.8,419.6 L384.5,419.6 L384.2,419.6 L384.0,419.6 L383.8,419.6 L383.5,419.6 L383.2,419.6 L383.0,419.6 L382.8,419.6 L382.5,419.6 L382.2,419.6 L382.0,419.6 L381.8,419.6 L381.5,419.6 L381.2,419.6 L381.0,419.6 L380.8,419.6 L380.5,419.6 L380.2,419.6 L380.0,419.6 L379.8,419.6 L379.5,419.6 L379.2,419.6 L379.0,419.6 L378.8,419.6 L378.5,419.6 L378.2,419.6 L378.0,419.6 L377.8,419.6 L377.5,419.6 L377.2,419.6 L377.0,419.6 L376.8,419.6 L376.5,419.6 L376.2,419.6 L376.0,419.6 L375.8,419.6 L375.5,419.6 L375.2,419.6 L375.0,419.6 L374.8,419.6 L374.5,419.6 L374.2,419.6 L374.0,419.6 L373.8,419.6 L373.5,419.6 L373.2,419.6 L373.0,419.6 L372.8,419.6 L372.5,419.6 L372.2,419.6 L372.0,419.6 L371.8,419.6 L371.5,419.6 L371.2,419.6 L371.0,419.6 L370.8,419.6 L370.5,419.6 L370.2,419.6 L370.0,419.6 L369.8,419.6 L369.5,419.6 L369.2,419.6 L369.0,419.6 L368.8,419.6 L368.5,419.6 L368.2,419.6 L368.0,419.6 L367.8,419.6 L367.5,419.6 L367.2,419.6 L367.0,419.6 L366.8,419.6 L366.5,419.6 L366.2,419.6 L366.0,419.6 L365.8,419.6 L365.5,419.6 L365.2,419.6 L365.0,419.6 L364.8,419.6 L364.5,419.6 L364.2,419.6 L364.0,419.6 L363.8,419.6 L363.5,419.6 L363.2,419.6 L363.0,419.6 L362.8,419.6 L362.5,419.6 L362.2,419.6 L362.0,419.6 L361.8,419.6 L361.5,419.6 L361.2,419.6 L361.0,419.6 L360.8,419.6 L360.5,419.6 L360.2,419.6 L360.0,419.6 L359.8,419.6 L359.5,419.6 L359.2,419.6 L359.0,419.6 L358.8,419.6 L358.5,419.6 L358.2,419.6 L358.0,419.6 L357.8,419.6 L357.5,419.6 L357.2,419.6 L357.0,419.6 L356.8,419.6 L356.5,419.6 L356.2,419.6 L356.0,419.6 L355.8,419.6 L355.5,419.6 L355.2,419.6 L355.0,419.6 L354.8,419.6 L354.5,419.6 L354.2,419.6 L354.0,419.6 L353.8,419.6 L353.5,419.6 L353.2,419.6 L353.0,419.6 L352.8,419.6 L352.5,419.6 L352.2,419.6 L352.0,419.6 L351.8,419.6 L351.5,419.6 L351.2,419.6 L351.0,419.6 L350.8,419.6 L350.5,419.6 L350.2,419.6 L350.0,419.6 L349.8,419.6 L349.5,419.6 L349.2,419.6 L349.0,419.6 L348.8,419.6 L348.5,419.6 L348.2,419.6 L348.0,419.6 L347.8,419.6 L347.5,419.6 L347.2,419.6 L347.0,419.6 L346.8,419.6 L346.5,419.6 L346.2,419.6 L346.0,419.6 L345.8,419.6 L345.5,419.6 L345.2,419.6 L345.0,419.6 L344.8,419.6 L344.5,419.6 L344.2,419.6 L344.0,419.6 L343.8,419.6 L343.5,419.6 L343.2,419.6 L343.0,419.6 L342.8,419.6 L342.5,419.6 L342.2,419.6 L342.0,419.6 L341.8,419.6 L341.5,419.6 L341.2,419.6 L341.0,419.6 L340.8,419.6 L340.5,419.6 L340.2,419.6 L340.0,419.6 L339.8,419.6 L339.5,419.6 L339.2,419.6 L339.0,419.6 L338.8,419.6 L338.5,419.6 L338.2,419.6 L338.0,419.6 L337.8,419.6 L337.5,419.6 L337.2,419.6 L337.0,419.6 L336.8,419.6 L336.5,419.6 L336.2,419.6 L336.0,419.6 L335.8,419.6 L335.5,419.6 L335.2,419.6 L335.0,419.6 L334.8,419.6 L334.5,419.6 L334.2,419.6 L334.0,419.6 L333.8,419.6 L333.5,419.6 L333.2,419.6 L333.0,419.6 L332.8,419.6 L332.5,419.6 L332.2,419.6 L332.0,419.6 L331.8,419.6 L331.5,419.6 L331.2,419.6 L331.0,419.6 L330.8,419.6 L330.5,419.6 L330.2,419.6 L330.0,419.6 L329.8,419.6 L329.5,419.6 L329.2,419.6 L329.0,419.6 L328.8,419.6 L328.5,419.6 L328.2,419.6 L328.0,419.6 L327.8,419.6 L327.5,419.6 L327.2,419.6 L327.0,419.6 L326.8,419.6 L326.5,419.6 L326.2,419.6 L326.0,419.6 L325.8,419.6 L325.5,419.6 L325.2,419.6 L325.0,419.6 L324.8,419.6 L324.5,419.6 L324.2,419.6 L324.0,419.6 L323.8,419.6 L323.5,419.6 L323.2,419.6 L323.0,419.6 L322.8,419.6 L322.5,419.6 L322.2,419.6 L322.0,419.6 L321.8,419.6 L321.5,419.6 L321.2,419.6 L321.0,419.6 L320.8,419.6 L320.5,419.6 L320.2,419.6 L320.0,419.6 L319.8,419.6 L319.5,419.6 L319.2,419.6 L319.0,419.6 L318.8,419.6 L318.5,419.6 L318.2,419.6 L318.0,419.6 L317.8,419.6 L317.5,419.6 L317.2,419.6 L317.0,419.6 L316.8,419.6 L316.5,419.6 L316.2,419.6 L316.0,419.6 L315.8,419.6 L315.5,419.6 L315.2,419.6 L315.0,419.6 L314.8,419.6 L314.5,419.6 L314.2,419.6 L314.0,419.6 L313.8,419.6 L313.5,419.6 L313.2,419.6 L313.0,419.6 L312.8,419.6 L312.5,419.6 L312.2,419.6 L312.0,419.6 L311.8,419.6 L311.5,419.6 L311.2,419.6 L311.0,419.6 L310.8,419.6 L310.5,419.6 L310.2,419.6 L310.0,419.6 L309.8,419.6 L309.5,419.6 L309.2,419.6 L309.0,419.6 L308.8,419.6 L308.5,419.6 L308.2,419.6 L308.0,419.6 L307.8,419.6 L307.5,419.6 L307.2,419.6 L307.0,419.6 L306.8,419.6 L306.5,419.6 L306.2,419.6 L306.0,419.6 L305.8,419.6 L305.5,419.6 L305.2,419.6 L305.0,419.6 L304.8,419.6 L304.5,419.6 L304.2,419.6 L304.0,419.6 L303.8,419.6 L303.5,419.6 L303.2,419.6 L303.0,419.6 L302.8,419.6 L302.5,419.6 L302.2,419.6 L302.0,419.6 L301.8,419.6 L301.5,419.6 L301.2,419.6 L301.0,419.6 L300.8,419.6 L300.5,419.6 L300.2,419.6 L300.0,419.6 L299.8,419.6 L299.5,419.6 L299.2,419.6 L299.0,419.6 L298.8,419.6 L298.5,419.6 L298.2,419.6 L298.0,419.6 L297.8,419.6 L297.5,419.6 L297.2,419.6 L297.0,419.6 L296.8,419.6 L296.5,419.6 L296.2,419.6 L296.0,419.6 L295.8,419.6 L295.5,419.6 L295.2,419.6 L295.0,419.6 L294.8,419.6 L294.5,419.6 L294.2,419.6 L294.0,419.6 L293.8,419.6 L293.5,419.6 L293.2,419.6 L293.0,419.6 L292.8,419.6 L292.5,419.6 L292.2,419.6 L292.0,419.6 L291.8,419.6 L291.5,419.6 L291.2,419.6 L291.0,419.6 L290.8,419.6 L290.5,419.6 L290.2,419.6 L290.0,419.6 L289.8,419.6 L289.5,419.6 L289.2,419.6 L289.0,419.6 L288.8,419.6 L288.5,419.6 L288.2,419.6 L288.0,419.6 L287.8,419.6 L287.5,419.6 L287.2,419.6 L287.0,419.6 L286.8,419.6 L286.5,419.6 L286.2,419.6 L286.0,419.6 L285.8,419.6 L285.5,419.6 L285.2,419.6 L285.0,419.6 L284.8,419.6 L284.5,419.6 L284.2,419.6 L284.0,419.6 L283.8,419.6 L283.5,419.6 L283.2,419.6 L283.0,419.6 L282.8,419.6 L282.5,419.6 L282.2,419.6 L282.0,419.6 L281.8,419.6 L281.5,419.6 L281.2,419.6 L281.0,419.6 L280.8,419.6 L280.5,419.6 L280.2,419.6 L280.0,419.6 L279.8,419.6 L279.5,419.6 L279.2,419.6 L279.0,419.6 L278.8,419.6 L278.5,419.6 L278.2,419.6 L278.0,419.6 L277.8,419.6 L277.5,419.6 L277.2,419.6 L277.0,419.6 L276.8,419.6 L276.5,419.6 L276.2,419.6 L276.0,419.6 L275.8,419.6 L275.5,419.6 L275.2,419.6 L275.0,419.6 L274.8,419.6 L274.5,419.6 L274.2,419.6 L274.0,419.6 L273.8,419.6 L273.5,419.6 L273.2,419.6 L273.0,419.6 L272.8,419.6 L272.5,419.6 L272.2,419.6 L272.0,419.6 L271.8,419.6 L271.5,419.6 L271.2,419.6 L271.0,419.6 L270.8,419.6 L270.5,419.6 L270.2,419.6 L270.0,419.6 L269.8,419.6 L269.5,419.6 L269.2,419.6 L269.0,419.6 L268.8,419.6 L268.5,419.6 L268.2,419.6 L268.0,419.6 L267.8,419.6 L267.5,419.6 L267.2,419.6 L267.0,419.6 L266.8,419.6 L266.5,419.6 L266.2,419.6 L266.0,419.6 L265.8,419.6 L265.5,419.6 L265.2,419.6 L265.0,419.6 L264.8,419.6 L264.5,419.6 L264.2,419.6 L264.0,419.6 L263.8,419.6 L263.5,419.6 L263.2,419.6 L263.0,419.6 L262.8,419.6 L262.5,419.6 L262.2,419.6 L262.0,419.6 L261.8,419.6 L261.5,419.6 L261.2,419.6 L261.0,419.6 L260.8,419.6 L260.5,419.6 L260.2,419.6 L260.0,419.6 L259.8,419.6 L259.5,419.6 L259.2,419.6 L259.0,419.6 L258.8,419.6 L258.5,419.6 L258.2,419.6 L258.0,419.6 L257.8,419.6 L257.5,419.6 L257.2,419.6 L257.0,419.6 L256.8,419.6 L256.5,419.6 L256.2,419.6 L256.0,419.6 L255.8,419.6 L255.5,419.6 L255.2,419.6 L255.0,419.6 L254.8,419.6 L254.5,419.6 L254.2,419.6 L254.0,419.6 L253.8,419.6 L253.5,419.6 L253.2,419.6 L253.0,419.6 L252.8,419.6 L252.5,419.6 L252.2,419.6 L252.0,419.6 L251.8,419.6 L251.5,419.6 L251.2,419.6 L251.0,419.6 L250.8,419.6 L250.5,419.6 L250.2,419.6 L250.0,419.6 L249.8,419.6 L249.5,419.6 L249.2,419.6 L249.0,419.6 L248.8,419.6 L248.5,419.6 L248.2,419.6 L248.0,419.6 L247.8,419.6 L247.5,419.6 L247.2,419.6 L247.0,419.6 L246.8,419.6 L246.5,419.6 L246.2,419.6 L246.0,419.6 L245.8,419.6 L245.5,419.6 L245.2,419.6 L245.0,419.6 L244.8,419.6 L244.5,419.6 L244.2,419.6 L244.0,419.6 L243.8,419.6 L243.5,419.6 L243.2,419.6 L243.0,419.6 L242.8,419.6 L242.5,419.6 L242.2,419.6 L242.0,419.6 L241.8,419.6 L241.5,419.6 L241.2,419.6 L241.0,419.6 L240.8,419.6 L240.5,419.6 L240.2,419.6 L240.0,419.6 L239.8,419.6 L239.5,419.6 L239.2,419.6 L239.0,419.6 L238.8,419.6 L238.5,419.6 L238.2,419.6 L238.0,419.6 L237.8,419.6 L237.5,419.6 L237.2,419.6 L237.0,419.6 L236.8,419.6 L236.5,419.6 L236.2,419.6 L236.0,419.6 L235.8,419.6 L235.5,419.6 L235.2,419.6 L235.0,419.6 L234.8,419.6 L234.5,419.6 L234.2,419.6 L234.0,419.6 L233.8,419.6 L233.5,419.6 L233.2,419.6 L233.0,419.6 L232.8,419.6 L232.5,419.6 L232.2,419.6 L232.0,419.6 L231.8,419.6 L231.5,419.6 L231.2,419.6 L231.0,419.6 L230.8,419.6 L230.5,419.6 L230.2,419.6 L230.0,419.6 L229.8,419.6 L229.5,419.6 L229.2,419.6 L229.0,419.6 L228.8,419.6 L228.5,419.6 L228.2,419.6 L228.0,419.6 L227.8,419.6 L227.5,419.6 L227.2,419.6 L227.0,419.6 L226.8,419.6 L226.5,419.6 L226.2,419.6 L226.0,419.6 L225.8,419.6 L225.5,419.6 L225.2,419.6 L225.0,419.6 L224.8,419.6 L224.5,419.6 L224.2,419.6 L224.0,419.6 L223.8,419.6 L223.5,419.6 L223.2,419.6 L223.0,419.6 L222.8,419.6 L222.5,419.6 L222.2,419.6 L222.0,419.6 L221.8,419.6 L221.5,419.6 L221.2,419.6 L221.0,419.6 L220.8,419.6 L220.5,419.6 L220.2,419.6 L220.0,419.6 L219.8,419.6 L219.5,419.6 L219.2,419.6 L219.0,419.6 L218.8,419.6 L218.5,419.6 L218.2,419.6 L218.0,419.6 L217.8,419.6 L217.5,419.6 L217.2,419.6 L217.0,419.6 L216.8,419.6 L216.5,419.6 L216.2,419.6 L216.0,419.6 L215.8,419.6 L215.5,419.6 L215.2,419.6 L215.0,419.6 L214.8,419.6 L214.5,419.6 L214.2,419.6 L214.0,419.6 L213.8,419.6 L213.5,419.6 L213.2,419.6 L213.0,419.6 L212.8,419.6 L212.5,419.6 L212.2,419.6 L212.0,419.6 L211.8,419.6 L211.5,419.6 L211.2,419.6 L211.0,419.6 L210.8,419.6 L210.5,419.6 L210.2,419.6 L210.0,419.6 L209.8,419.6 L209.5,419.6 L209.2,419.6 L209.0,419.6 L208.8,419.6 L208.5,419.6 L208.2,419.6 L208.0,419.6 L207.8,419.6 L207.5,419.6 L207.2,419.6 L207.0,419.6 L206.8,419.6 L206.5,419.6 L206.2,419.6 L206.0,419.6 L205.8,419.6 L205.5,419.6 L205.2,419.6 L205.0,419.6 L204.8,419.6 L204.5,419.6 L204.2,419.6 L204.0,419.6 L203.8,419.6 L203.5,419.6 L203.2,419.6 L203.0,419.6 L202.8,419.6 L202.5,419.6 L202.2,419.6 L202.0,419.6 L201.8,419.6 L201.5,419.6 L201.2,419.6 L201.0,419.6 L200.8,419.6 L200.5,419.6 L200.2,419.6 L200.0,419.6 L199.8,419.6 L199.5,419.6 L199.2,419.6 L199.0,419.6 L198.8,419.6 L198.5,419.6 L198.2,419.6 L198.0,419.6 L197.8,419.6 L197.5,419.6 L197.2,419.6 L197.0,419.6 L196.8,419.6 L196.5,419.6 L196.2,419.6 L196.0,419.6 L195.8,419.6 L195.5,419.6 L195.2,419.6 L195.0,419.6 L194.8,419.6 L194.5,419.6 L194.2,419.6 L194.0,419.6 L193.8,419.6 L193.5,419.6 L193.2,419.6 L193.0,419.6 L192.8,419.6 L192.5,419.6 L192.2,419.6 L192.0,419.6 L191.8,419.6 L191.5,419.6 L191.2,419.6 L191.0,419.6 L190.8,419.6 L190.5,419.6 L190.2,419.6 L190.0,419.6 L189.8,419.6 L189.5,419.6 L189.2,419.6 L189.0,419.6 L188.8,419.6 L188.5,419.6 L188.2,419.6 L188.0,419.6 L187.8,419.6 L187.5,419.6 L187.2,419.6 L187.0,419.6 L186.8,419.6 L186.5,419.6 L186.2,419.6 L186.0,419.6 L185.8,419.6 L185.5,419.6 L185.2,419.6 L185.0,419.6 L184.8,419.6 L184.5,419.6 L184.2,419.6 L184.0,419.6 L183.8,419.6 L183.5,419.6 L183.2,419.6 L183.0,419.6 L182.8,419.6 L182.5,419.6 L182.2,419.6 L182.0,419.6 L181.8,419.6 L181.5,419.6 L181.2,419.6 L181.0,419.6 L180.8,419.6 L180.5,419.6 L180.2,419.6 L180.0,419.6 L179.8,419.6 L179.5,419.6 L179.2,419.6 L179.0,419.6Z"/>
</g>
<polyline fill="none" stroke="#ff0000" stroke-width="3.5" stroke-dasharray="8.6 4.4" points="509.5,78 597,63 649,75.5 687,44.5 737.4,75 774.5,70 803.8,77.5 826,64.5 846.6,86"/>
<polyline fill="none" stroke="#0000ff" stroke-width="3.5" stroke-dasharray="8.6 4.4" points="510,202.4 595,181.8 659,189.3 686.8,160.9 734.6,188 778.6,188 800,165 822.5,171.7 838,182 849,201"/>
<polygon points="128,0 850,1.7 850,6.4 128,3.6" fill="#000"/>
<rect x="128.2" y="0" width="2.6" height="418.4" fill="#000"/>
<rect x="849" y="0" width="4.2" height="417.8" fill="#000"/>
<rect x="128.2" y="414.2" width="721.5" height="4.3" fill="#000"/>
<rect x="178.6" y="405" width="242.5" height="14.6" fill="#0000ff"/>
<g fill="#000">
<rect x="444.4" y="71" width="15.2" height="5"/>
<rect x="464" y="71" width="15.2" height="5"/>
<rect x="484" y="71" width="15.2" height="5"/>
<rect x="440.4" y="189.8" width="15" height="5"/>
<rect x="460.4" y="189.8" width="15" height="5"/>
<rect x="480.3" y="189.8" width="15" height="5"/>
<rect x="471" y="95" width="7" height="68"/>
<polygon points="474.5,77 484.8,97.4 464.6,97.4"/>
<polygon points="474.3,181.4 464,160.6 484.8,160.6"/>
</g>
<text x="145.6" y="46.4" font-size="31.3" font-weight="bold" fill="#ff0000" stroke="#ff0000" stroke-width="0.5" textLength="202" lengthAdjust="spacingAndGlyphs">W/O Balance</text>
<text x="147.5" y="123.2" font-size="31.6" font-weight="bold" fill="#0000ff" stroke="#0000ff" stroke-width="0.5" textLength="176.4" lengthAdjust="spacingAndGlyphs">W/ Balance</text>
<text x="353.6" y="124" font-size="37" font-weight="bold" fill="#000" stroke="#000" stroke-width="0.5" textLength="91" lengthAdjust="spacingAndGlyphs">20dB</text>
<g font-size="30.4" font-weight="bold" fill="#000" stroke="#000" stroke-width="0.4" lengthAdjust="spacingAndGlyphs">
<text x="62.3" y="67.1" textLength="48.2" lengthAdjust="spacingAndGlyphs">120</text>
<text x="62" y="179.2" textLength="48.2" lengthAdjust="spacingAndGlyphs">100</text>
<text x="85.6" y="298" textLength="32.3" lengthAdjust="spacingAndGlyphs">80</text>
<text x="83.4" y="410.8" textLength="32.3" lengthAdjust="spacingAndGlyphs">60</text>
</g>
<text transform="translate(43.4,358.6) rotate(-90)" font-size="33.8" fill="#000" stroke="#000" stroke-width="0.35">CM Noise (dBuV)</text>
<g fill="#000" stroke="#000" stroke-width="0.3">
<text x="114" y="465.9" font-size="35.3" textLength="36.6" lengthAdjust="spacingAndGlyphs">10</text><text x="151.2" y="455.2" font-size="21">5</text>
<text x="390.3" y="464.4" font-size="35.3" textLength="36.6" lengthAdjust="spacingAndGlyphs">10</text><text x="427.3" y="453.6" font-size="21">6</text>
<text x="695.8" y="464.7" font-size="35.3" textLength="36.6" lengthAdjust="spacingAndGlyphs">10</text><text x="733.2" y="454.8" font-size="21">7</text>
</g>
</svg>
</body></html>
